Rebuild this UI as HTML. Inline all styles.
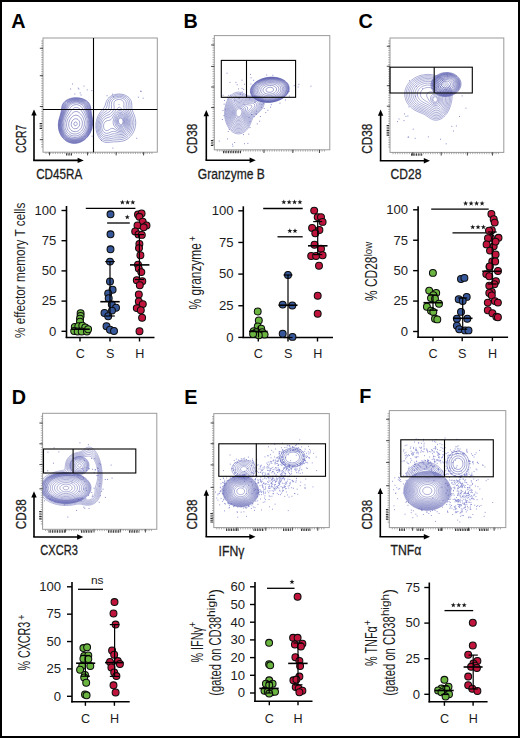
<!DOCTYPE html>
<html><head><meta charset="utf-8"><style>
html,body{margin:0;padding:0;background:#fff;}
body{width:520px;height:738px;overflow:hidden;}
svg{display:block;font-family:"Liberation Sans", sans-serif;}
</style></head><body>
<svg width="520" height="738" viewBox="0 0 520 738">
<rect x="0" y="0" width="520" height="738" fill="#fff"/>
<text x="11.3" y="28" font-size="19.8" font-weight="bold" text-anchor="start" fill="#000">A</text>
<text x="183.6" y="27.6" font-size="19.8" font-weight="bold" text-anchor="start" fill="#000">B</text>
<text x="358.4" y="28" font-size="19.8" font-weight="bold" text-anchor="start" fill="#000">C</text>
<text x="11.8" y="403.8" font-size="19.8" font-weight="bold" text-anchor="start" fill="#000">D</text>
<text x="184.2" y="403.8" font-size="19.8" font-weight="bold" text-anchor="start" fill="#000">E</text>
<text x="359.2" y="403.4" font-size="19.8" font-weight="bold" text-anchor="start" fill="#000">F</text>
<rect x="43" y="38" width="114.3" height="114.2" stroke="#9a9a9a" stroke-width="1" fill="none"/>
<path d="M41.2,41h1.8M41.2,43.35h1.8M41.2,45.7h1.8M41.2,48.06h1.8M41.2,50.41h1.8M41.2,52.76h1.8M41.2,55.11h1.8M41.2,57.47h1.8M41.2,59.82h1.8M41.2,62.17h1.8M41.2,64.52h1.8M41.2,66.87h1.8M41.2,69.23h1.8M41.2,71.58h1.8M41.2,73.93h1.8M41.2,76.28h1.8M41.2,78.63h1.8M41.2,80.99h1.8M41.2,83.34h1.8M41.2,85.69h1.8M41.2,88.04h1.8M41.2,90.4h1.8M41.2,92.75h1.8M41.2,95.1h1.8M41.2,97.45h1.8M41.2,99.8h1.8M41.2,102.16h1.8M41.2,104.51h1.8M41.2,106.86h1.8M41.2,109.21h1.8M41.2,111.57h1.8M41.2,113.92h1.8M41.2,116.27h1.8M41.2,118.62h1.8M41.2,120.97h1.8M41.2,123.33h1.8M41.2,125.68h1.8M41.2,128.03h1.8M41.2,130.38h1.8M41.2,132.73h1.8M41.2,135.09h1.8M41.2,137.44h1.8M41.2,139.79h1.8M41.2,142.14h1.8M41.2,144.5h1.8M41.2,146.85h1.8M46,152.2v1.8M48.35,152.2v1.8M50.71,152.2v1.8M53.06,152.2v1.8M55.42,152.2v1.8M57.77,152.2v1.8M60.13,152.2v1.8M62.48,152.2v1.8M64.83,152.2v1.8M67.19,152.2v1.8M69.54,152.2v1.8M71.9,152.2v1.8M74.25,152.2v1.8M76.61,152.2v1.8M78.96,152.2v1.8M81.32,152.2v1.8M83.67,152.2v1.8M86.02,152.2v1.8M88.38,152.2v1.8M90.73,152.2v1.8M93.09,152.2v1.8M95.44,152.2v1.8M97.8,152.2v1.8M100.15,152.2v1.8M102.5,152.2v1.8M104.86,152.2v1.8M107.21,152.2v1.8M109.57,152.2v1.8M111.92,152.2v1.8M114.28,152.2v1.8M116.63,152.2v1.8M118.98,152.2v1.8M121.34,152.2v1.8M123.69,152.2v1.8M126.05,152.2v1.8M128.4,152.2v1.8M130.76,152.2v1.8M133.11,152.2v1.8M135.47,152.2v1.8M137.82,152.2v1.8M140.17,152.2v1.8M142.53,152.2v1.8M144.88,152.2v1.8M147.24,152.2v1.8M149.59,152.2v1.8M151.95,152.2v1.8" stroke="#8a8a8a" stroke-width="0.7"/>
<path d="M39.8,48.28h3.2M39.8,75.69h3.2M39.8,106.52h3.2M39.8,139.64h3.2M49.52,152.2v3.2M87.58,152.2v3.2M116.15,152.2v3.2M143.58,152.2v3.2" stroke="#333" stroke-width="0.9"/>
<line x1="66" y1="154.4" x2="72" y2="154.4" stroke="#2a2a2a" stroke-width="2.4" stroke-dasharray="0.9 0.8"/>
<line x1="40.8" y1="123" x2="40.8" y2="129" stroke="#2a2a2a" stroke-width="2.4" stroke-dasharray="0.9 0.8"/>
<line x1="34" y1="160.4" x2="34" y2="113.4" stroke="#000" stroke-width="1.6"/>
<line x1="33.2" y1="160.4" x2="79.8" y2="160.4" stroke="#000" stroke-width="1.6"/>
<path d="M34,109.4 L31.3,115.6 L36.7,115.6Z" fill="#000"/>
<path d="M83.8,160.4 L77.6,157.7 L77.6,163.1Z" fill="#000"/>
<path d="M80.6,95.0h0.9M74.4,94.0h0.9M78.4,89.0h0.9M91.4,90.6h0.9M79.7,92.9h0.9M86.8,89.9h0.9M83.5,86.1h0.9M77.8,88.2h0.9M72.0,84.0h0.9M70.2,89.0h0.9M113.2,96.8h0.9M112.0,94.2h0.9M101.0,140.4h0.9M91.6,136.2h0.9M95.6,109.7h0.9M106.6,95.7h0.9M140.8,91.3h0.9M137.9,97.2h0.9M140.1,91.3h0.9M136.3,138.3h0.9M112.4,148.1h0.9M142.7,98.2h0.9" stroke="#4f55b5" stroke-width="0.9" opacity="0.8"/>
<path d="M74.9,122l1.1,-0.1 0.8,0.6 0.4,1 -0.2,1.2 -0.7,0.8 -1.3,0.3 -0.9,-0.8 -0.3,-1 0.2,-1 0.9,-1 M74.4,119l1.1,-0.3 1.5,0.2 1,0.6 0.5,0.5 0.7,1 0.4,1 0.2,1.5 -0.2,1.5 -0.4,1 -0.6,1 -0.6,0.7 -1,0.7 -1,0.3 -1.5,0 -1,-0.3 -1,-0.8 -0.5,-0.6 -0.5,-1 -0.3,-1.5 0.2,-1.5 0.3,-1 0.5,-1 0.8,-1 0.5,-0.5 0.9,-0.5 M74.3,115.5l1.2,-0.3 1.5,0.1 1,0.3 1,0.7 0.8,0.7 0.7,0.8 0.5,0.7 0.5,1 0.5,1.3 0.3,1.2 0.1,1.5 -0.2,1.5 -0.2,1 -0.5,1.3 -0.5,0.9 -0.6,0.8 -0.9,1 -0.7,0.5 -0.8,0.5 -1.3,0.5 -1.2,0.2 -1.5,-0.1 -1,-0.2 -1,-0.5 -1,-0.8 -0.6,-0.6 -0.7,-1 -0.5,-1 -0.3,-1 -0.2,-1.5 0,-1.5 0.3,-1.5 0.3,-1 0.5,-1 0.5,-1 0.7,-0.9 0.5,-0.6 1,-0.9 0.8,-0.6 1,-0.5 M75.7,111.5l1,0 1.3,0.4 1,0.6 0.6,0.5 0.9,0.8 0.6,0.7 0.7,1 0.7,1 0.5,0.9 0.5,1.1 0.3,1 0.3,1 0.3,1.5 0,1.5 -0.1,1.5 -0.3,1.4 -0.4,1.1 -0.4,1 -0.6,1 -0.6,0.9 -0.5,0.6 -1,0.9 -0.8,0.6 -0.8,0.5 -1.1,0.5 -1.3,0.4 -1,0.1 -1.5,0 -1,-0.2 -1,-0.3 -1,-0.5 -1,-0.7 -0.9,-0.8 -0.6,-0.8 -0.5,-0.7 -0.5,-1 -0.5,-1.4 -0.3,-1.1 -0.1,-1.5 0,-1.5 0.3,-1.5 0.2,-1 0.4,-1 0.5,-1.2 0.5,-0.9 0.6,-0.9 0.7,-1 0.7,-0.9 0.5,-0.6 1,-1 0.6,-0.5 0.9,-0.7 1,-0.5 1.2,-0.3 M75.4,107.5l1.1,-0.1 1,0.2 1,0.4 1,0.7 0.9,0.8 0.6,0.7 0.5,0.8 0.7,1 0.6,1 0.6,1 0.5,1 0.5,1 0.5,1 0.3,1 0.4,1 0.3,1.5 0.2,1 0,1.5 0,1.5 -0.2,1 -0.3,1.5 -0.3,1 -0.4,1 -0.6,1 -0.6,1 -0.7,0.9 -0.5,0.6 -1,0.9 -0.7,0.6 -0.8,0.5 -1,0.5 -1.2,0.5 -1.3,0.3 -1.5,0.2 -1.5,-0.1 -1.5,-0.3 -1,-0.4 -1,-0.6 -0.9,-0.6 -0.6,-0.5 -1,-1 -0.5,-0.7 -0.5,-0.8 -0.5,-1 -0.5,-1.2 -0.4,-1.3 -0.1,-1 -0.1,-1.5 0,-1.5 0.1,-1 0.4,-1.5 0.3,-1 0.3,-1 0.5,-1.1 0.5,-1 0.5,-0.9 0.6,-1 0.7,-1 0.6,-1 0.6,-0.9 0.5,-0.7 0.7,-0.9 0.8,-0.9 0.6,-0.6 0.9,-0.7 1,-0.6 0.9,-0.2 M73.9,105l1.1,-0.3 1.5,-0.1 1.5,0.2 1,0.4 1,0.5 1,0.7 0.6,0.6 0.7,1 0.6,1 0.6,1 0.4,1 0.5,1 0.4,1 0.5,1 0.4,1 0.4,1 0.4,1.2 0.4,1.3 0.2,1 0.3,1.5 0.1,1.3 0,1.2 -0.1,1 -0.2,1.5 -0.2,1 -0.5,1.5 -0.4,1 -0.5,1 -0.6,1 -0.5,0.8 -0.6,0.7 -0.9,1 -0.5,0.5 -1,0.8 -1,0.6 -1,0.5 -1,0.5 -1,0.3 -1.5,0.3 -1,0 -1.2,0 -1.3,-0.2 -1.1,-0.3 -1.2,-0.5 -0.9,-0.5 -0.8,-0.5 -1,-0.8 -0.7,-0.7 -0.8,-1 -0.5,-0.8 -0.5,-0.9 -0.5,-1.1 -0.4,-1.2 -0.3,-1 -0.2,-1.5 -0.1,-1.1 0,-1.1 0.1,-1.3 0.2,-1.5 0.3,-1 0.4,-1.3 0.4,-1.2 0.5,-1 0.4,-1 0.6,-1 0.5,-1 0.5,-1 0.5,-1 0.5,-1 0.6,-1 0.5,-1 0.5,-0.8 0.5,-0.7 0.9,-1 0.6,-0.5 1,-0.6 0.9,-0.4 M75.2,103l1.3,0 1,0 1.5,0.4 1,0.3 1,0.5 1,0.7 0.6,0.6 0.8,1 0.6,0.9 0.5,1 0.4,1.1 0.4,1 0.4,1 0.3,1 0.5,1.3 0.4,1.2 0.4,1 0.3,1 0.4,1.5 0.2,1 0.2,1.5 0.1,1 0,1.5 0,1 -0.2,1.5 -0.3,1.2 -0.4,1.3 -0.4,1 -0.4,1 -0.5,1 -0.7,1 -0.6,0.8 -0.5,0.7 -1,1 -0.6,0.5 -0.9,0.7 -1,0.7 -1,0.5 -1,0.5 -1,0.3 -1.2,0.3 -1.3,0.2 -1.5,0 -1.5,-0.2 -1,-0.2 -1,-0.4 -1,-0.4 -1,-0.6 -1,-0.7 -0.8,-0.7 -0.7,-0.7 -0.6,-0.8 -0.7,-1 -0.6,-1 -0.5,-1 -0.3,-1 -0.3,-1 -0.3,-1.5 -0.2,-1.4 0,-1.1 0,-1.2 0.1,-1.3 0.3,-1.5 0.3,-1 0.3,-1.1 0.5,-1.4 0.4,-1 0.5,-1 0.4,-1 0.5,-1 0.4,-1 0.5,-1 0.4,-1 0.4,-1 0.5,-1.2 0.5,-1 0.5,-0.8 0.8,-1 0.7,-0.7 1,-0.6 1,-0.5 1,-0.4 1.5,-0.3 0.2,0 M75.3,102l1.2,0 1,0 1.5,0.3 1,0.3 1,0.4 1,0.6 1,0.7 0.7,0.7 0.8,1 0.5,0.9 0.5,1.1 0.3,1 0.4,1 0.3,1.1 0.4,1.4 0.4,1 0.3,1 0.4,1.2 0.4,1.3 0.2,1 0.3,1.5 0.2,1 0.1,1.5 0,1.5 -0.1,1.5 -0.1,1 -0.4,1.5 -0.3,1 -0.3,1 -0.5,1.1 -0.5,1 -0.5,0.9 -0.7,1 -0.8,0.9 -0.5,0.6 -1,1 -0.7,0.5 -0.8,0.6 -1,0.6 -1,0.6 -1,0.4 -1,0.3 -1.5,0.3 -1.5,0.2 -1.5,-0.1 -1.5,-0.2 -1,-0.3 -1.1,-0.4 -1.1,-0.5 -0.8,-0.5 -1,-0.7 -0.9,-0.8 -0.6,-0.7 -0.7,-0.8 -0.7,-1 -0.5,-1 -0.5,-1 -0.4,-1 -0.3,-1 -0.4,-1.5 -0.1,-1 -0.1,-1.5 0,-1.5 0.1,-1.5 0.2,-1 0.4,-1.5 0.2,-1 0.4,-1 0.4,-1.1 0.5,-1.2 0.5,-1.2 0.4,-1 0.4,-1 0.4,-1 0.4,-1 0.4,-1.2 0.5,-1.3 0.4,-1 0.6,-1 0.5,-0.8 0.7,-0.7 0.8,-0.7 1,-0.6 1,-0.5 1,-0.3 1.5,-0.3 0.8,-0.1 M73.7,101.5l1.3,-0.2 1.5,0 1.5,0.1 1,0.2 1.5,0.4 1,0.4 1,0.6 0.8,0.5 0.7,0.6 0.8,0.9 0.6,1 0.5,1 0.4,1 0.3,1 0.4,1.3 0.3,1.2 0.3,1 0.4,1.3 0.4,1.2 0.3,1 0.3,1.3 0.3,1.2 0.2,1.2 0.2,1.3 0.1,1.5 -0.1,1.5 -0.1,1.5 -0.2,1 -0.4,1.5 -0.3,1 -0.4,1 -0.4,1 -0.5,1 -0.7,1 -0.7,1 -0.5,0.7 -0.8,0.8 -0.7,0.7 -0.9,0.8 -0.7,0.5 -0.9,0.6 -1,0.5 -1,0.5 -1.2,0.4 -1.3,0.3 -1.2,0.2 -1.3,0.1 -1.1,-0.1 -1.4,-0.2 -1.1,-0.3 -1.4,-0.5 -1,-0.5 -0.8,-0.5 -0.7,-0.5 -1,-0.9 -0.6,-0.6 -0.9,-1 -0.5,-0.7 -0.5,-0.8 -0.6,-1 -0.4,-1 -0.5,-1.4 -0.3,-1.1 -0.2,-1 -0.2,-1.5 0,-1.5 0,-1.5 0.2,-1.5 0.2,-1 0.3,-1.3 0.4,-1.2 0.3,-1 0.4,-1 0.4,-1.1 0.5,-1.2 0.5,-1.2 0.3,-1 0.4,-1 0.3,-1 0.5,-1.5 0.3,-1 0.4,-1 0.6,-1 0.7,-1 0.5,-0.5 1,-0.8 1,-0.6 1,-0.5 1,-0.3 1.2,-0.3 M72.7,101l1.3,-0.2 1.5,-0.2 1.5,0 1.5,0.2 1.1,0.2 1.4,0.4 1,0.4 1,0.6 0.9,0.6 0.6,0.5 0.9,1 0.6,0.9 0.5,0.9 0.5,1.2 0.3,1 0.2,1 0.4,1.5 0.2,1 0.4,1.3 0.3,1.2 0.3,1 0.4,1.5 0.2,1 0.3,1.5 0.1,1 0.2,1.5 0,1.5 -0.2,1.5 -0.1,1 -0.3,1.5 -0.3,1 -0.4,1.2 -0.5,1.2 -0.5,1 -0.5,0.9 -0.5,0.8 -0.7,0.9 -0.8,1 -0.5,0.5 -1,0.9 -0.7,0.6 -0.8,0.6 -1,0.6 -1,0.6 -1,0.4 -1,0.3 -1.5,0.4 -1,0.2 -1.5,0 -1.5,0 -1,-0.2 -1.5,-0.4 -1,-0.4 -1,-0.5 -1,-0.6 -0.8,-0.5 -0.7,-0.6 -0.9,-0.9 -0.6,-0.6 -0.7,-0.9 -0.7,-1 -0.5,-1 -0.5,-1 -0.4,-1 -0.3,-1 -0.3,-1.5 -0.2,-1 -0.1,-1.5 -0.1,-1.5 0.1,-1.5 0.2,-1.1 0.3,-1.4 0.2,-1 0.5,-1.5 0.3,-1 0.4,-1 0.4,-1 0.4,-1.1 0.5,-1.4 0.3,-1 0.3,-1 0.4,-1.4 0.3,-1.1 0.3,-1 0.4,-1 0.6,-1 0.8,-1 0.6,-0.6 1,-0.8 1,-0.6 1,-0.4 1,-0.4 0.7,-0.2 M72.4,100.5l1.1,-0.2 1.5,-0.2 1.5,0 1.5,0.1 1.5,0.2 1,0.3 1,0.3 1.1,0.5 0.9,0.5 1,0.7 0.9,0.8 0.6,0.7 0.6,0.8 0.5,1 0.4,1.1 0.4,1.4 0.2,1 0.4,1.5 0.2,1 0.3,1.2 0.3,1.3 0.3,1 0.4,1.5 0.2,1 0.3,1.5 0.1,1 0.1,1.5 0,1.5 -0.1,1.5 -0.2,1 -0.3,1.5 -0.2,1 -0.4,1.1 -0.5,1.2 -0.5,1.1 -0.5,0.9 -0.5,0.8 -0.6,0.9 -0.8,1 -0.6,0.6 -0.9,0.9 -0.6,0.5 -1,0.8 -1,0.7 -1,0.5 -1,0.5 -1,0.4 -1,0.3 -1.5,0.3 -1,0.1 -1.5,0 -1.3,-0.1 -1.2,-0.2 -1,-0.3 -1.3,-0.5 -1,-0.5 -0.9,-0.5 -0.8,-0.6 -1,-0.8 -0.6,-0.6 -0.9,-1 -0.5,-0.6 -0.6,-0.9 -0.6,-1 -0.5,-1 -0.4,-1 -0.4,-1.4 -0.3,-1.1 -0.2,-1.2 -0.1,-1.3 -0.1,-1.5 0.1,-1.5 0.1,-1.1 0.2,-1.4 0.3,-1.2 0.4,-1.3 0.3,-1 0.3,-1 0.5,-1.3 0.4,-1.2 0.4,-1 0.3,-1 0.4,-1.4 0.3,-1.1 0.2,-1 0.4,-1.5 0.4,-1 0.5,-1 0.7,-1 0.5,-0.6 1,-0.9 0.8,-0.5 0.9,-0.5 1.1,-0.5 1.2,-0.4 0.4,-0.1 M72.2,100l1.3,-0.3 1.5,-0.1 1.5,-0.1 1.5,0.1 1.5,0.3 1,0.2 1.2,0.4 1.2,0.5 1,0.5 0.7,0.5 0.9,0.7 0.8,0.8 0.7,0.9 0.5,0.9 0.5,1.2 0.3,1 0.2,1 0.3,1.5 0.2,1 0.4,1.5 0.2,1 0.4,1.5 0.2,1 0.3,1.3 0.2,1.2 0.3,1.5 0.1,1 0,1.5 0,1.5 -0.1,1 -0.2,1.5 -0.3,1.3 -0.3,1.2 -0.4,1 -0.4,1 -0.5,1 -0.5,1 -0.7,1 -0.7,1 -0.5,0.7 -0.8,0.8 -0.7,0.7 -0.9,0.8 -0.6,0.5 -1,0.7 -1,0.6 -1,0.5 -1,0.4 -1,0.3 -1.5,0.4 -1,0.1 -1.5,0.1 -1.5,-0.1 -1,-0.1 -1.5,-0.4 -1,-0.3 -1,-0.5 -1,-0.5 -1,-0.7 -0.7,-0.5 -0.8,-0.7 -0.8,-0.8 -0.7,-0.9 -0.5,-0.6 -0.6,-1 -0.6,-1 -0.4,-1 -0.4,-1 -0.5,-1.5 -0.2,-1 -0.3,-1.5 -0.1,-1 0,-1.5 0,-1.5 0.2,-1 0.2,-1.5 0.2,-1 0.4,-1.5 0.3,-1 0.4,-1 0.4,-1.2 0.4,-1.3 0.4,-1 0.3,-1 0.3,-1.5 0.2,-1 0.4,-1.5 0.2,-1 0.4,-1 0.4,-1 0.6,-1 0.9,-1 0.5,-0.5 1,-0.7 1,-0.6 1,-0.5 1,-0.4 1.2,-0.3 M72,99.5l1.5,-0.3 1.5,-0.1 1.5,-0.1 1.5,0.1 1.5,0.2 1,0.3 1.5,0.4 1,0.4 1,0.5 1,0.6 0.6,0.5 0.9,0.8 0.6,0.7 0.7,1 0.5,1 0.4,1 0.3,1.1 0.3,1.4 0.2,1.4 0.2,1.1 0.3,1.5 0.2,1 0.3,1.2 0.3,1.3 0.2,1 0.3,1.5 0.2,1.5 0,1 0.1,1.5 -0.1,1.2 -0.1,1.3 -0.3,1.5 -0.2,1 -0.4,1.3 -0.4,1.2 -0.5,1 -0.5,1 -0.5,1 -0.6,0.9 -0.5,0.7 -0.7,0.9 -0.8,0.9 -0.6,0.6 -0.9,0.8 -0.9,0.7 -0.7,0.5 -0.9,0.5 -1,0.6 -1,0.4 -1.5,0.5 -1,0.3 -1.4,0.2 -1.1,0.1 -1.5,0 -1,-0.1 -1.5,-0.3 -1,-0.3 -1,-0.4 -1,-0.5 -1,-0.6 -1,-0.6 -0.9,-0.8 -0.6,-0.5 -0.9,-1 -0.6,-0.8 -0.5,-0.7 -0.7,-1 -0.5,-1 -0.4,-1 -0.4,-1 -0.5,-1.5 -0.2,-1 -0.2,-1.5 -0.1,-1 0,-1.5 0,-1.2 0.1,-1.3 0.3,-1.5 0.2,-1 0.4,-1.5 0.3,-1 0.3,-1 0.4,-1.2 0.4,-1.3 0.3,-1 0.3,-1 0.3,-1.5 0.2,-1 0.3,-1.5 0.2,-1 0.5,-1.5 0.5,-1 0.5,-0.8 0.6,-0.7 0.9,-0.9 0.8,-0.6 0.8,-0.5 1,-0.5 1.2,-0.5 1.2,-0.4 0.5,-0.1 M71.9,99l1.1,-0.2 1.5,-0.2 1.5,-0.1 1.5,0.1 1.5,0.1 1.4,0.3 1.1,0.3 1,0.3 1,0.4 1,0.5 1,0.7 1,0.7 0.6,0.6 0.8,1 0.6,0.9 0.5,1 0.4,1.1 0.2,1 0.3,1.5 0.1,1 0.3,1.5 0.2,1.4 0.2,1.1 0.3,1.3 0.3,1.2 0.2,1.2 0.2,1.3 0.2,1.5 0.1,1.5 0,1.5 -0.1,1.5 -0.3,1.5 -0.2,1 -0.4,1.5 -0.3,1 -0.4,1 -0.4,1 -0.5,1 -0.6,1 -0.7,1 -0.6,0.8 -0.6,0.7 -0.9,1 -0.5,0.5 -1,0.9 -0.8,0.6 -0.8,0.5 -0.9,0.6 -1,0.5 -1,0.4 -1.5,0.5 -1,0.3 -1.5,0.2 -1,0.1 -1.5,0 -1,-0.1 -1.5,-0.3 -1,-0.3 -1,-0.4 -1.1,-0.5 -0.9,-0.5 -1,-0.6 -1,-0.8 -0.6,-0.6 -0.9,-0.9 -0.5,-0.6 -0.8,-1 -0.6,-1 -0.5,-1 -0.5,-1 -0.4,-1 -0.3,-1 -0.4,-1.4 -0.2,-1.1 -0.2,-1.5 -0.1,-1.5 0.1,-1.5 0.1,-1.5 0.2,-1.5 0.2,-1 0.4,-1.4 0.3,-1.1 0.3,-1 0.4,-1.2 0.4,-1.3 0.3,-1 0.3,-1.2 0.3,-1.3 0.2,-1.5 0.1,-1 0.4,-1.5 0.3,-1 0.4,-1 0.6,-1 0.7,-0.8 0.7,-0.7 0.8,-0.7 1,-0.6 1,-0.5 1,-0.5 1,-0.3 1.4,-0.4 M71.8,98.5l1.2,-0.2 1.5,-0.2 1.5,-0.1 1.5,0.1 1.5,0.1 1.5,0.3 1,0.2 1,0.4 1.1,0.4 1.1,0.5 0.8,0.5 1,0.7 1,0.8 0.5,0.6 0.7,0.9 0.6,1 0.4,1 0.4,1 0.3,1.5 0.1,1 0.2,1.5 0.2,1.5 0.1,1 0.3,1.5 0.2,1 0.3,1.5 0.2,1 0.2,1.5 0.2,1.5 0,1.5 0,1.5 -0.2,1.5 -0.2,1.4 -0.2,1.1 -0.3,1 -0.5,1.4 -0.4,1.1 -0.5,1 -0.5,1 -0.6,0.9 -0.5,0.8 -0.6,0.8 -0.8,1 -0.6,0.6 -0.9,0.9 -0.6,0.5 -1,0.8 -1,0.7 -0.9,0.5 -0.9,0.5 -1.2,0.5 -1,0.4 -1,0.2 -1.5,0.3 -1,0.1 -1.5,0.1 -1,-0.1 -1.5,-0.2 -1.1,-0.3 -1.4,-0.5 -1,-0.4 -1,-0.5 -0.9,-0.6 -0.7,-0.5 -0.9,-0.7 -0.8,-0.8 -0.7,-0.8 -0.6,-0.7 -0.7,-1 -0.6,-1 -0.5,-1 -0.5,-1 -0.4,-1 -0.3,-1 -0.4,-1.5 -0.2,-1 -0.1,-1.5 -0.1,-1.5 0,-1.5 0.2,-1.5 0.2,-1.5 0.2,-1 0.3,-1.2 0.3,-1.3 0.4,-1 0.3,-1.1 0.4,-1.4 0.3,-1 0.3,-1.4 0.2,-1.1 0.2,-1.5 0.1,-1 0.3,-1.5 0.3,-1 0.4,-1.1 0.5,-0.9 0.8,-1 0.7,-0.7 0.9,-0.8 0.8,-0.5 0.9,-0.5 1,-0.5 1.3,-0.5 1.1,-0.3 0.8,-0.2 M72.8,98l1.2,-0.2 1.5,-0.1 1.5,0.1 1.5,0.1 1,0.1 1.5,0.3 1,0.3 1.2,0.4 1.2,0.5 1,0.5 0.8,0.5 0.8,0.6 1,0.9 0.5,0.6 0.7,0.9 0.6,1 0.4,1 0.3,1.2 0.2,1.3 0.2,1.5 0.1,1 0.2,1.5 0.2,1.5 0.2,1 0.3,1.5 0.2,1 0.3,1.5 0.1,1.1 0.1,1.4 0.1,1.5 -0.1,1.5 -0.1,1.4 -0.2,1.1 -0.3,1.5 -0.2,1 -0.4,1 -0.4,1.1 -0.5,1.2 -0.5,1 -0.5,0.8 -0.6,0.9 -0.7,1 -0.7,0.9 -0.5,0.6 -1,1 -0.6,0.5 -0.9,0.8 -1,0.7 -0.8,0.5 -0.9,0.5 -1.1,0.5 -1.2,0.5 -1,0.3 -1,0.2 -1.5,0.3 -1.5,0.1 -1.5,-0.1 -1.5,-0.2 -1,-0.3 -1.1,-0.3 -1.2,-0.5 -1,-0.5 -0.9,-0.5 -0.8,-0.6 -1,-0.8 -0.7,-0.6 -0.8,-0.8 -0.6,-0.7 -0.7,-1 -0.6,-1 -0.6,-1 -0.5,-1 -0.4,-1 -0.3,-1 -0.3,-1 -0.3,-1.5 -0.2,-1.1 -0.1,-1.4 -0.1,-1.5 0.1,-1.5 0.1,-1 0.2,-1.5 0.3,-1.3 0.3,-1.2 0.3,-1 0.4,-1.4 0.3,-1.1 0.3,-1 0.4,-1.5 0.2,-1 0.2,-1.5 0.1,-1 0.2,-1.5 0.3,-1.5 0.3,-1 0.5,-1 0.6,-1 0.6,-0.7 0.7,-0.8 0.8,-0.6 1,-0.7 1,-0.5 1,-0.5 1,-0.4 1,-0.3 1.5,-0.4 0.8,-0.1" fill="none" stroke="#5054aa" stroke-width="0.6" opacity="0.9" stroke-linejoin="round"/>
<path d="M120.4,118l0.6,0.1 1,0.7 0.5,0.7 0.5,1.5 0,0.9 -0.2,1.1 -0.6,1 -0.7,0.5 -1.1,0 -0.9,-0.6 -0.6,-0.9 -0.4,-1.1 -0.1,-1.4 0.3,-1 0.6,-1 1.1,-0.5 M119.9,117l1.1,0 0.9,0.5 0.6,0.6 0.6,0.9 0.4,1.1 0.2,1.4 -0.1,1.5 -0.3,1 -0.7,1 -0.7,0.5 -1.4,0.1 -1,-0.4 -0.7,-0.7 -0.6,-1 -0.4,-1 -0.2,-1.5 0.2,-1.5 0.4,-1 0.7,-1 1,-0.5 M119.4,116l1.1,-0.2 1,0.3 1,0.7 0.6,0.7 0.6,1 0.4,1 0.3,1.5 0.1,1.5 -0.3,1.5 -0.4,1 -0.8,1 -0.7,0.5 -1.3,0.3 -1.2,-0.3 -0.9,-0.5 -0.9,-1 -0.5,-0.8 -0.5,-1.2 -0.2,-1 0,-1.5 0.2,-1.4 0.4,-1.1 0.6,-1 0.5,-0.5 0.9,-0.5 M118.9,115l1.1,-0.3 1.5,0.3 0.9,0.5 0.6,0.6 0.8,0.9 0.5,1 0.4,1 0.3,1 0.2,1.5 0,1.5 -0.2,1.1 -0.5,1.4 -0.5,0.9 -0.6,0.6 -0.9,0.6 -1.5,0.4 -1.5,-0.4 -1,-0.6 -0.5,-0.5 -0.9,-1 -0.5,-1 -0.4,-1 -0.3,-1 -0.1,-1.5 0.1,-1.5 0.3,-1 0.4,-1 0.6,-1 0.8,-0.9 0.9,-0.6 M118.3,114l1.2,-0.5 1.5,0.1 1,0.5 1,0.7 0.7,0.7 0.7,1 0.6,1 0.4,1 0.3,1 0.3,1.5 0,1 0,1.1 -0.2,1.4 -0.3,1 -0.5,1.1 -0.6,0.9 -0.9,0.8 -1,0.6 -1,0.2 -1.5,-0.1 -1,-0.4 -1,-0.6 -0.6,-0.5 -0.9,-0.9 -0.5,-0.7 -0.5,-0.9 -0.5,-1.4 -0.2,-1.1 -0.1,-1.5 0.2,-1.5 0.2,-1 0.4,-1.1 0.5,-1 0.6,-0.9 0.9,-1 0.8,-0.5 M118.4,112.5l1.1,-0.3 1.5,0.1 1,0.5 1,0.7 0.6,0.5 0.9,1 0.5,0.8 0.5,0.9 0.5,1.1 0.4,1.2 0.2,1 0.2,1.5 0,1.5 -0.1,1.5 -0.3,1 -0.4,1.2 -0.5,0.9 -0.6,0.9 -0.9,0.9 -1,0.6 -1,0.3 -1.5,0.1 -1.4,-0.4 -1.1,-0.5 -0.8,-0.5 -0.7,-0.5 -1,-1 -0.5,-0.6 -0.7,-0.9 -0.6,-1 -0.4,-1 -0.2,-1.5 0.1,-1.5 0.3,-1.5 0.3,-1 0.4,-1 0.5,-1 0.5,-1 0.7,-1 0.6,-0.6 1,-0.9 0.9,-0.5 M118,111l1,-0.4 1.5,0.1 1,0.3 1,0.6 1,0.8 0.6,0.6 0.8,1 0.6,0.9 0.5,0.8 0.5,1 0.5,1.3 0.3,1 0.2,1 0.2,1.5 0,1.5 -0.1,1.5 -0.2,1 -0.4,1.3 -0.5,1.1 -0.5,0.9 -0.5,0.7 -1,0.9 -0.9,0.6 -1.1,0.5 -1,0.2 -1.5,-0.1 -1,-0.2 -1.1,-0.4 -1,-0.5 -0.9,-0.5 -1,-0.6 -1,-0.6 -1,-0.4 -1.5,0 -1,0.5 -0.9,0.6 -0.9,0.5 -1.2,0.5 -1,0.1 -1,-0.3 -1,-0.8 -0.5,-0.9 -0.3,-1.1 -0.2,-1.5 0.2,-1.5 0.3,-1 0.6,-1 0.9,-1 0.9,-0.5 1.1,-0.4 1,-0.1 1.5,-0.4 1,-0.6 0.5,-0.5 0.7,-1 0.6,-1 0.6,-1 0.6,-0.9 0.5,-0.7 0.6,-0.9 0.9,-1 0.5,-0.5 1,-0.7 0.5,-0.3 M118.8,104l0.2,0.5 -0.2,-0.5 M118.5,107.5l1,-0.3 1,0.7 0.7,0.6 0.8,0.7 0.8,0.8 0.7,0.7 0.7,0.8 0.8,0.9 0.5,0.7 0.6,0.9 0.6,1 0.5,1 0.4,1 0.4,1.2 0.3,1.3 0.2,1 0.2,1.5 0,1.5 -0.2,1.5 -0.2,1 -0.3,1 -0.5,1.3 -0.5,1 -0.5,0.7 -0.9,1 -0.6,0.6 -1,0.6 -1,0.5 -1.4,0.3 -1.1,0.1 -1,-0.1 -1.5,-0.4 -1,-0.3 -1,-0.4 -1.5,-0.4 -1,-0.2 -1.3,0.2 -1.2,0.4 -1,0.5 -1,0.4 -1,0.4 -1.5,0.1 -1.4,-0.3 -0.9,-0.5 -0.7,-0.7 -0.6,-0.8 -0.5,-1 -0.4,-1.3 -0.2,-1.2 -0.1,-1.5 0.1,-1.5 0.2,-1 0.5,-1.4 0.5,-1 0.5,-0.7 0.7,-0.9 0.8,-0.6 1,-0.7 1,-0.4 1,-0.3 1.5,-0.5 0.9,-0.5 0.7,-0.5 0.9,-0.9 0.5,-0.6 0.8,-1 0.7,-0.9 0.5,-0.6 0.8,-1 0.7,-0.9 0.5,-0.6 0.9,-1 0.6,-0.6 0.5,-0.4 M118.1,99.5l1.4,0 1,0.1 1,0.4 1,0.6 0.8,0.9 0.5,1 0.2,1.5 0,0.5 -0.2,1.5 0.1,1.5 0.2,1 0.5,1 0.6,1 0.6,1 0.7,1 0.5,0.9 0.5,0.9 0.5,1 0.5,1.2 0.4,1 0.3,1 0.3,1.5 0.1,1 0.1,1.5 0,1.5 -0.2,1.5 -0.2,1 -0.3,1 -0.5,1.3 -0.5,1 -0.5,0.8 -0.6,0.9 -0.9,0.9 -0.7,0.6 -0.8,0.5 -1.1,0.5 -1.4,0.4 -1,0.1 -1.5,0 -1,-0.1 -1.5,-0.3 -1,-0.2 -1.5,-0.2 -1.5,0.1 -1,0.3 -1.3,0.4 -1.2,0.4 -1,0.3 -1.5,0.3 -1.5,-0.2 -1,-0.3 -1,-0.6 -0.9,-0.9 -0.6,-0.9 -0.5,-0.9 -0.5,-1.2 -0.3,-1 -0.2,-1 -0.2,-1.5 0,-1.5 0.2,-1.5 0.2,-1 0.3,-1.1 0.5,-1.3 0.5,-1 0.5,-0.8 0.7,-0.8 0.8,-0.8 0.9,-0.7 0.8,-0.5 1,-0.5 1.3,-0.5 1,-0.4 1,-0.6 0.7,-0.5 0.8,-0.7 0.7,-0.8 0.8,-1 0.5,-0.9 0.5,-1.1 0.2,-1 -0.1,-1.5 -0.1,-1 -0.2,-1.5 0.2,-1.4 0.5,-1.1 0.5,-0.6 1,-0.7 1,-0.5 1.1,-0.2 M116.6,98l1.4,-0.3 1.5,0 1.5,0.2 1,0.3 1,0.4 1,0.6 0.9,0.8 0.6,0.8 0.5,1 0.3,1.2 0,1.5 -0.2,1.5 0,1.5 0.2,1.5 0.4,1 0.4,1 0.5,1 0.6,1 0.5,1 0.4,1 0.5,1 0.4,1.2 0.4,1.3 0.2,1 0.2,1.5 0.1,1.5 0,1.5 -0.2,1.5 -0.2,1.2 -0.4,1.3 -0.3,1 -0.5,1 -0.5,1 -0.7,1 -0.6,0.8 -0.7,0.7 -0.8,0.7 -1,0.6 -1,0.5 -1,0.4 -1.2,0.3 -1.3,0.1 -1.5,0 -1.5,-0.1 -1,-0.1 -1.5,0 -1.5,0.1 -1,0.1 -1.4,0.4 -1.1,0.3 -1,0.3 -1.5,0.2 -1.5,0 -1.3,-0.3 -1.1,-0.5 -0.7,-0.5 -0.9,-0.9 -0.5,-0.6 -0.6,-1 -0.5,-1 -0.4,-1 -0.5,-1.5 -0.2,-1 -0.1,-1.5 -0.1,-1.5 0.1,-1.5 0.2,-1.5 0.2,-1 0.4,-1.3 0.5,-1.2 0.5,-1 0.5,-0.9 0.5,-0.7 0.8,-0.9 0.7,-0.7 1,-0.8 0.8,-0.5 0.9,-0.5 0.9,-0.5 0.9,-0.5 1,-0.6 1,-0.9 0.5,-0.5 0.6,-1 0.4,-1.5 0,-1 0,-1 -0.1,-1.5 0.1,-1.5 0.2,-1 0.5,-1 0.8,-1 0.5,-0.5 1,-0.7 1,-0.5 1.1,-0.3 M116.9,96.5l1.1,-0.1 1.5,-0.1 1.5,0.2 1,0.2 1,0.3 1.1,0.5 0.9,0.5 1,0.8 0.7,0.7 0.7,1 0.5,1 0.2,1 0.2,1.5 -0.1,1.5 -0.1,1.5 0,1.5 0.3,1.5 0.4,1 0.4,1 0.5,1 0.5,1 0.4,1 0.4,1 0.5,1.5 0.3,1 0.2,1 0.2,1.5 0.1,1.5 0,1.5 -0.1,1.5 -0.2,1 -0.4,1.5 -0.3,1 -0.4,1 -0.5,1 -0.6,1 -0.7,1 -0.6,0.8 -0.7,0.7 -0.8,0.8 -1,0.7 -0.9,0.5 -1,0.5 -1.1,0.4 -1,0.2 -1.5,0.3 -1.5,0 -1.5,0 -1.5,0 -1.5,0 -1,0.1 -1.5,0.3 -1,0.2 -1.5,0.3 -1,0.2 -1.5,0.1 -1.5,-0.1 -1,-0.3 -1,-0.4 -1,-0.7 -0.7,-0.6 -0.8,-0.9 -0.5,-0.7 -0.6,-0.9 -0.4,-1 -0.5,-1.2 -0.4,-1.3 -0.2,-1 -0.3,-1.5 -0.1,-1.5 0,-1 0,-1 0.2,-1.5 0.2,-1.5 0.3,-1 0.3,-1.1 0.5,-1.3 0.5,-1.1 0.5,-0.9 0.5,-0.7 0.7,-0.9 0.8,-0.9 0.6,-0.6 0.9,-0.7 1,-0.8 0.7,-0.5 0.8,-0.6 1,-0.9 0.5,-0.5 0.6,-1 0.4,-1.3 0.1,-1.2 0.1,-1.5 0.2,-1.5 0.3,-1 0.4,-1 0.6,-1 0.8,-0.9 0.7,-0.6 0.8,-0.6 1,-0.5 1,-0.4 1.5,-0.4 0.4,-0.1 M115.6,95.5l1.4,-0.3 1.5,-0.1 1.5,0 1.5,0.2 1,0.2 1.4,0.5 1.1,0.5 1,0.5 0.7,0.5 0.8,0.7 0.8,0.8 0.7,1 0.5,1 0.3,1 0.2,1.4 0,1.1 0,1.3 0,1.2 0,1.5 0.2,1 0.3,1.2 0.5,1.3 0.4,1 0.5,1 0.4,1 0.4,1 0.3,1 0.4,1.5 0.2,1 0.3,1.5 0,1.5 0,1.5 -0.1,1.5 -0.3,1.5 -0.2,1 -0.4,1 -0.4,1.1 -0.5,1.1 -0.5,1 -0.5,0.8 -0.7,1 -0.8,1 -0.5,0.5 -1,1 -0.7,0.5 -0.8,0.6 -1,0.5 -1,0.5 -1,0.4 -1.5,0.4 -1,0.2 -1.5,0.1 -1.5,0.1 -1.5,0 -1.5,0.1 -1.5,0.1 -1,0.1 -1.5,0.2 -1,0.2 -1.5,0.2 -1.5,0.1 -1.5,-0.1 -1,-0.3 -1,-0.4 -1,-0.6 -1,-0.7 -0.6,-0.7 -0.9,-1 -0.5,-0.8 -0.5,-0.9 -0.5,-1.1 -0.5,-1.2 -0.3,-1 -0.2,-1 -0.3,-1.5 -0.2,-1.5 -0.1,-1 0,-1.5 0.1,-1.3 0.1,-1.2 0.3,-1.5 0.2,-1 0.4,-1.3 0.4,-1.2 0.5,-1 0.5,-1 0.6,-1 0.5,-0.8 0.6,-0.7 0.8,-1 0.6,-0.6 0.9,-0.9 0.6,-0.5 1,-1 0.5,-0.5 0.7,-1 0.5,-1 0.3,-1.1 0.3,-1.4 0.2,-1.1 0.4,-1.4 0.4,-1 0.5,-1 0.7,-0.9 0.5,-0.6 1,-0.9 0.9,-0.6 0.9,-0.5 1.2,-0.5 1,-0.3 0.6,-0.2 M114.9,94.5l1.1,-0.2 1.5,-0.2 1.5,-0.1 1.5,0.1 1.5,0.2 1,0.2 1.5,0.4 1,0.5 1,0.5 1,0.6 0.7,0.5 0.8,0.7 0.7,0.8 0.7,1 0.5,1 0.4,1 0.2,1 0.2,1.5 0.1,1.5 0,1.5 0.1,1.5 0.2,1 0.4,1.4 0.4,1.1 0.4,1 0.5,1 0.4,1 0.3,1 0.5,1.5 0.2,1 0.3,1.5 0.1,1 0.1,1.5 0,1.5 -0.2,1.5 -0.1,1 -0.4,1.5 -0.3,1 -0.3,1 -0.4,1 -0.5,1 -0.5,1 -0.7,1 -0.7,1 -0.6,0.8 -0.7,0.7 -0.8,0.8 -0.8,0.7 -0.7,0.6 -1,0.6 -1,0.6 -1,0.5 -1,0.4 -1.1,0.3 -1.4,0.3 -1.1,0.2 -1.4,0.1 -1.5,0.1 -1.5,0.1 -1.5,0 -1.5,0.1 -1,0.1 -1.5,0.2 -1.5,0.2 -1.5,0.1 -1.5,-0.1 -1.5,-0.3 -1,-0.4 -1,-0.5 -0.9,-0.7 -0.6,-0.5 -1,-1 -0.5,-0.6 -0.6,-0.9 -0.6,-1 -0.5,-1 -0.4,-1 -0.4,-1.2 -0.4,-1.3 -0.2,-1 -0.3,-1.5 -0.1,-1.1 -0.1,-1.4 0,-1.5 0.1,-1.5 0,-1 0.3,-1.5 0.2,-1.1 0.4,-1.4 0.3,-1 0.3,-1 0.5,-1 0.5,-1 0.6,-1 0.6,-1 0.7,-1 0.6,-0.7 0.7,-0.8 0.8,-0.9 0.5,-0.6 0.8,-1 0.6,-1 0.5,-1 0.4,-1 0.2,-1 0.5,-1.5 0.3,-1 0.5,-1 0.6,-1 0.6,-0.9 0.6,-0.6 0.9,-0.9 0.8,-0.6 0.8,-0.5 1,-0.5 1.2,-0.5 1.2,-0.4 0.4,-0.1" fill="none" stroke="#5a5eb0" stroke-width="0.6" opacity="0.9" stroke-linejoin="round"/>
<line x1="93.5" y1="38" x2="93.5" y2="152.2" stroke="#000" stroke-width="1.1"/>
<line x1="43" y1="109.5" x2="157.3" y2="109.5" stroke="#000" stroke-width="1.1"/>
<text x="25.6" y="153" font-size="15.5" font-weight="normal" text-anchor="start" fill="#1c1c1c" textLength="28.2" lengthAdjust="spacingAndGlyphs" transform="rotate(-90 25.6 153)" stroke="#1c1c1c" stroke-width="0.3">CCR7</text>
<text x="36.2" y="179.2" font-size="15.5" font-weight="normal" text-anchor="start" fill="#1c1c1c" textLength="46" lengthAdjust="spacingAndGlyphs" stroke="#1c1c1c" stroke-width="0.3">CD45RA</text>
<rect x="214.3" y="35.6" width="115.5" height="114.2" stroke="#9a9a9a" stroke-width="1" fill="none"/>
<path d="M212.5,38.6h1.8M212.5,40.95h1.8M212.5,43.3h1.8M212.5,45.66h1.8M212.5,48.01h1.8M212.5,50.36h1.8M212.5,52.71h1.8M212.5,55.07h1.8M212.5,57.42h1.8M212.5,59.77h1.8M212.5,62.12h1.8M212.5,64.47h1.8M212.5,66.83h1.8M212.5,69.18h1.8M212.5,71.53h1.8M212.5,73.88h1.8M212.5,76.23h1.8M212.5,78.59h1.8M212.5,80.94h1.8M212.5,83.29h1.8M212.5,85.64h1.8M212.5,88h1.8M212.5,90.35h1.8M212.5,92.7h1.8M212.5,95.05h1.8M212.5,97.4h1.8M212.5,99.76h1.8M212.5,102.11h1.8M212.5,104.46h1.8M212.5,106.81h1.8M212.5,109.17h1.8M212.5,111.52h1.8M212.5,113.87h1.8M212.5,116.22h1.8M212.5,118.57h1.8M212.5,120.93h1.8M212.5,123.28h1.8M212.5,125.63h1.8M212.5,127.98h1.8M212.5,130.33h1.8M212.5,132.69h1.8M212.5,135.04h1.8M212.5,137.39h1.8M212.5,139.74h1.8M212.5,142.1h1.8M212.5,144.45h1.8M217.3,149.8v1.8M219.68,149.8v1.8M222.06,149.8v1.8M224.44,149.8v1.8M226.82,149.8v1.8M229.2,149.8v1.8M231.58,149.8v1.8M233.96,149.8v1.8M236.34,149.8v1.8M238.72,149.8v1.8M241.1,149.8v1.8M243.48,149.8v1.8M245.87,149.8v1.8M248.25,149.8v1.8M250.63,149.8v1.8M253.01,149.8v1.8M255.39,149.8v1.8M257.77,149.8v1.8M260.15,149.8v1.8M262.53,149.8v1.8M264.91,149.8v1.8M267.29,149.8v1.8M269.67,149.8v1.8M272.05,149.8v1.8M274.43,149.8v1.8M276.81,149.8v1.8M279.19,149.8v1.8M281.57,149.8v1.8M283.95,149.8v1.8M286.33,149.8v1.8M288.71,149.8v1.8M291.09,149.8v1.8M293.47,149.8v1.8M295.85,149.8v1.8M298.23,149.8v1.8M300.62,149.8v1.8M303,149.8v1.8M305.38,149.8v1.8M307.76,149.8v1.8M310.14,149.8v1.8M312.52,149.8v1.8M314.9,149.8v1.8M317.28,149.8v1.8M319.66,149.8v1.8M322.04,149.8v1.8M324.42,149.8v1.8" stroke="#8a8a8a" stroke-width="0.7"/>
<path d="M211.1,44.96h3.2M211.1,66.43h3.2M211.1,86.99h3.2M211.1,107.55h3.2M263.97,149.8v3.2M292.84,149.8v3.2M319.41,149.8v3.2" stroke="#333" stroke-width="0.9"/>
<line x1="223" y1="152" x2="241" y2="152" stroke="#2a2a2a" stroke-width="2.4" stroke-dasharray="0.9 0.8"/>
<line x1="212.1" y1="140" x2="212.1" y2="146" stroke="#2a2a2a" stroke-width="2.4" stroke-dasharray="0.9 0.8"/>
<line x1="206.3" y1="160.3" x2="206.3" y2="114" stroke="#000" stroke-width="1.6"/>
<line x1="205.5" y1="160.3" x2="251.8" y2="160.3" stroke="#000" stroke-width="1.6"/>
<path d="M206.3,110 L203.6,116.2 L209,116.2Z" fill="#000"/>
<path d="M255.8,160.3 L249.6,157.6 L249.6,163Z" fill="#000"/>
<path d="M227.4,99.1h0.9M244.0,84.2h0.9M236.7,84.7h0.9M234.3,142.5h0.9M256.2,114.3h0.9M256.2,111.1h0.9M232.4,146.2h0.9M224.9,109.2h0.9M244.0,143.7h0.9M229.5,82.4h0.9M251.5,114.4h0.9M238.0,88.9h0.9M253.7,116.6h0.9M247.4,143.4h0.9M243.0,134.6h0.9M257.4,100.7h0.9M222.6,110.5h0.9M249.6,127.6h0.9M243.2,89.4h0.9M259.2,121.2h0.9M222.6,95.3h0.9M227.1,138.9h0.9M226.6,73.2h0.9M224.0,100.5h0.9M256.8,123.9h0.9M235.5,82.4h0.9M227.2,97.3h0.9M248.3,134.2h0.9M255.6,113.9h0.9M223.5,115.6h0.9M218.8,141.1h0.9M241.6,88.4h0.9M227.8,131.5h0.9M240.2,94.2h0.9M230.2,95.2h0.9M228.8,129.4h0.9M239.7,94.2h0.9M232.1,144.2h0.9M221.9,119.5h0.9M228.3,95.4h0.9M266.3,75.0h0.9M254.4,102.4h0.9M297.7,87.0h0.9M279.5,103.2h0.9M253.2,80.3h0.9M270.0,107.2h0.9M285.0,100.0h0.9M241.6,80.2h0.9M298.4,84.4h0.9M250.6,77.8h0.9M293.8,85.7h0.9M272.4,75.3h0.9M263.8,108.5h0.9M242.3,94.9h0.9M288.7,91.3h0.9M241.7,92.0h0.9M261.5,104.4h0.9M288.9,96.1h0.9M263.3,103.6h0.9M270.8,104.7h0.9M287.0,92.0h0.9M310.5,86.2h0.9M250.0,74.4h0.9M260.9,107.3h0.9M250.4,84.0h0.9M254.7,101.3h0.9M240.5,108.6h0.9M238.8,98.2h0.9M260.8,101.4h0.9M267.4,110.3h0.9M259.9,116.5h0.9M223.7,104.2h0.9M234.3,100.3h0.9M248.7,117.6h0.9M249.5,121.7h0.9M243.6,104.4h0.9M251.1,114.6h0.9M249.4,98.7h0.9M246.0,90.8h0.9M265.3,112.6h0.9" stroke="#4f55b5" stroke-width="0.9" opacity="0.8"/>
<path d="M268.3,87.6l1,-0.2 1.5,-0.1 1.3,0.3 0.8,0.5 0.7,1 -0.3,1.5 -0.5,0.6 -1,0.6 -1,0.4 -1.5,0.1 -1.5,-0.2 -1,-0.5 -0.5,-0.5 -0.3,-1.5 0.6,-1 0.7,-0.5 1,-0.5 M268.4,85.6l1.4,-0.2 1.5,0 1.3,0.2 1.2,0.4 1,0.5 0.8,0.6 0.7,1 0.3,1 -0.3,1.5 -0.5,0.8 -0.6,0.7 -0.9,0.7 -1,0.5 -1,0.4 -1.5,0.4 -1,0.1 -1.5,0 -1,-0.1 -1.5,-0.5 -1,-0.5 -0.7,-0.5 -0.8,-1 -0.3,-1 0.2,-1.5 0.6,-0.9 0.5,-0.6 1,-0.8 1,-0.5 1,-0.4 1.1,-0.3 M268.2,84.1l1.1,-0.2 1.5,0 1.5,0.1 1,0.1 1.5,0.4 1,0.4 1,0.6 0.7,0.6 0.8,1 0.5,1 0.1,1 -0.1,1 -0.5,1.2 -0.5,0.8 -1,1 -0.7,0.5 -0.8,0.5 -1,0.5 -1.3,0.5 -1.2,0.3 -1,0.2 -1.5,0.1 -1.5,0 -1,-0.1 -1.5,-0.4 -1,-0.3 -1,-0.5 -1,-0.7 -0.6,-0.6 -0.6,-1 -0.4,-1 0.1,-1.5 0.3,-1 0.6,-1 0.6,-0.6 1,-0.9 0.8,-0.5 0.9,-0.5 1.3,-0.5 1,-0.3 0.9,-0.2 M266.9,83.1l1.4,-0.3 1.5,-0.2 1.5,0 1.5,0.1 1.5,0.2 1,0.3 1.1,0.4 1.1,0.5 0.8,0.5 1,0.9 0.6,0.6 0.6,1 0.3,1.2 0,1.3 -0.2,1 -0.4,1 -0.7,1 -0.7,0.7 -0.9,0.8 -0.7,0.5 -0.9,0.5 -1,0.5 -1.2,0.5 -1.3,0.4 -1,0.2 -1.5,0.2 -1.5,0.1 -1.5,-0.1 -1.5,-0.1 -1,-0.3 -1.4,-0.4 -1.1,-0.5 -0.8,-0.5 -0.7,-0.5 -1,-1 -0.5,-0.8 -0.5,-1.2 -0.1,-1 0.1,-1 0.5,-1.3 0.5,-0.9 0.7,-0.8 0.8,-0.8 1,-0.7 0.8,-0.5 0.9,-0.5 1.2,-0.5 1.1,-0.3 0.6,-0.2 M270.7,81.6l1,0 1.1,0.1 1.5,0.2 1.1,0.2 1.4,0.4 1,0.4 1,0.5 1,0.7 0.6,0.5 0.9,1 0.5,0.8 0.5,1.2 0.1,1 -0.1,1.4 -0.3,1.1 -0.5,1 -0.7,0.9 -0.5,0.6 -1,0.9 -0.8,0.6 -0.8,0.5 -0.9,0.5 -1.1,0.5 -1.4,0.5 -1,0.3 -1,0.2 -1.5,0.3 -1.5,0.1 -1.5,0 -1.5,-0.1 -1.5,-0.3 -1,-0.2 -1,-0.3 -1.2,-0.5 -0.9,-0.5 -0.9,-0.6 -1,-0.9 -0.5,-0.6 -0.5,-0.9 -0.5,-1.3 -0.1,-1.2 0.1,-1 0.5,-1.5 0.5,-0.8 0.5,-0.7 0.9,-1 0.6,-0.5 1,-0.7 1,-0.6 1,-0.5 1,-0.5 1,-0.3 1.4,-0.4 1.1,-0.2 1.5,-0.2 1.4,-0.1 M267.2,81.1l1.1,-0.2 1.5,-0.1 1.5,-0.1 1.5,0.1 1.5,0.1 1,0.2 1.5,0.4 1,0.3 1,0.4 1,0.6 1,0.6 0.8,0.7 0.7,0.8 0.5,0.7 0.5,1 0.4,1.5 0,1.5 -0.4,1.5 -0.4,1 -0.6,0.9 -0.5,0.6 -1,1 -0.6,0.5 -0.9,0.7 -1,0.6 -1,0.5 -1,0.4 -1,0.4 -1.2,0.4 -1.3,0.3 -1,0.2 -1.5,0.2 -1.5,0.1 -1.5,0 -1.5,-0.2 -1,-0.1 -1.5,-0.3 -1,-0.3 -1,-0.4 -1,-0.5 -1,-0.6 -1,-0.7 -0.7,-0.7 -0.8,-1 -0.5,-1 -0.3,-1 -0.2,-1.5 0.3,-1.5 0.3,-1 0.6,-1 0.7,-1 0.6,-0.6 1,-0.9 0.6,-0.5 0.9,-0.6 1,-0.6 1,-0.4 1,-0.4 1.4,-0.5 1.1,-0.3 0.9,-0.2 M268.8,80.1l1.5,-0.1 1.5,-0.1 1.5,0.1 1,0.1 1.5,0.3 1,0.2 1.5,0.5 1,0.4 1,0.5 1,0.6 0.7,0.5 0.8,0.8 0.7,0.7 0.6,1 0.5,1 0.2,1 0.1,1.5 -0.1,1 -0.5,1.5 -0.5,0.9 -0.5,0.8 -0.7,0.8 -0.8,0.8 -0.8,0.7 -0.7,0.5 -1,0.7 -1,0.5 -1,0.5 -1,0.4 -1.2,0.4 -1.3,0.4 -1,0.2 -1.5,0.2 -1.5,0.2 -1,0 -1.5,0 -1,0 -1.5,-0.2 -1.5,-0.3 -1,-0.3 -1,-0.3 -1,-0.4 -1,-0.5 -1,-0.6 -1,-0.8 -0.6,-0.6 -0.9,-1 -0.5,-0.9 -0.4,-1.1 -0.2,-1 0,-1.5 0.2,-1 0.4,-1.1 0.5,-0.9 0.7,-1 0.8,-0.9 0.6,-0.6 0.9,-0.8 1,-0.6 0.9,-0.6 1,-0.5 1.1,-0.5 1,-0.4 1,-0.3 1.2,-0.3 1.3,-0.3 1.5,-0.2 0,0 M267.8,79.6l1.5,-0.2 1.5,-0.1 1.5,0 1.5,0.1 1.4,0.2 1.1,0.2 1.2,0.3 1.3,0.4 1,0.4 1,0.5 1,0.6 0.8,0.6 0.7,0.6 0.9,0.9 0.6,0.8 0.5,1 0.4,1.2 0.2,1 0,1.5 -0.3,1 -0.3,1 -0.5,1 -0.7,1 -0.8,0.9 -0.6,0.6 -0.9,0.8 -0.9,0.7 -0.8,0.5 -0.9,0.5 -1,0.5 -1.2,0.5 -1.2,0.4 -1,0.4 -1,0.2 -1.5,0.3 -1.3,0.2 -1.2,0.1 -1.5,0.1 -1.5,0 -1.5,-0.2 -1,-0.1 -1.5,-0.3 -1,-0.3 -1,-0.3 -1.2,-0.5 -1,-0.5 -0.8,-0.5 -1,-0.7 -0.9,-0.8 -0.6,-0.7 -0.5,-0.8 -0.6,-1 -0.4,-1.4 -0.1,-1.1 0.1,-1.4 0.3,-1.1 0.4,-1 0.6,-1 0.7,-1 0.5,-0.5 1,-1 0.6,-0.5 0.9,-0.6 1,-0.7 1,-0.5 1,-0.5 1,-0.4 1,-0.3 1.5,-0.5 1,-0.2 1.5,-0.3 0,0 M267.8,79.1l1,-0.1 1.5,-0.2 1.5,0 1.5,0.1 1.5,0.1 1,0.2 1.5,0.3 1,0.3 1,0.3 1.2,0.5 1,0.5 0.8,0.5 1,0.7 0.9,0.8 0.6,0.6 0.7,0.9 0.5,1 0.4,1 0.3,1.5 -0.1,1.5 -0.3,1.4 -0.5,1.1 -0.5,0.9 -0.5,0.8 -0.7,0.8 -0.8,0.8 -0.8,0.7 -0.7,0.5 -1,0.7 -1,0.6 -1,0.5 -1,0.5 -1,0.4 -1,0.3 -1.5,0.4 -1,0.2 -1.5,0.3 -1,0.1 -1.5,0.2 -1.5,0 -1.5,-0.1 -1.4,-0.1 -1.1,-0.2 -1.5,-0.3 -1,-0.3 -1,-0.3 -1,-0.4 -1,-0.5 -1,-0.6 -1,-0.7 -0.8,-0.7 -0.7,-0.7 -0.6,-0.8 -0.6,-1 -0.4,-1 -0.3,-1.5 0.1,-1.5 0.3,-1.5 0.4,-1 0.6,-1 0.5,-0.8 0.6,-0.7 0.9,-0.9 0.7,-0.6 0.8,-0.6 1,-0.7 1,-0.6 1,-0.5 1,-0.5 1,-0.4 1,-0.3 1.5,-0.4 1,-0.2 1.5,-0.3 M268.7,78.6l1.1,-0.1 1.5,-0.1 1.5,0 1.5,0.2 1,0.1 1.5,0.2 1,0.3 1.4,0.4 1.1,0.4 1,0.5 1,0.5 0.9,0.6 0.7,0.5 0.9,0.8 0.6,0.7 0.7,1 0.5,1 0.4,1 0.3,1.5 -0.1,1.5 -0.4,1.5 -0.4,1 -0.5,1 -0.6,0.8 -0.6,0.7 -0.9,1 -0.6,0.5 -0.9,0.7 -1,0.7 -1,0.6 -1,0.5 -1,0.5 -1,0.4 -1,0.3 -1,0.3 -1.5,0.4 -1,0.2 -1.5,0.3 -1.5,0.1 -1,0.1 -1.5,0 -1.2,-0.1 -1.3,-0.1 -1.5,-0.2 -1,-0.3 -1.5,-0.4 -1,-0.3 -1,-0.4 -1,-0.5 -1,-0.6 -0.9,-0.7 -0.6,-0.5 -1,-1 -0.5,-0.6 -0.6,-0.9 -0.4,-1 -0.4,-1.5 -0.1,-1.5 0.3,-1.5 0.3,-1 0.5,-1 0.6,-1 0.8,-1 0.5,-0.6 1,-0.9 0.6,-0.5 0.9,-0.7 1,-0.6 1,-0.6 1,-0.5 1,-0.4 1,-0.4 1,-0.3 1.5,-0.4 1,-0.2 1.5,-0.3 0.9,-0.1 M270.2,78.1l1.1,0 1.5,0 1,0 1.5,0.2 1.5,0.2 1,0.3 1.2,0.3 1.3,0.5 1,0.4 1,0.5 1,0.6 0.7,0.5 0.8,0.6 0.9,0.9 0.6,0.8 0.5,0.8 0.5,1 0.4,1.4 0.1,1 0,1.3 -0.2,1.2 -0.4,1 -0.4,1 -0.6,1 -0.8,1 -0.6,0.6 -0.9,0.9 -0.6,0.5 -1,0.7 -1,0.7 -1,0.6 -1,0.5 -1,0.4 -1,0.4 -1,0.3 -1.3,0.4 -1.2,0.3 -1,0.2 -1.5,0.2 -1.5,0.2 -1.5,0 -1.5,0 -1.5,-0.1 -1.5,-0.2 -1,-0.1 -1.5,-0.4 -1,-0.3 -1,-0.4 -1,-0.4 -1,-0.5 -1,-0.6 -1,-0.7 -0.8,-0.7 -0.7,-0.8 -0.6,-0.7 -0.6,-1 -0.4,-1 -0.4,-1.5 -0.1,-1 0.1,-1 0.3,-1.5 0.4,-1 0.6,-1 0.6,-1 0.6,-0.7 0.7,-0.8 0.8,-0.7 1,-0.8 0.7,-0.5 0.8,-0.5 1,-0.6 1,-0.5 1,-0.4 1.3,-0.5 1.2,-0.4 1,-0.3 1.5,-0.3 1,-0.2 1.5,-0.2 1.4,-0.1 M266.9,78.1l1.4,-0.2 1.5,-0.2 1.5,0 1.5,0 1.5,0.1 1.5,0.2 1,0.1 1.5,0.4 1,0.3 1,0.3 1.2,0.5 1,0.5 0.9,0.5 0.9,0.6 1,0.8 0.6,0.6 0.9,1 0.5,0.8 0.5,1 0.4,1.2 0.2,1 0,1.5 -0.1,1 -0.5,1.5 -0.4,1 -0.6,0.9 -0.5,0.7 -0.7,0.9 -0.8,0.8 -0.8,0.7 -0.7,0.6 -1,0.7 -1,0.6 -1,0.5 -1,0.5 -1,0.4 -1,0.4 -1,0.3 -1.5,0.5 -1,0.2 -1.5,0.3 -1,0.1 -1.5,0.2 -1.5,0 -1.5,0 -1.5,-0.1 -1.5,-0.2 -1,-0.1 -1.5,-0.4 -1,-0.3 -1,-0.3 -1,-0.4 -1,-0.5 -1,-0.5 -1,-0.7 -1,-0.8 -0.5,-0.5 -0.9,-1 -0.6,-0.9 -0.5,-1 -0.4,-1.1 -0.2,-1 0,-1.5 0.1,-1 0.4,-1.5 0.5,-1 0.6,-1 0.5,-0.7 0.6,-0.8 0.9,-0.9 0.7,-0.6 0.8,-0.7 1,-0.7 1,-0.6 1,-0.5 1,-0.5 1,-0.4 1,-0.4 1,-0.3 1.3,-0.4 1.2,-0.3 1.1,-0.2 M268.7,77.6l1.1,-0.1 1.5,-0.1 1.5,0 1.5,0.1 1,0.1 1.5,0.3 1.1,0.2 1.4,0.4 1,0.3 1,0.4 1,0.4 1,0.6 1,0.6 1,0.8 0.6,0.5 0.9,1 0.5,0.6 0.5,0.9 0.5,1 0.4,1.5 0.1,1 0,1 -0.2,1.5 -0.4,1 -0.4,1 -0.6,1 -0.8,1 -0.6,0.7 -0.8,0.8 -0.7,0.6 -1,0.8 -0.8,0.6 -0.9,0.5 -0.9,0.5 -1,0.5 -1.1,0.5 -1.3,0.5 -1,0.3 -1,0.3 -1.5,0.3 -1,0.2 -1.5,0.3 -1.5,0.1 -1,0.1 -1.5,0 -1.5,-0.1 -1,-0.1 -1.5,-0.2 -1.2,-0.2 -1.3,-0.3 -1,-0.3 -1,-0.4 -1.2,-0.5 -1,-0.5 -0.8,-0.5 -1,-0.7 -1,-0.8 -0.5,-0.5 -0.8,-1 -0.7,-1 -0.5,-1 -0.3,-1 -0.2,-1.3 0,-1.2 0.1,-1 0.4,-1.4 0.5,-1.1 0.5,-0.9 0.5,-0.7 0.7,-0.9 0.8,-0.8 0.7,-0.7 0.8,-0.6 1,-0.8 1,-0.6 0.9,-0.5 1,-0.5 1.1,-0.5 1,-0.4 1,-0.4 1,-0.3 1.5,-0.3 1,-0.3 1.5,-0.2 0.9,-0.1 M266.9,77.6l1.4,-0.2 1.5,-0.2 1.5,0 1.5,0 1.5,0.1 1.5,0.1 1,0.2 1.5,0.3 1,0.3 1.3,0.4 1.2,0.5 1,0.5 1,0.5 0.8,0.5 0.7,0.5 1,0.9 0.6,0.6 0.8,1 0.6,1 0.4,1 0.3,1 0.2,1.5 -0.1,1.5 -0.3,1.4 -0.4,1.1 -0.5,1 -0.6,0.9 -0.5,0.7 -0.8,0.9 -0.7,0.7 -1,0.8 -0.6,0.5 -0.9,0.6 -1,0.6 -1,0.6 -1,0.5 -1,0.4 -1,0.4 -1.3,0.4 -1.2,0.4 -1,0.2 -1.5,0.3 -1,0.2 -1.5,0.1 -1.5,0.1 -1.5,0 -1.5,0 -1.5,-0.2 -1,-0.1 -1.5,-0.3 -1,-0.2 -1.5,-0.5 -1,-0.4 -1,-0.4 -1,-0.5 -1,-0.6 -0.8,-0.6 -0.7,-0.6 -1,-0.9 -0.5,-0.6 -0.6,-0.9 -0.6,-1 -0.3,-1 -0.4,-1.5 0,-1.5 0.2,-1.5 0.3,-1 0.5,-1 0.6,-1 0.7,-1 0.6,-0.8 0.7,-0.7 0.8,-0.7 1,-0.8 0.7,-0.5 0.8,-0.5 1,-0.6 1,-0.5 1,-0.5 1,-0.4 1.5,-0.5 1,-0.3 1,-0.3 1.5,-0.3 0.6,-0.1" fill="none" stroke="#4c50a8" stroke-width="0.6" opacity="0.9" stroke-linejoin="round"/>
<path d="M237.7,109.1l1.1,-0.4 1.5,0.2 0.9,0.7 0.5,1 0.2,1 -0.1,1.3 -0.4,1.2 -0.5,1 -0.6,0.8 -1,0.7 -1,0.1 -1,-0.5 -0.5,-0.6 -0.5,-1 -0.3,-1.5 0.2,-1.5 0.3,-1 0.7,-1 0.5,-0.5 M238.1,107.6l1.2,-0.2 1.1,0.2 1,0.5 0.9,0.9 0.5,1 0.2,1.1 -0.2,1.5 -0.2,1 -0.4,1 -0.4,1 -0.7,1 -0.8,0.8 -1,0.5 -1.5,0 -1,-0.6 -0.6,-0.7 -0.6,-1 -0.3,-1.1 -0.2,-1.4 0.1,-1.5 0.3,-1 0.4,-1 0.7,-1 0.7,-0.6 0.8,-0.4 M237.4,106.6l1.4,-0.4 1.5,0.1 1,0.3 1,0.6 1,0.9 0.5,0.7 0.3,1.3 0,1.5 -0.3,1.3 -0.4,1.2 -0.4,1 -0.4,1 -0.6,1 -0.7,0.9 -0.7,0.6 -0.8,0.5 -1.5,0.3 -1,-0.3 -1,-0.7 -0.7,-0.8 -0.6,-1 -0.4,-1 -0.3,-1.5 -0.1,-1 0.1,-1.2 0.2,-1.3 0.4,-1 0.5,-1 0.7,-1 0.7,-0.6 0.6,-0.4 M237.9,105.1l1.4,-0.2 1.3,0.2 1.2,0.4 1,0.5 1,0.6 0.6,0.5 0.9,1 0.3,1 -0.1,1.5 -0.3,1 -0.4,1.4 -0.4,1.1 -0.3,1 -0.5,1 -0.5,1 -0.6,1 -0.7,0.9 -0.6,0.6 -0.9,0.6 -1,0.4 -1.5,0 -1,-0.3 -0.9,-0.7 -0.6,-0.6 -0.6,-0.9 -0.5,-1 -0.4,-1 -0.3,-1.5 -0.1,-1.5 0,-1.5 0.3,-1.5 0.3,-1 0.5,-1 0.6,-1 0.7,-0.8 0.9,-0.7 1.1,-0.5 0.1,0 M237,104.1l1.3,-0.4 1.5,0 1.5,0.3 1,0.4 1,0.4 1,0.5 1,0.5 1,0.5 1,0.7 0.4,1.1 -0.3,1.5 -0.5,1 -0.4,1 -0.4,1 -0.4,1 -0.4,1 -0.5,1.1 -0.5,1.2 -0.5,1 -0.5,0.9 -0.6,0.8 -0.9,1 -0.6,0.5 -0.9,0.5 -1.5,0.4 -1.5,-0.2 -1,-0.4 -1,-0.8 -0.5,-0.5 -0.7,-1 -0.6,-1 -0.4,-1 -0.3,-1.2 -0.2,-1.3 -0.1,-1.5 0,-1.5 0.3,-1.5 0.2,-1 0.4,-1 0.5,-1 0.7,-1 0.7,-0.8 0.8,-0.7 0.9,-0.5 M237.6,102.6l1.2,-0.2 1.5,0.2 1,0.2 1,0.3 1.2,0.5 1.3,0.5 1,0.3 1,0.2 1.5,0.3 1.5,0.1 1,0.1 1,0.7 0,1 -0.5,0.9 -0.8,0.9 -0.7,0.7 -0.8,0.8 -0.7,0.9 -0.5,0.7 -0.5,0.9 -0.5,1 -0.5,1 -0.5,1.1 -0.5,1.2 -0.5,1.1 -0.5,1 -0.5,0.8 -0.5,0.8 -0.9,1 -0.6,0.5 -1,0.7 -1,0.4 -1.5,0.2 -1.3,-0.3 -1.1,-0.5 -0.7,-0.5 -0.9,-0.9 -0.5,-0.6 -0.6,-1 -0.5,-1 -0.4,-1 -0.4,-1.5 -0.2,-1 -0.1,-1.5 0,-1.5 0.2,-1.5 0.2,-1 0.3,-1.2 0.5,-1.3 0.5,-1 0.5,-0.7 0.6,-0.8 0.9,-0.8 1,-0.7 1,-0.4 0.3,-0.1 M236.6,101.6l1.2,-0.3 1.5,-0.1 1.5,0.2 1,0.3 1.1,0.4 1.4,0.5 1,0.3 1,0.2 1.5,0.2 1.5,0 1.5,-0.1 1.5,0 1.3,0.4 0.7,0.5 0.5,1 -0.1,1 -0.5,1 -0.8,1 -0.6,0.6 -1,0.8 -0.7,0.6 -0.8,0.6 -0.9,0.9 -0.6,0.7 -0.6,0.8 -0.6,1 -0.5,1 -0.4,1 -0.5,1 -0.4,1 -0.5,1 -0.5,1 -0.6,1 -0.8,1 -0.6,0.7 -1,0.8 -0.9,0.5 -1.1,0.4 -1,0.2 -1.2,-0.1 -1.3,-0.4 -1,-0.6 -0.7,-0.5 -0.8,-0.8 -0.6,-0.7 -0.6,-1 -0.5,-1 -0.4,-1 -0.4,-1.1 -0.3,-1.4 -0.2,-1.3 -0.1,-1.2 0,-1.5 0.1,-1 0.2,-1.5 0.3,-1.1 0.5,-1.4 0.4,-1 0.5,-1 0.6,-0.8 0.5,-0.7 1,-0.9 0.8,-0.6 1,-0.5 M237.2,100.1l1.1,-0.2 1.5,0.1 1,0.2 1.4,0.4 1.1,0.4 1,0.4 1,0.3 1.5,0.3 1.5,0.1 1.5,-0.1 1.5,-0.1 1.5,-0.1 1.5,0.3 1,0.4 0.7,0.6 0.6,1 0,1.5 -0.4,1 -0.6,1 -0.8,1 -0.6,0.5 -0.9,0.8 -1,0.7 -0.6,0.5 -0.9,0.7 -0.8,0.8 -0.7,0.8 -0.5,0.7 -0.6,1 -0.5,1 -0.5,1 -0.4,1 -0.5,1.1 -0.5,1.1 -0.5,0.9 -0.6,0.9 -0.7,1 -0.7,0.7 -0.9,0.8 -0.7,0.5 -1.1,0.5 -1.3,0.3 -1.5,0.1 -1.4,-0.4 -1.1,-0.5 -0.7,-0.5 -0.8,-0.7 -0.8,-0.8 -0.7,-1 -0.5,-0.8 -0.5,-1.1 -0.5,-1.1 -0.3,-1 -0.2,-1 -0.3,-1.5 -0.1,-1.5 -0.1,-1.5 0.1,-1.5 0.2,-1.5 0.2,-1 0.5,-1.5 0.3,-1 0.5,-1 0.6,-1 0.6,-0.9 0.5,-0.6 1,-1 0.7,-0.5 0.8,-0.5 1.4,-0.5 M236.2,99.1l1.1,-0.3 1.5,-0.2 1.5,0.2 1.2,0.3 1.3,0.5 1,0.4 1,0.3 1,0.3 1.5,0.3 1.5,0 1.5,-0.1 1.5,-0.1 1.5,0 1.5,0.1 1,0.3 1,0.6 0.8,0.9 0.5,1 0,1.5 -0.3,1.2 -0.5,1 -0.6,0.8 -0.9,1 -0.5,0.5 -1,0.8 -0.9,0.7 -0.7,0.5 -0.9,0.7 -0.9,0.8 -0.6,0.6 -0.7,0.9 -0.6,1 -0.5,1 -0.5,1 -0.4,1 -0.5,1 -0.4,1 -0.5,1 -0.6,1 -0.7,1 -0.6,0.8 -0.7,0.7 -0.8,0.7 -1,0.6 -1,0.5 -1,0.3 -1.5,0.1 -1.5,-0.2 -1,-0.4 -1,-0.5 -0.8,-0.6 -0.7,-0.6 -0.8,-0.9 -0.7,-0.9 -0.5,-0.8 -0.5,-0.9 -0.5,-1.2 -0.4,-1.2 -0.3,-1 -0.3,-1.3 -0.2,-1.2 -0.1,-1.5 -0.1,-1.5 0.1,-1.5 0.2,-1.5 0.2,-1 0.4,-1.5 0.3,-1 0.4,-1 0.5,-1 0.6,-1 0.7,-1 0.5,-0.6 0.9,-0.9 0.6,-0.5 1,-0.6 0.9,-0.4 M236.6,97.6l1.2,-0.2 1.5,-0.1 1.4,0.3 1.1,0.3 1,0.4 1,0.4 1,0.5 1.4,0.4 1.1,0.2 1.5,0.1 1.5,-0.1 1.5,-0.1 1.5,-0.1 1.5,0.1 1.5,0.3 1,0.5 0.9,0.6 0.6,0.7 0.5,1 0.2,1.3 -0.2,1.5 -0.4,1 -0.5,1 -0.6,0.8 -0.6,0.7 -0.9,0.9 -0.7,0.6 -0.8,0.6 -1,0.8 -0.9,0.6 -0.6,0.5 -1,0.9 -0.5,0.6 -0.7,1 -0.6,1 -0.5,1 -0.4,1 -0.4,1 -0.5,1 -0.4,1 -0.5,1 -0.6,1 -0.7,1 -0.7,0.9 -0.6,0.6 -0.9,0.8 -1,0.7 -1,0.5 -1,0.3 -1.1,0.2 -1.4,0 -1,-0.2 -1,-0.3 -1,-0.5 -1,-0.6 -1,-0.9 -0.5,-0.5 -0.8,-1 -0.7,-1 -0.5,-0.9 -0.5,-1.1 -0.4,-1 -0.4,-1 -0.2,-1 -0.4,-1.5 -0.1,-1 -0.2,-1.5 0,-1.5 0,-1.5 0.2,-1.5 0.1,-1 0.3,-1.5 0.3,-1 0.3,-1 0.5,-1.2 0.5,-1.1 0.5,-0.8 0.6,-0.9 0.7,-1 0.7,-0.7 0.9,-0.8 0.7,-0.5 0.9,-0.5 1.3,-0.5 M237.5,96.1l1.3,-0.1 1,0.1 1.5,0.4 1,0.3 1,0.5 1,0.4 1,0.5 1.4,0.4 1.1,0.2 1.5,0.1 1.5,-0.1 1.5,-0.1 1.5,-0.1 1.5,0.1 1.5,0.3 1,0.4 1,0.6 0.7,0.6 0.7,1 0.4,1 0.1,1.5 -0.2,1.5 -0.4,1 -0.5,1 -0.7,1 -0.6,0.7 -0.8,0.8 -0.7,0.7 -1,0.8 -0.7,0.5 -0.8,0.6 -1,0.8 -0.7,0.6 -0.8,0.8 -0.6,0.7 -0.7,1 -0.5,1 -0.4,1 -0.5,1 -0.4,1 -0.4,1 -0.5,1.1 -0.5,1 -0.5,0.9 -0.7,1 -0.8,0.9 -0.5,0.6 -1,0.9 -0.9,0.6 -0.9,0.5 -1.2,0.5 -1,0.2 -1.5,0.2 -1.5,-0.2 -1,-0.3 -1,-0.5 -1,-0.6 -1,-0.8 -0.6,-0.5 -0.9,-1 -0.5,-0.7 -0.5,-0.8 -0.6,-1 -0.5,-1 -0.4,-1 -0.5,-1.3 -0.4,-1.2 -0.2,-1 -0.3,-1.5 -0.1,-1.3 -0.1,-1.2 0,-1.5 0.1,-1.5 0.1,-1 0.2,-1.5 0.2,-1.1 0.4,-1.4 0.3,-1 0.4,-1 0.4,-1 0.5,-1 0.6,-1 0.8,-1 0.6,-0.8 0.7,-0.7 0.8,-0.7 1,-0.6 1,-0.6 1,-0.3 1.2,-0.3 M236.1,95.1l1.2,-0.3 1.5,-0.1 1.5,0.2 1,0.3 1.2,0.4 1.1,0.5 1,0.5 1.1,0.5 1.1,0.4 1,0.2 1.5,0.2 1.5,-0.1 1.5,0 1.5,-0.1 1.5,0 1.5,0.2 1,0.3 1,0.4 1,0.6 0.9,0.9 0.6,0.9 0.4,1.1 0.2,1 -0.1,1.5 -0.2,1 -0.4,1 -0.5,1 -0.7,1 -0.7,0.9 -0.5,0.6 -1,0.9 -0.7,0.6 -0.8,0.6 -1,0.8 -0.8,0.6 -0.7,0.6 -1,0.9 -0.5,0.5 -0.7,1 -0.6,1 -0.5,1 -0.4,1 -0.4,1 -0.4,1.1 -0.5,1.1 -0.5,1.1 -0.5,0.9 -0.5,0.8 -0.7,1 -0.8,1 -0.5,0.6 -1,0.9 -0.7,0.5 -0.8,0.5 -1.1,0.5 -1.4,0.5 -1,0.1 -1.5,0 -1,-0.1 -1.5,-0.5 -1,-0.5 -0.9,-0.5 -0.6,-0.5 -1,-0.8 -0.6,-0.7 -0.8,-1 -0.6,-0.8 -0.5,-0.8 -0.5,-1 -0.5,-1 -0.5,-1.3 -0.4,-1.1 -0.3,-1 -0.3,-1.5 -0.2,-1 -0.2,-1.5 -0.1,-1.5 0,-1.5 0.1,-1.5 0.1,-1.5 0.3,-1.5 0.2,-1 0.3,-1.3 0.4,-1.2 0.4,-1 0.4,-1 0.5,-1 0.6,-1 0.6,-1 0.6,-0.8 0.7,-0.7 0.8,-0.8 0.8,-0.7 0.8,-0.5 0.9,-0.5 1.3,-0.5 M236.8,93.6l1,-0.2 1.5,0 1,0.2 1.5,0.4 1,0.4 1,0.5 1,0.5 1,0.5 1,0.5 1,0.3 1.5,0.2 1.5,0 1.5,0 1.5,-0.1 1.5,0 1.5,0.1 1,0.2 1.3,0.5 1,0.5 0.7,0.5 1,1 0.5,0.7 0.5,1.3 0.2,1 0,1.5 -0.2,1 -0.5,1.4 -0.5,1.1 -0.5,0.8 -0.5,0.7 -0.9,1 -0.6,0.7 -0.9,0.8 -0.6,0.5 -1,0.8 -0.9,0.7 -0.7,0.5 -0.9,0.8 -0.8,0.7 -0.7,0.8 -0.5,0.7 -0.5,1 -0.5,1 -0.5,1.2 -0.5,1.3 -0.4,1 -0.4,1 -0.5,1 -0.5,1 -0.6,1 -0.6,0.9 -0.5,0.6 -0.9,1 -0.6,0.6 -1,0.8 -0.8,0.6 -0.9,0.5 -1.2,0.5 -1.1,0.3 -1.5,0.2 -1.5,-0.1 -1.5,-0.3 -1,-0.4 -1,-0.5 -1,-0.7 -0.7,-0.5 -0.8,-0.8 -0.7,-0.7 -0.8,-1 -0.5,-0.7 -0.5,-0.8 -0.6,-1 -0.5,-1 -0.4,-1.1 -0.5,-1.3 -0.3,-1.1 -0.3,-1 -0.3,-1.5 -0.2,-1 -0.1,-1.5 -0.1,-1.5 -0.1,-1.5 0.1,-1.5 0.1,-1.5 0.2,-1.1 0.2,-1.4 0.3,-1.1 0.4,-1.4 0.3,-1 0.4,-1 0.5,-1 0.5,-1 0.6,-1 0.7,-1 0.6,-0.8 0.6,-0.7 0.9,-0.9 0.7,-0.6 0.8,-0.6 1,-0.5 1,-0.5 1.5,-0.4 M235.5,92.6l1.3,-0.3 1.5,-0.2 1.5,0.1 1.5,0.3 1,0.4 1,0.4 1,0.5 1,0.6 1,0.5 1,0.5 1,0.3 1.5,0.3 1.5,0 1.5,0 1.5,-0.1 1.5,0 1.5,0.2 1,0.2 1.1,0.3 1.1,0.5 0.8,0.5 1,0.8 0.6,0.7 0.6,1 0.4,1 0.2,1.5 -0.1,1.5 -0.2,1.1 -0.5,1.4 -0.5,1 -0.5,0.9 -0.5,0.7 -0.7,0.9 -0.8,0.8 -0.7,0.7 -0.8,0.7 -1,0.8 -0.6,0.5 -0.9,0.7 -1,0.8 -0.6,0.5 -0.9,1 -0.5,0.7 -0.5,0.8 -0.5,1 -0.5,1.2 -0.5,1.3 -0.4,1 -0.4,1 -0.4,1 -0.5,1 -0.5,1 -0.6,1 -0.7,0.9 -0.5,0.7 -0.8,0.9 -0.7,0.7 -1,0.8 -0.7,0.5 -0.8,0.5 -1,0.5 -1.5,0.5 -1,0.2 -1.5,0.1 -1.5,-0.2 -1,-0.2 -1.1,-0.4 -1,-0.5 -0.9,-0.5 -1,-0.8 -0.8,-0.7 -0.7,-0.7 -0.7,-0.8 -0.7,-1 -0.6,-0.9 -0.5,-0.8 -0.5,-1 -0.5,-1.1 -0.5,-1.2 -0.3,-1 -0.3,-1 -0.4,-1.5 -0.2,-1 -0.3,-1.5 -0.1,-1 -0.1,-1.5 0,-1.5 0,-1.5 0.1,-1.5 0.1,-1 0.2,-1.5 0.3,-1.2 0.3,-1.3 0.3,-1 0.4,-1.2 0.5,-1.2 0.5,-1.1 0.5,-1 0.5,-0.8 0.5,-0.8 0.7,-0.9 0.8,-1 0.5,-0.5 1,-0.9 0.8,-0.6 0.7,-0.5 1,-0.5 1.2,-0.5" fill="none" stroke="#5a5eb0" stroke-width="0.55" opacity="0.9" stroke-linejoin="round"/>
<rect x="221.3" y="60.4" width="74.3" height="36.9" stroke="#000" stroke-width="1.1" fill="none"/>
<line x1="246.5" y1="60.4" x2="246.5" y2="97.3" stroke="#000" stroke-width="1.1"/>
<text x="196.8" y="153.8" font-size="15.5" font-weight="normal" text-anchor="start" fill="#1c1c1c" textLength="30.2" lengthAdjust="spacingAndGlyphs" transform="rotate(-90 196.8 153.8)" stroke="#1c1c1c" stroke-width="0.3">CD38</text>
<text x="197.8" y="178.6" font-size="15.5" font-weight="normal" text-anchor="start" fill="#1c1c1c" textLength="67" lengthAdjust="spacingAndGlyphs" stroke="#1c1c1c" stroke-width="0.3">Granzyme B</text>
<rect x="390" y="38" width="113.8" height="114.4" stroke="#9a9a9a" stroke-width="1" fill="none"/>
<path d="M388.2,41h1.8M388.2,43.36h1.8M388.2,45.71h1.8M388.2,48.07h1.8M388.2,50.43h1.8M388.2,52.78h1.8M388.2,55.14h1.8M388.2,57.5h1.8M388.2,59.85h1.8M388.2,62.21h1.8M388.2,64.57h1.8M388.2,66.92h1.8M388.2,69.28h1.8M388.2,71.63h1.8M388.2,73.99h1.8M388.2,76.35h1.8M388.2,78.7h1.8M388.2,81.06h1.8M388.2,83.42h1.8M388.2,85.77h1.8M388.2,88.13h1.8M388.2,90.49h1.8M388.2,92.84h1.8M388.2,95.2h1.8M388.2,97.56h1.8M388.2,99.91h1.8M388.2,102.27h1.8M388.2,104.63h1.8M388.2,106.98h1.8M388.2,109.34h1.8M388.2,111.7h1.8M388.2,114.05h1.8M388.2,116.41h1.8M388.2,118.77h1.8M388.2,121.12h1.8M388.2,123.48h1.8M388.2,125.83h1.8M388.2,128.19h1.8M388.2,130.55h1.8M388.2,132.9h1.8M388.2,135.26h1.8M388.2,137.62h1.8M388.2,139.97h1.8M388.2,142.33h1.8M388.2,144.69h1.8M388.2,147.04h1.8M393,152.4v1.8M395.34,152.4v1.8M397.69,152.4v1.8M400.03,152.4v1.8M402.37,152.4v1.8M404.72,152.4v1.8M407.06,152.4v1.8M409.4,152.4v1.8M411.75,152.4v1.8M414.09,152.4v1.8M416.43,152.4v1.8M418.78,152.4v1.8M421.12,152.4v1.8M423.47,152.4v1.8M425.81,152.4v1.8M428.15,152.4v1.8M430.5,152.4v1.8M432.84,152.4v1.8M435.18,152.4v1.8M437.53,152.4v1.8M439.87,152.4v1.8M442.21,152.4v1.8M444.56,152.4v1.8M446.9,152.4v1.8M449.24,152.4v1.8M451.59,152.4v1.8M453.93,152.4v1.8M456.27,152.4v1.8M458.62,152.4v1.8M460.96,152.4v1.8M463.3,152.4v1.8M465.65,152.4v1.8M467.99,152.4v1.8M470.33,152.4v1.8M472.68,152.4v1.8M475.02,152.4v1.8M477.37,152.4v1.8M479.71,152.4v1.8M482.05,152.4v1.8M484.4,152.4v1.8M486.74,152.4v1.8M489.08,152.4v1.8M491.43,152.4v1.8M493.77,152.4v1.8M496.11,152.4v1.8M498.46,152.4v1.8" stroke="#8a8a8a" stroke-width="0.7"/>
<path d="M386.8,46.24h3.2M386.8,66.26h3.2M386.8,85.7h3.2M386.8,106.18h3.2M412.76,152.4v3.2M441.21,152.4v3.2M467.38,152.4v3.2M492.42,152.4v3.2" stroke="#333" stroke-width="0.9"/>
<line x1="411" y1="154.6" x2="423" y2="154.6" stroke="#2a2a2a" stroke-width="2.4" stroke-dasharray="0.9 0.8"/>
<line x1="387.8" y1="125" x2="387.8" y2="136" stroke="#2a2a2a" stroke-width="2.4" stroke-dasharray="0.9 0.8"/>
<line x1="380.6" y1="160.7" x2="380.6" y2="113.5" stroke="#000" stroke-width="1.6"/>
<line x1="379.8" y1="160.7" x2="426" y2="160.7" stroke="#000" stroke-width="1.6"/>
<path d="M380.6,109.5 L377.9,115.7 L383.3,115.7Z" fill="#000"/>
<path d="M430,160.7 L423.8,158 L423.8,163.4Z" fill="#000"/>
<path d="M440.0,86.9h0.9M405.5,116.4h0.9M412.8,129.2h0.9M427.9,136.9h0.9M408.5,106.9h0.9M440.0,91.9h0.9M455.9,125.9h0.9M408.2,137.0h0.9M416.8,94.9h0.9M447.0,76.0h0.9M440.0,139.2h0.9M414.7,138.3h0.9M465.5,108.2h0.9M415.9,86.2h0.9M403.5,120.6h0.9M407.4,116.0h0.9M404.1,113.9h0.9M397.0,121.6h0.9M409.0,80.7h0.9M442.1,80.3h0.9M459.1,116.5h0.9M451.4,126.4h0.9M407.6,137.2h0.9M445.7,143.8h0.9M437.9,86.9h0.9M398.6,119.0h0.9M414.9,96.2h0.9M453.1,131.0h0.9M461.7,95.9h0.9M422.2,88.7h0.9" stroke="#4f55b5" stroke-width="0.9" opacity="0.8"/>
<path d="M434,97l1.5,-0.2 1,0.6 0.5,0.6 0.4,1.5 -0.3,1.5 -0.6,0.7 -1,0.4 -1,-0.2 -1,-0.8 -0.5,-1 -0.1,-1.1 0.2,-1 0.9,-1 0,0 M433.4,96l1.1,-0.3 1.5,0.2 0.9,0.6 0.6,0.7 0.5,1 0.3,1.3 -0.2,1.5 -0.5,1 -0.6,0.6 -1,0.5 -1.3,-0.1 -1.1,-0.5 -0.6,-0.6 -0.6,-0.9 -0.4,-1 -0.1,-1.5 0.2,-1 0.7,-1 0.6,-0.5 M433,94.5l1,-0.2 1.5,0.1 1,0.4 0.9,0.7 0.6,0.7 0.5,0.8 0.5,1.3 0.2,1.2 -0.2,1.5 -0.3,1 -0.6,1 -0.6,0.6 -1,0.5 -1.5,0.1 -1,-0.3 -1,-0.6 -0.8,-0.8 -0.7,-0.9 -0.5,-0.9 -0.4,-1.2 -0.1,-1 0.1,-1 0.4,-1.2 0.5,-0.8 1,-0.8 0.5,-0.2 M429.6,92l1.4,-0.2 1.5,0.1 1,0.1 1.5,0.5 1,0.4 1,0.6 0.6,0.5 0.9,1 0.5,0.7 0.5,0.9 0.5,1.4 0.2,1 0,1.5 -0.2,1.1 -0.5,1.4 -0.5,0.9 -0.6,0.6 -0.9,0.7 -1,0.3 -1.5,0 -1,-0.3 -1,-0.5 -1,-0.7 -0.5,-0.5 -0.9,-1 -0.6,-0.7 -0.6,-0.8 -0.6,-1 -0.6,-1 -0.6,-1 -0.5,-1 -0.4,-1 0,-1.5 0.4,-1 0.9,-0.8 1,-0.5 0.6,-0.2 M427.6,87.5l1.1,0 1.3,0.1 1.4,0.4 1.1,0.4 1,0.5 1,0.5 0.9,0.6 0.7,0.5 0.9,0.7 0.9,0.8 0.6,0.7 0.7,0.8 0.7,1 0.5,1 0.4,1 0.3,1 0.2,1.5 0.1,1.5 -0.2,1.5 -0.3,1 -0.4,1 -0.6,1 -0.8,1 -0.7,0.5 -1,0.5 -1.4,0.2 -1.3,-0.2 -1.2,-0.5 -0.9,-0.5 -0.8,-0.5 -0.8,-0.6 -1,-0.8 -0.7,-0.6 -0.8,-0.7 -1,-0.7 -0.9,-0.6 -0.8,-0.5 -0.8,-0.5 -1,-0.6 -1,-0.8 -0.7,-0.6 -0.8,-0.9 -0.5,-0.8 -0.5,-1.3 -0.2,-1 0.1,-1.5 0.3,-1 0.5,-1 0.7,-1 0.6,-0.5 1,-0.8 1,-0.5 1,-0.3 1.5,-0.3 0.6,-0.1 M424.6,85.5l1.4,-0.3 1.5,-0.2 1.5,0.1 1.5,0.1 1.1,0.3 1.4,0.5 1,0.4 1,0.6 0.8,0.5 0.7,0.5 1,0.8 0.7,0.7 0.8,0.9 0.5,0.6 0.7,1 0.6,1 0.6,1 0.4,1 0.3,1 0.4,1.5 0.1,1 0.1,1.5 -0.1,1.5 -0.2,1 -0.4,1.5 -0.4,1 -0.5,1 -0.6,0.8 -0.6,0.7 -0.9,0.7 -1,0.5 -1.3,0.3 -0.7,0 -1.5,-0.3 -1,-0.4 -1,-0.6 -1,-0.6 -0.9,-0.6 -0.7,-0.5 -0.9,-0.6 -1,-0.7 -1,-0.5 -1,-0.5 -1,-0.5 -1,-0.5 -1,-0.5 -1,-0.6 -0.8,-0.6 -0.7,-0.6 -1,-0.9 -0.5,-0.7 -0.6,-0.8 -0.5,-1 -0.4,-1.4 -0.2,-1.1 0.1,-1.5 0.2,-1 0.4,-1.1 0.5,-1 0.6,-0.9 0.9,-0.9 0.6,-0.6 0.9,-0.6 1,-0.6 1,-0.4 1.1,-0.4 M424.4,83.5l1.1,-0.2 1.5,-0.2 1.5,0 1.5,0.1 1.5,0.3 1,0.2 1,0.4 1.1,0.4 1,0.5 0.9,0.6 1,0.7 0.9,0.7 0.6,0.6 0.9,0.9 0.6,0.7 0.6,0.8 0.6,1 0.6,1 0.4,1 0.4,1 0.4,1.2 0.3,1.3 0.2,1.4 0.1,1.1 0,1.5 -0.1,1 -0.3,1.5 -0.2,1 -0.5,1.4 -0.5,1.1 -0.5,0.8 -0.5,0.7 -0.9,1 -0.6,0.6 -1,0.6 -1,0.4 -1.5,0.3 -1.5,-0.2 -1,-0.4 -1,-0.4 -1,-0.6 -1,-0.7 -1,-0.6 -0.7,-0.5 -0.8,-0.5 -1,-0.6 -1,-0.5 -1,-0.4 -1,-0.5 -1.1,-0.5 -1.1,-0.5 -0.9,-0.5 -0.9,-0.5 -1,-0.7 -1,-0.8 -0.5,-0.5 -0.9,-1 -0.6,-0.9 -0.5,-0.9 -0.5,-1.2 -0.3,-1 -0.2,-1.5 0.1,-1.5 0.2,-1.5 0.4,-1 0.5,-1 0.6,-1 0.7,-0.9 0.5,-0.6 1,-0.9 0.8,-0.6 0.8,-0.5 1,-0.5 1.2,-0.5 1.2,-0.4 0.4,-0.1 M426,81.5l1,-0.1 1.5,0 1.5,0.1 1,0.1 1.5,0.4 1,0.2 1,0.4 1,0.4 1,0.5 1,0.6 1,0.7 0.9,0.7 0.6,0.6 0.9,0.9 0.6,0.7 0.6,0.8 0.7,1 0.6,1 0.5,1 0.4,1 0.3,1 0.4,1.4 0.2,1.1 0.2,1.5 0.1,1.5 -0.1,1.5 -0.1,1.5 -0.3,1.4 -0.3,1.1 -0.3,1 -0.4,1 -0.5,1 -0.6,1 -0.7,1 -0.7,0.7 -0.8,0.8 -0.7,0.5 -1,0.5 -1.5,0.5 -1,0.1 -1.1,-0.1 -1.4,-0.4 -1,-0.4 -1,-0.6 -1,-0.6 -0.7,-0.5 -0.8,-0.5 -1,-0.6 -1,-0.6 -1,-0.6 -1,-0.4 -1,-0.5 -1,-0.4 -1,-0.4 -1,-0.5 -1,-0.5 -1,-0.5 -1,-0.7 -1,-0.8 -0.6,-0.5 -0.9,-0.9 -0.5,-0.6 -0.7,-1 -0.6,-1 -0.4,-1 -0.4,-1 -0.3,-1.5 -0.1,-1 0,-1.1 0.2,-1.4 0.3,-1.3 0.5,-1.2 0.5,-1 0.5,-0.8 0.5,-0.7 0.9,-1 0.6,-0.6 1,-0.8 0.8,-0.6 0.9,-0.5 1,-0.5 1.1,-0.5 1.2,-0.4 1,-0.3 1.5,-0.2 0.5,-0.1 M425.5,80l1,-0.1 1.5,-0.1 1.5,0.1 1.1,0.1 1.4,0.2 1.1,0.3 1.4,0.4 1,0.4 1,0.4 1,0.5 1,0.6 1,0.7 0.6,0.5 0.9,0.8 0.8,0.7 0.7,0.8 0.6,0.7 0.7,1 0.6,1 0.5,1 0.5,1 0.4,1 0.3,1 0.3,1.5 0.2,1 0.2,1.5 0,1.5 0,1.5 -0.2,1.5 -0.1,1 -0.3,1.5 -0.3,1 -0.4,1.1 -0.5,1.2 -0.5,1 -0.5,0.9 -0.5,0.8 -0.8,1 -0.7,0.7 -0.9,0.8 -0.7,0.5 -0.9,0.5 -1.4,0.5 -1.1,0.2 -1.5,0 -1,-0.2 -1.3,-0.5 -1,-0.5 -0.8,-0.5 -0.9,-0.6 -1,-0.6 -1,-0.7 -1,-0.6 -0.9,-0.5 -1,-0.5 -1.1,-0.5 -1,-0.4 -1,-0.4 -1,-0.5 -1,-0.4 -1,-0.5 -1,-0.6 -1,-0.6 -0.8,-0.6 -0.7,-0.5 -1,-1 -0.5,-0.5 -0.8,-1 -0.7,-1 -0.5,-0.9 -0.5,-1.1 -0.3,-1 -0.3,-1 -0.2,-1.5 0,-1.5 0.1,-1.5 0.2,-1 0.5,-1.5 0.5,-1 0.5,-1 0.5,-0.7 0.6,-0.8 0.9,-1 0.5,-0.5 1,-0.9 0.9,-0.6 0.8,-0.5 0.9,-0.5 1,-0.5 1.2,-0.5 1.2,-0.4 1,-0.2 1.5,-0.3 0.5,-0.1 M425.8,78.5l1.2,-0.1 1.5,0 1.5,0.1 1,0.1 1.5,0.3 1,0.2 1.4,0.4 1.1,0.4 1,0.4 1,0.5 1,0.6 1,0.6 0.7,0.5 0.8,0.6 1,0.9 0.5,0.5 0.9,1 0.6,0.8 0.5,0.7 0.6,1 0.6,1 0.4,1 0.4,1 0.5,1.5 0.2,1 0.3,1.5 0.1,1 0.1,1.5 -0.1,1.5 -0.1,1.5 -0.1,1 -0.3,1.5 -0.2,1 -0.4,1.4 -0.4,1.1 -0.4,1 -0.4,1 -0.6,1 -0.6,1 -0.6,0.9 -0.5,0.6 -0.9,1 -0.6,0.5 -1,0.8 -1,0.6 -1,0.4 -1,0.3 -1.5,0.2 -1.5,-0.1 -1,-0.3 -1.2,-0.4 -0.9,-0.5 -0.9,-0.5 -1,-0.7 -1,-0.7 -1,-0.6 -0.7,-0.5 -0.9,-0.5 -1,-0.5 -1.1,-0.5 -1.1,-0.5 -1.2,-0.5 -1,-0.4 -1,-0.4 -1,-0.5 -1,-0.5 -1,-0.6 -0.9,-0.6 -0.7,-0.5 -0.9,-0.8 -0.8,-0.7 -0.7,-0.8 -0.6,-0.7 -0.7,-1 -0.6,-1 -0.5,-1 -0.4,-1 -0.3,-1 -0.3,-1.5 -0.1,-1 -0.1,-1.5 0.1,-1 0.3,-1.5 0.2,-1 0.5,-1.2 0.5,-1.1 0.5,-0.9 0.5,-0.8 0.8,-1 0.7,-0.8 0.8,-0.7 0.7,-0.7 1,-0.7 0.9,-0.6 0.8,-0.5 1,-0.5 1.1,-0.5 1.2,-0.5 1,-0.3 1,-0.2 1.5,-0.3 1.3,-0.2 M423.2,77.5l1.3,-0.2 1.5,-0.2 1.5,-0.1 1.5,0 1.5,0.1 1.5,0.2 1,0.2 1.5,0.4 1,0.3 1,0.4 1,0.4 1.1,0.5 0.9,0.5 1,0.6 1,0.7 0.9,0.7 0.6,0.5 1,0.9 0.5,0.6 0.9,1 0.6,0.8 0.5,0.8 0.5,0.9 0.6,1 0.4,1 0.5,1.3 0.3,1.2 0.3,1 0.2,1.5 0.1,1.5 0.1,1.5 -0.1,1.5 -0.1,1.5 -0.2,1.5 -0.2,1 -0.4,1.4 -0.3,1.1 -0.3,1 -0.4,1 -0.5,1.1 -0.5,1 -0.5,0.9 -0.6,1 -0.7,1 -0.7,0.8 -0.7,0.7 -0.8,0.8 -0.9,0.7 -0.8,0.5 -1,0.5 -1.3,0.5 -1,0.2 -1.5,0.1 -1.5,-0.2 -1,-0.2 -1,-0.4 -1,-0.6 -1,-0.6 -1,-0.6 -0.9,-0.7 -0.8,-0.5 -0.8,-0.5 -1,-0.6 -1,-0.6 -1,-0.4 -1,-0.5 -1.1,-0.4 -1.2,-0.5 -1.2,-0.5 -1,-0.5 -1,-0.5 -1,-0.5 -0.8,-0.5 -0.7,-0.5 -1,-0.7 -0.9,-0.8 -0.6,-0.6 -0.8,-0.9 -0.7,-0.8 -0.5,-0.7 -0.6,-1 -0.6,-1 -0.4,-1 -0.4,-1 -0.4,-1.5 -0.2,-1 -0.1,-1.5 0,-1.5 0.2,-1.5 0.2,-1 0.3,-1 0.5,-1.3 0.5,-1 0.5,-0.9 0.5,-0.8 0.7,-1 0.8,-0.9 0.6,-0.6 0.9,-0.8 0.8,-0.7 0.7,-0.5 1,-0.7 1,-0.6 1,-0.5 1,-0.4 1,-0.4 1.2,-0.4 1.3,-0.3 0.7,-0.2 M424.1,76l1.4,-0.2 1.5,-0.1 1.5,0 1.5,0.1 1.5,0.1 1,0.2 1.5,0.3 1,0.3 1.1,0.3 1.3,0.5 1.1,0.5 1,0.4 1,0.6 0.8,0.5 0.8,0.5 0.9,0.7 1,0.8 0.6,0.5 0.9,0.9 0.5,0.6 0.8,1 0.7,1 0.5,0.8 0.5,0.8 0.5,1.1 0.5,1.2 0.4,1.1 0.3,1 0.3,1.5 0.1,1 0.2,1.5 0,1.5 -0.1,1.5 -0.1,1.5 -0.2,1 -0.2,1.5 -0.3,1 -0.4,1.5 -0.3,1 -0.3,1 -0.4,1 -0.5,1.1 -0.5,1 -0.5,0.9 -0.6,1 -0.7,1 -0.7,0.9 -0.5,0.6 -1,1 -0.5,0.5 -1,0.8 -1,0.6 -1,0.5 -1,0.4 -1,0.3 -1.5,0.2 -1.5,-0.1 -1.1,-0.2 -1.4,-0.5 -1,-0.5 -1,-0.5 -0.7,-0.5 -0.8,-0.5 -1,-0.8 -1,-0.7 -0.8,-0.5 -0.9,-0.5 -1,-0.5 -1,-0.5 -1.2,-0.5 -1.1,-0.4 -1,-0.4 -1,-0.4 -1,-0.5 -1,-0.5 -1,-0.5 -1,-0.6 -1,-0.7 -0.7,-0.5 -0.8,-0.6 -0.9,-0.9 -0.6,-0.6 -0.8,-0.9 -0.7,-0.8 -0.5,-0.7 -0.6,-1 -0.5,-1 -0.5,-1 -0.4,-1.1 -0.4,-1.4 -0.2,-1 -0.2,-1.5 0,-1.5 0.1,-1.5 0.2,-1 0.4,-1.5 0.3,-1 0.4,-1 0.5,-1 0.6,-1 0.7,-1 0.6,-0.8 0.6,-0.7 0.9,-1 0.6,-0.5 0.9,-0.8 1,-0.7 0.7,-0.5 0.8,-0.5 1,-0.5 1,-0.5 1.1,-0.5 1.3,-0.5 1.1,-0.3 1,-0.3 1.5,-0.3 0.6,-0.1 M426,74.5l1,-0.1 1.5,0 1.5,0.1 1,0.1 1.5,0.2 1.1,0.2 1.4,0.3 1,0.3 1.2,0.4 1.3,0.5 1,0.5 1,0.5 1,0.5 0.8,0.5 0.7,0.5 1,0.7 0.9,0.8 0.6,0.5 1,1 0.5,0.5 0.8,1 0.7,0.9 0.5,0.8 0.5,0.8 0.5,1 0.5,1.1 0.5,1.3 0.3,1.1 0.3,1 0.3,1.5 0.1,1.2 0.1,1.3 0,1.5 -0.1,1.3 -0.1,1.2 -0.2,1.5 -0.2,1 -0.4,1.5 -0.2,1 -0.4,1.2 -0.4,1.3 -0.4,1 -0.4,1 -0.5,1 -0.5,1 -0.6,1 -0.6,1 -0.6,0.9 -0.5,0.6 -0.8,1 -0.7,0.7 -0.8,0.8 -0.7,0.6 -1,0.7 -1,0.6 -1,0.5 -1,0.3 -1,0.3 -1.5,0.2 -1.5,0 -1,-0.2 -1.5,-0.4 -1,-0.5 -1,-0.5 -0.9,-0.6 -0.7,-0.5 -0.9,-0.6 -1,-0.8 -0.9,-0.6 -0.8,-0.5 -0.9,-0.5 -1,-0.5 -1.1,-0.5 -1.2,-0.5 -1.1,-0.4 -1,-0.4 -1,-0.4 -1,-0.5 -1,-0.5 -1,-0.5 -1,-0.6 -1,-0.7 -0.7,-0.5 -0.8,-0.7 -0.9,-0.8 -0.6,-0.6 -0.9,-0.9 -0.6,-0.8 -0.5,-0.7 -0.7,-1 -0.6,-1 -0.5,-1 -0.4,-1 -0.3,-1 -0.4,-1.5 -0.2,-1 -0.2,-1.5 0,-1.5 0.1,-1.5 0.2,-1.1 0.3,-1.4 0.3,-1 0.4,-1 0.5,-1 0.5,-1 0.6,-1 0.7,-1 0.7,-0.8 0.6,-0.7 0.9,-0.9 0.6,-0.6 0.9,-0.7 1,-0.8 0.8,-0.5 0.8,-0.5 0.9,-0.5 1,-0.5 1.1,-0.5 1.2,-0.5 1.2,-0.4 1,-0.3 1.4,-0.3 1.1,-0.2 1.5,-0.2 1,-0.1" fill="none" stroke="#5a5eb0" stroke-width="0.55" opacity="0.9" stroke-linejoin="round"/>
<path d="M445.1,81l1.4,-0.1 1,0.2 1.2,0.4 0.8,0.6 0.7,0.9 0.3,1.5 -0.5,1.5 -0.5,0.6 -1,0.8 -1,0.4 -1,0.3 -1.5,-0.1 -1,-0.2 -1,-0.5 -0.8,-0.8 -0.6,-1 0,-1.5 0.4,-1 0.9,-1 0.8,-0.5 1.3,-0.5 0.1,0 M445.4,79.5l1.1,0 1,0 1.5,0.5 1,0.5 0.7,0.5 0.8,0.9 0.5,0.9 0.3,1.2 -0.2,1.5 -0.4,1 -0.7,0.9 -0.7,0.6 -0.8,0.6 -1,0.4 -1.5,0.4 -1,0.1 -1.2,0 -1.3,-0.3 -1,-0.4 -1,-0.6 -0.7,-0.7 -0.7,-1 -0.3,-1 0,-1.5 0.3,-1 0.6,-1 0.8,-0.9 0.9,-0.6 1,-0.5 1.1,-0.3 0.9,-0.2 M444.1,78.5l1.4,-0.2 1.5,0 1.5,0.2 1,0.3 1,0.4 1,0.7 0.7,0.6 0.8,1 0.5,1 0.2,1 0,1.5 -0.2,1 -0.5,1 -0.7,1 -0.8,0.7 -1,0.7 -1,0.6 -1,0.3 -1,0.3 -1.5,0.1 -1.5,0 -1,-0.2 -1.5,-0.5 -1,-0.5 -0.7,-0.5 -0.8,-0.8 -0.5,-0.7 -0.5,-1.1 -0.3,-1.4 0.2,-1.5 0.3,-1 0.6,-1 0.7,-0.8 0.8,-0.7 0.8,-0.5 1,-0.5 1.4,-0.5 0.1,0 M444.2,77.5l1.3,-0.2 1.5,0 1.5,0.2 1,0.2 1,0.4 1,0.5 1,0.7 0.8,0.7 0.7,0.9 0.5,1 0.4,1.1 0.1,1.5 -0.3,1.5 -0.4,1 -0.6,1 -0.7,0.8 -0.8,0.7 -0.7,0.5 -1,0.6 -1,0.4 -1.5,0.5 -1,0.1 -1.5,0.1 -1.5,-0.1 -1,-0.2 -1.3,-0.4 -1,-0.5 -0.8,-0.5 -0.9,-0.7 -0.7,-0.8 -0.6,-1 -0.4,-1 -0.3,-1.5 0.2,-1.5 0.3,-1 0.5,-1 0.8,-1 0.7,-0.7 1,-0.8 0.8,-0.5 1.2,-0.5 1,-0.3 0.7,-0.2 M445.2,76.5l1.3,-0.1 1.2,0.1 1.3,0.2 1.1,0.3 1.3,0.5 0.9,0.5 0.7,0.5 1,0.9 0.6,0.6 0.6,1 0.5,1 0.3,1.5 0,1 -0.1,1 -0.4,1.2 -0.5,1 -0.5,0.8 -0.9,1 -0.6,0.5 -1,0.7 -1,0.6 -1,0.4 -1,0.4 -1.5,0.3 -1,0.1 -1.5,0.1 -1,-0.1 -1.5,-0.3 -1,-0.3 -1,-0.5 -1,-0.5 -1,-0.8 -0.6,-0.6 -0.8,-1 -0.6,-1 -0.3,-1 -0.2,-1 0,-1.2 0.2,-1.3 0.4,-1 0.6,-1 0.7,-1 0.6,-0.6 1,-0.8 0.9,-0.6 1,-0.5 1.1,-0.4 1,-0.3 1.5,-0.3 0.2,0 M443.7,76l1.3,-0.2 1.5,-0.1 1.5,0.1 1.2,0.2 1.3,0.3 1,0.4 1,0.5 1,0.6 0.8,0.7 0.7,0.7 0.6,0.8 0.6,1 0.4,1 0.3,1.5 0,1.5 -0.4,1.5 -0.4,1 -0.6,1 -0.5,0.7 -0.8,0.8 -0.7,0.6 -1,0.7 -1,0.6 -1,0.4 -1,0.4 -1.2,0.3 -1.3,0.2 -1.5,0.1 -1.5,-0.1 -1.2,-0.2 -1.3,-0.3 -1,-0.4 -1,-0.5 -1,-0.6 -0.8,-0.7 -0.7,-0.7 -0.6,-0.8 -0.6,-1 -0.4,-1 -0.3,-1.5 0,-1.5 0.4,-1.5 0.4,-1 0.6,-1 0.5,-0.7 0.8,-0.8 0.7,-0.6 1,-0.7 1,-0.6 1,-0.4 1,-0.4 1.2,-0.3 M443.2,75.5l1.3,-0.3 1.5,-0.1 1.5,0 1.5,0.2 1,0.2 1.4,0.5 1.1,0.5 0.9,0.5 0.8,0.5 0.8,0.7 0.8,0.8 0.7,1 0.5,1 0.4,1 0.2,1 0.1,1.5 -0.2,1.2 -0.4,1.3 -0.5,1 -0.6,1 -0.5,0.6 -0.9,0.9 -0.6,0.5 -1,0.8 -1,0.5 -1,0.5 -1,0.4 -1.2,0.3 -1.3,0.3 -1.5,0.1 -1.5,0 -1.5,-0.2 -1,-0.2 -1.4,-0.5 -1.1,-0.5 -0.9,-0.5 -0.8,-0.5 -0.8,-0.7 -0.8,-0.8 -0.7,-1 -0.5,-1 -0.4,-1 -0.2,-1 -0.1,-1.5 0.2,-1.2 0.4,-1.3 0.5,-1 0.6,-1 0.5,-0.6 0.9,-0.9 0.6,-0.5 1,-0.8 1,-0.5 1,-0.5 1,-0.4 1.2,-0.3 M442.7,75l1.3,-0.3 1.5,-0.2 1.5,0 1.5,0.1 1.5,0.3 1,0.3 1,0.3 1,0.5 1,0.6 1,0.7 0.8,0.7 0.7,0.8 0.5,0.7 0.6,1 0.4,1 0.4,1.5 0,1.5 -0.2,1.5 -0.3,1 -0.5,1 -0.6,1 -0.7,1 -0.6,0.6 -1,0.9 -0.7,0.5 -0.8,0.5 -1,0.5 -1.1,0.5 -1.4,0.5 -1,0.2 -1.5,0.2 -1.5,0.1 -1.5,-0.1 -1.5,-0.2 -1,-0.2 -1.4,-0.5 -1.1,-0.5 -0.9,-0.5 -0.7,-0.5 -0.9,-0.7 -0.8,-0.8 -0.7,-1 -0.5,-0.8 -0.5,-1.2 -0.3,-1 -0.1,-1.5 0.1,-1.5 0.3,-1.2 0.5,-1.2 0.5,-0.8 0.5,-0.8 0.9,-1 0.6,-0.6 1,-0.8 1,-0.6 1,-0.5 1,-0.5 1,-0.3 0.7,-0.2 M442.7,74.5l1.3,-0.3 1.5,-0.1 1.5,-0.1 1.5,0.1 1.5,0.3 1,0.3 1,0.3 1.1,0.5 1,0.5 0.9,0.6 1,0.8 0.6,0.6 0.8,1 0.6,1 0.5,1 0.3,1 0.2,1.4 0,1.1 -0.1,1 -0.4,1.5 -0.4,1 -0.6,1 -0.5,0.7 -0.7,0.8 -0.8,0.8 -0.8,0.7 -0.7,0.5 -1,0.6 -1,0.5 -1.1,0.4 -1.4,0.5 -1,0.2 -1.5,0.2 -1.5,0.1 -1.5,-0.1 -1.5,-0.2 -1,-0.2 -1.5,-0.5 -1,-0.4 -1,-0.6 -0.8,-0.5 -0.7,-0.5 -1,-0.9 -0.5,-0.6 -0.7,-1 -0.6,-1 -0.3,-1 -0.4,-1.5 0,-1 0,-1 0.3,-1.5 0.4,-1 0.5,-1 0.6,-1 0.7,-0.8 0.7,-0.7 0.8,-0.7 1,-0.8 0.9,-0.5 1,-0.5 1.1,-0.5 1,-0.3 0.7,-0.2 M442.7,74l1.3,-0.3 1.5,-0.1 1.5,0 1.5,0 1.5,0.3 1,0.2 1.1,0.4 1.2,0.5 1,0.5 0.8,0.5 0.9,0.7 0.9,0.8 0.6,0.7 0.6,0.8 0.6,1 0.4,1 0.4,1.5 0.1,1 0,1.5 -0.2,1 -0.4,1.3 -0.5,1.1 -0.5,0.9 -0.5,0.7 -0.9,1 -0.6,0.6 -1,0.8 -0.9,0.6 -0.8,0.5 -1.1,0.5 -1.2,0.5 -1,0.3 -1,0.3 -1.5,0.2 -1.5,0.1 -1.5,0 -1.5,-0.1 -1.4,-0.3 -1.1,-0.3 -1,-0.3 -1,-0.5 -1,-0.5 -1,-0.7 -0.8,-0.7 -0.7,-0.6 -0.7,-0.9 -0.7,-1 -0.5,-1 -0.4,-1 -0.2,-1 -0.1,-1.5 0.1,-1.5 0.2,-1 0.4,-1 0.4,-1 0.7,-1 0.7,-1 0.6,-0.6 1,-0.9 0.6,-0.5 0.9,-0.6 1,-0.5 1,-0.5 1,-0.4 1.5,-0.5 0.2,0 M442.7,73.5l1.3,-0.2 1.5,-0.2 1.5,0 1.5,0.1 1.5,0.2 1,0.2 1.2,0.4 1.2,0.5 1,0.5 0.9,0.5 0.7,0.5 1,0.9 0.6,0.6 0.8,1 0.6,0.9 0.5,1 0.4,1.1 0.2,1 0.1,1.5 -0.1,1.5 -0.2,1 -0.4,1.1 -0.5,1.1 -0.5,0.8 -0.7,1 -0.8,0.8 -0.7,0.7 -0.8,0.7 -1,0.7 -1,0.5 -1,0.5 -1,0.4 -1,0.4 -1.2,0.3 -1.3,0.2 -1.5,0.2 -1.5,0 -1.5,-0.1 -1.5,-0.2 -1,-0.2 -1.2,-0.4 -1.2,-0.5 -1,-0.5 -0.9,-0.5 -0.7,-0.5 -1,-0.9 -0.6,-0.6 -0.8,-1 -0.6,-0.9 -0.5,-1 -0.4,-1.1 -0.2,-1 -0.1,-1.5 0.1,-1.5 0.2,-1 0.4,-1.1 0.5,-1.1 0.5,-0.8 0.7,-1 0.8,-0.8 0.7,-0.7 0.8,-0.7 1,-0.7 1,-0.5 1,-0.5 1,-0.4 1,-0.4 1.2,-0.3 M445.6,72.5l1.4,0 1,0 1.5,0.2 1.5,0.3 1,0.3 1,0.3 1,0.4 1,0.6 1,0.6 1,0.7 0.6,0.6 0.9,0.9 0.5,0.7 0.6,0.9 0.5,1 0.4,1 0.4,1.5 0.1,1.5 -0.1,1.5 -0.4,1.5 -0.4,1 -0.5,1 -0.6,1 -0.5,0.7 -0.7,0.8 -0.8,0.8 -0.9,0.7 -0.7,0.5 -0.9,0.6 -1,0.5 -1,0.5 -1,0.4 -1.5,0.4 -1,0.3 -1.5,0.2 -1.1,0.1 -1.4,0 -1,0 -1.5,-0.2 -1.5,-0.3 -1,-0.3 -1,-0.3 -1,-0.4 -1,-0.6 -1,-0.6 -1,-0.7 -0.6,-0.6 -0.9,-0.9 -0.5,-0.7 -0.6,-0.9 -0.5,-1 -0.4,-1 -0.4,-1.5 -0.1,-1.5 0.1,-1.5 0.4,-1.5 0.4,-1 0.5,-1 0.6,-1 0.5,-0.7 0.7,-0.8 0.8,-0.8 0.9,-0.7 0.7,-0.5 0.9,-0.6 1,-0.5 1,-0.5 1,-0.4 1.5,-0.4 1,-0.3 1.5,-0.2 1.1,-0.1" fill="none" stroke="#4c50a8" stroke-width="0.6" opacity="0.9" stroke-linejoin="round"/>
<rect x="390" y="67.2" width="82.3" height="25.8" stroke="#000" stroke-width="1.1" fill="none"/>
<line x1="434.2" y1="67.2" x2="434.2" y2="93" stroke="#000" stroke-width="1.1"/>
<text x="372.1" y="153.8" font-size="15.5" font-weight="normal" text-anchor="start" fill="#1c1c1c" textLength="30.2" lengthAdjust="spacingAndGlyphs" transform="rotate(-90 372.1 153.8)" stroke="#1c1c1c" stroke-width="0.3">CD38</text>
<text x="390.6" y="179.3" font-size="15.5" font-weight="normal" text-anchor="start" fill="#1c1c1c" textLength="30.8" lengthAdjust="spacingAndGlyphs" stroke="#1c1c1c" stroke-width="0.3">CD28</text>
<rect x="42.6" y="413.3" width="114.2" height="116" stroke="#9a9a9a" stroke-width="1" fill="none"/>
<path d="M40.8,416.3h1.8M40.8,418.69h1.8M40.8,421.08h1.8M40.8,423.47h1.8M40.8,425.87h1.8M40.8,428.26h1.8M40.8,430.65h1.8M40.8,433.04h1.8M40.8,435.43h1.8M40.8,437.82h1.8M40.8,440.21h1.8M40.8,442.6h1.8M40.8,445h1.8M40.8,447.39h1.8M40.8,449.78h1.8M40.8,452.17h1.8M40.8,454.56h1.8M40.8,456.95h1.8M40.8,459.34h1.8M40.8,461.73h1.8M40.8,464.13h1.8M40.8,466.52h1.8M40.8,468.91h1.8M40.8,471.3h1.8M40.8,473.69h1.8M40.8,476.08h1.8M40.8,478.47h1.8M40.8,480.87h1.8M40.8,483.26h1.8M40.8,485.65h1.8M40.8,488.04h1.8M40.8,490.43h1.8M40.8,492.82h1.8M40.8,495.21h1.8M40.8,497.6h1.8M40.8,500h1.8M40.8,502.39h1.8M40.8,504.78h1.8M40.8,507.17h1.8M40.8,509.56h1.8M40.8,511.95h1.8M40.8,514.34h1.8M40.8,516.73h1.8M40.8,519.13h1.8M40.8,521.52h1.8M40.8,523.91h1.8M45.6,529.3v1.8M47.95,529.3v1.8M50.3,529.3v1.8M52.66,529.3v1.8M55.01,529.3v1.8M57.36,529.3v1.8M59.71,529.3v1.8M62.07,529.3v1.8M64.42,529.3v1.8M66.77,529.3v1.8M69.12,529.3v1.8M71.47,529.3v1.8M73.83,529.3v1.8M76.18,529.3v1.8M78.53,529.3v1.8M80.88,529.3v1.8M83.23,529.3v1.8M85.59,529.3v1.8M87.94,529.3v1.8M90.29,529.3v1.8M92.64,529.3v1.8M95,529.3v1.8M97.35,529.3v1.8M99.7,529.3v1.8M102.05,529.3v1.8M104.4,529.3v1.8M106.76,529.3v1.8M109.11,529.3v1.8M111.46,529.3v1.8M113.81,529.3v1.8M116.17,529.3v1.8M118.52,529.3v1.8M120.87,529.3v1.8M123.22,529.3v1.8M125.57,529.3v1.8M127.93,529.3v1.8M130.28,529.3v1.8M132.63,529.3v1.8M134.98,529.3v1.8M137.33,529.3v1.8M139.69,529.3v1.8M142.04,529.3v1.8M144.39,529.3v1.8M146.74,529.3v1.8M149.1,529.3v1.8M151.45,529.3v1.8" stroke="#8a8a8a" stroke-width="0.7"/>
<path d="M39.4,423.04h3.2M39.4,443.81h3.2M39.4,464.57h3.2M39.4,488.82h3.2M65.44,529.3v3.2M93.99,529.3v3.2M120.26,529.3v3.2M145.38,529.3v3.2" stroke="#333" stroke-width="0.9"/>
<line x1="48.6" y1="531.5" x2="65.5" y2="531.5" stroke="#2a2a2a" stroke-width="2.4" stroke-dasharray="0.9 0.8"/>
<line x1="81" y1="531.5" x2="93" y2="531.5" stroke="#2a2a2a" stroke-width="2.4" stroke-dasharray="0.9 0.8"/>
<line x1="108" y1="531.5" x2="119.5" y2="531.5" stroke="#2a2a2a" stroke-width="2.4" stroke-dasharray="0.9 0.8"/>
<line x1="129" y1="531.5" x2="139.5" y2="531.5" stroke="#2a2a2a" stroke-width="2.4" stroke-dasharray="0.9 0.8"/>
<line x1="40.4" y1="511" x2="40.4" y2="520" stroke="#2a2a2a" stroke-width="2.4" stroke-dasharray="0.9 0.8"/>
<line x1="34" y1="537" x2="34" y2="495.3" stroke="#000" stroke-width="1.6"/>
<line x1="33.2" y1="537" x2="79.3" y2="537" stroke="#000" stroke-width="1.6"/>
<path d="M34,491.3 L31.3,497.5 L36.7,497.5Z" fill="#000"/>
<path d="M83.3,537 L77.1,534.3 L77.1,539.7Z" fill="#000"/>
<path d="M76.0,510.4h0.9M80.7,501.1h0.9M67.4,517.1h0.9M83.4,507.2h0.9M47.3,470.8h0.9M49.6,499.3h0.9M88.0,495.3h0.9M58.4,451.9h0.9M101.2,491.3h0.9M48.3,495.9h0.9M47.5,452.2h0.9M78.1,499.5h0.9M51.5,496.8h0.9M96.4,475.6h0.9M88.6,508.5h0.9M46.1,487.2h0.9M104.9,497.4h0.9M92.2,469.3h0.9M110.7,465.1h0.9M44.0,500.9h0.9M93.8,472.4h0.9M93.6,488.2h0.9M92.3,495.1h0.9M64.3,504.8h0.9M97.6,475.4h0.9M75.5,459.1h0.9M79.5,442.8h0.9M94.7,469.9h0.9M100.2,464.7h0.9M97.7,468.5h0.9M83.9,460.6h0.9M81.8,497.9h0.9M45.5,473.3h0.9M54.7,502.0h0.9M107.0,479.5h0.9M98.8,463.6h0.9M53.7,447.9h0.9M73.1,457.7h0.9M98.8,502.3h0.9M53.1,463.2h0.9M94.4,458.7h0.9M95.1,469.7h0.9M96.9,467.9h0.9M86.3,467.8h0.9M88.4,469.0h0.9M81.9,468.7h0.9M85.9,490.4h0.9M84.4,481.7h0.9M85.4,488.1h0.9M99.9,495.7h0.9M102.6,489.2h0.9M84.4,508.3h0.9M91.0,458.4h0.9M83.1,470.1h0.9M104.8,479.5h0.9M85.4,498.7h0.9M78.8,491.5h0.9M111.6,478.1h0.9M98.9,486.1h0.9M71.6,482.1h0.9M87.9,444.7h0.9M98.1,471.0h0.9M87.7,449.5h0.9M88.7,468.5h0.9M83.6,467.9h0.9M91.8,496.5h0.9M99.5,483.5h0.9M83.4,489.1h0.9M91.3,492.5h0.9M86.3,470.6h0.9" stroke="#4f55b5" stroke-width="0.9" opacity="0.8"/>
<path d="M64.8,486.3l1.3,-0.1 1.1,0.1 1.1,0.5 0.7,1 -0.4,1.1 -1,0.7 -1,0.2 -1.3,0 -1.2,-0.4 -0.8,-0.6 -0.3,-1 0.6,-0.9 1,-0.5 0.2,-0.1 M64.1,484.3l1.5,-0.2 1.5,0.1 1,0.2 1.4,0.4 1,0.5 0.6,0.5 0.8,1 0.3,1 -0.1,1 -0.6,1 -0.9,0.8 -1,0.6 -1,0.3 -1.4,0.3 -1.1,0.1 -1.3,-0.1 -1.2,-0.2 -1,-0.4 -1,-0.5 -1,-0.8 -0.5,-0.6 -0.3,-1.5 0.3,-1.1 0.8,-0.9 0.7,-0.5 1,-0.5 1.5,-0.5 0,0 M62.7,482.8l1.4,-0.2 1.5,-0.2 1.5,0.1 1.5,0.2 1,0.2 1.2,0.4 1.1,0.5 0.8,0.5 0.9,0.7 0.7,0.8 0.5,1 0.2,1.5 -0.4,1.3 -0.5,0.8 -0.8,0.9 -0.7,0.5 -1,0.6 -1,0.4 -1.5,0.4 -1,0.2 -1.5,0.2 -1.5,-0.1 -1.5,-0.1 -1,-0.2 -1.2,-0.4 -1.1,-0.5 -0.9,-0.5 -0.8,-0.6 -0.8,-0.9 -0.6,-1 -0.2,-1 0.1,-1.1 0.5,-1.2 0.5,-0.7 1,-0.9 1,-0.6 1,-0.5 1,-0.3 0.6,-0.2 M62.1,481.3l1,-0.2 1.5,-0.2 1.5,0 1.5,0 1.5,0.2 1,0.2 1.5,0.5 1,0.4 1,0.5 1,0.6 0.7,0.5 0.8,0.8 0.5,0.7 0.6,1 0.3,1.5 -0.2,1.5 -0.4,1 -0.7,1 -0.6,0.6 -1,0.8 -0.9,0.6 -1,0.5 -1.1,0.4 -1,0.3 -1.1,0.3 -1.4,0.2 -1.5,0.1 -1.5,0 -1.5,-0.1 -1.1,-0.2 -1.4,-0.4 -1,-0.3 -1,-0.4 -1,-0.5 -1,-0.7 -0.8,-0.7 -0.7,-0.8 -0.5,-0.7 -0.5,-1.4 -0.1,-1.1 0.2,-1 0.4,-1.1 0.6,-0.9 0.9,-0.9 0.8,-0.6 0.7,-0.5 1,-0.5 1.2,-0.5 1.3,-0.4 0.5,-0.1 M62.2,479.8l1.4,-0.2 1.5,-0.1 1.5,0 1.5,0.1 1.5,0.2 1,0.2 1.3,0.3 1.2,0.4 1,0.4 1,0.5 1,0.6 0.8,0.6 0.7,0.6 0.8,0.9 0.6,1 0.5,1 0.2,1 0,1.5 -0.3,1 -0.4,1 -0.7,1 -0.7,0.8 -0.8,0.7 -0.7,0.5 -1,0.6 -1,0.5 -1,0.4 -1.5,0.5 -1,0.2 -1.5,0.3 -1,0.1 -1.5,0.1 -1.5,0 -1.5,-0.1 -1,-0.1 -1.5,-0.3 -1,-0.3 -1.2,-0.4 -1.2,-0.5 -1,-0.5 -0.8,-0.5 -0.8,-0.6 -1,-0.9 -0.5,-0.6 -0.6,-0.9 -0.4,-1 -0.3,-1.5 0.1,-1.5 0.3,-1 0.6,-1 0.7,-1 0.6,-0.6 1,-0.8 1,-0.6 0.9,-0.5 1.1,-0.5 1,-0.3 1,-0.3 1.5,-0.4 0.1,0 M64.2,478.3l1.4,-0.1 1.5,0.1 1,0 1.5,0.2 1.5,0.3 1,0.2 1.1,0.3 1.4,0.5 1,0.5 1,0.5 0.9,0.5 0.7,0.5 0.9,0.8 0.7,0.7 0.8,1 0.5,0.9 0.4,1.1 0.2,1 0,1.5 -0.2,1 -0.4,1 -0.6,1 -0.8,1 -0.6,0.6 -1,0.9 -0.8,0.5 -0.8,0.5 -1,0.5 -1.2,0.5 -1.2,0.4 -1,0.3 -1.3,0.3 -1.2,0.2 -1.5,0.2 -1.5,0.1 -1.5,0 -1.5,-0.1 -1.5,-0.2 -1,-0.2 -1.5,-0.4 -1,-0.3 -1,-0.3 -1.1,-0.5 -1,-0.5 -0.9,-0.6 -1,-0.7 -0.8,-0.7 -0.7,-0.7 -0.6,-0.8 -0.6,-1 -0.4,-1 -0.2,-1.5 0.1,-1.5 0.3,-1 0.4,-1 0.7,-1 0.8,-0.9 0.6,-0.6 0.9,-0.7 1,-0.6 1,-0.6 1,-0.5 1,-0.3 1,-0.4 1.5,-0.4 1,-0.2 1.5,-0.2 1.1,-0.1 M63.1,477.3l1,-0.1 1.5,-0.1 1.5,0.1 1.5,0.1 1,0.1 1.5,0.2 1,0.2 1.5,0.4 1,0.3 1,0.4 1,0.5 1,0.5 1,0.6 1,0.7 0.8,0.6 0.7,0.7 0.7,0.8 0.7,1 0.5,1 0.3,1 0.2,1.5 -0.1,1.5 -0.3,1 -0.5,1.1 -0.5,0.9 -0.8,1 -0.7,0.7 -1,0.8 -0.7,0.5 -0.8,0.5 -1,0.6 -1,0.5 -1.1,0.4 -1.4,0.5 -1,0.3 -1.1,0.2 -1.4,0.3 -1.5,0.1 -1,0.1 -1.5,0.1 -1.5,-0.1 -1,-0.1 -1.5,-0.1 -1.5,-0.3 -1,-0.2 -1.1,-0.3 -1.4,-0.5 -1,-0.4 -1,-0.4 -1,-0.5 -1,-0.7 -0.7,-0.5 -0.8,-0.6 -0.9,-0.9 -0.6,-0.8 -0.5,-0.7 -0.5,-1 -0.5,-1.5 -0.1,-1 0.1,-1.5 0.3,-1 0.4,-1 0.6,-1 0.7,-1 0.5,-0.5 1,-0.9 0.8,-0.6 0.8,-0.5 0.9,-0.5 1,-0.5 1.1,-0.5 1.4,-0.5 1,-0.3 1,-0.2 1.5,-0.3 1.5,-0.2 M63.8,476.3l1.3,-0.1 1.5,0 1.5,0.1 1,0.1 1.5,0.2 1.3,0.2 1.2,0.3 1,0.2 1.4,0.5 1.1,0.4 1,0.5 1,0.5 1,0.6 0.8,0.5 0.7,0.5 1,0.9 0.5,0.6 0.8,1 0.6,1 0.5,1 0.3,1 0.2,1.5 -0.1,1.5 -0.3,1.1 -0.5,1.2 -0.5,0.8 -0.6,0.9 -0.9,1 -0.6,0.5 -0.9,0.7 -1,0.7 -1,0.6 -0.9,0.5 -1.1,0.5 -1,0.4 -1,0.3 -1,0.3 -1.5,0.4 -1,0.1 -1.5,0.3 -1.5,0.1 -1.5,0.1 -1.5,0 -1.5,-0.1 -1.5,-0.2 -1.5,-0.2 -1,-0.2 -1.2,-0.3 -1.3,-0.4 -1,-0.3 -1,-0.4 -1,-0.5 -1,-0.5 -1,-0.7 -1,-0.7 -0.6,-0.5 -0.9,-0.9 -0.6,-0.6 -0.7,-1 -0.5,-1 -0.4,-1 -0.3,-1.1 -0.1,-1.4 0.1,-1 0.4,-1.5 0.5,-1 0.6,-1 0.5,-0.7 0.7,-0.8 0.8,-0.7 1,-0.8 0.8,-0.5 0.8,-0.5 0.9,-0.5 1.1,-0.5 1.3,-0.5 1.1,-0.4 1,-0.3 1.5,-0.3 1,-0.2 1.5,-0.2 1.2,-0.1 M61.2,475.8l1.4,-0.2 1.5,-0.1 1.5,-0.1 1.5,0.1 1.5,0 1.5,0.2 1,0.1 1.5,0.3 1,0.3 1.5,0.4 1,0.3 1,0.4 1,0.4 1,0.5 1,0.6 1,0.6 0.9,0.7 0.6,0.5 1,1 0.5,0.6 0.7,0.9 0.6,1 0.4,1 0.3,1.2 0.2,1.3 -0.2,1.5 -0.2,1 -0.4,1 -0.5,1 -0.6,1 -0.8,0.9 -0.6,0.6 -0.9,0.8 -0.9,0.7 -0.8,0.5 -0.8,0.5 -1,0.5 -1,0.5 -1.3,0.5 -1.2,0.4 -1,0.3 -1.2,0.3 -1.3,0.3 -1.5,0.2 -1,0.1 -1.5,0.1 -1.5,0.1 -1.5,-0.1 -1.5,-0.1 -1.2,-0.1 -1.3,-0.2 -1.5,-0.3 -1,-0.2 -1,-0.3 -1.4,-0.5 -1.1,-0.4 -1,-0.5 -1,-0.5 -1,-0.6 -0.8,-0.5 -0.7,-0.5 -1,-0.9 -0.6,-0.6 -0.9,-1 -0.5,-0.8 -0.5,-0.9 -0.5,-1.3 -0.2,-1 -0.2,-1.5 0.2,-1.5 0.3,-1 0.4,-1 0.6,-1 0.8,-1 0.6,-0.7 0.8,-0.8 0.7,-0.6 1,-0.7 1,-0.6 1,-0.6 1,-0.5 1,-0.4 1,-0.4 1,-0.3 1.5,-0.4 1,-0.2 1.5,-0.3 0.1,0 M60.3,475.3l1.3,-0.2 1.5,-0.2 1.5,0 1.5,-0.1 1.5,0.1 1.5,0.1 1.5,0.1 1.1,0.2 1.4,0.3 1,0.2 1.5,0.4 1,0.4 1,0.4 1,0.4 1,0.5 1,0.5 1,0.7 1,0.7 0.6,0.5 0.9,0.8 0.7,0.7 0.7,1 0.6,0.9 0.5,1.1 0.4,1 0.2,1 0,1.5 -0.1,1.2 -0.3,1.3 -0.4,1 -0.6,1 -0.7,1 -0.5,0.6 -0.9,0.9 -0.6,0.5 -1,0.8 -1,0.7 -0.9,0.5 -0.9,0.5 -1.1,0.5 -1.1,0.4 -1,0.4 -1,0.3 -1.5,0.4 -1,0.2 -1.5,0.3 -1,0.1 -1.5,0.2 -1.5,0.1 -1.5,0 -1.5,-0.1 -1.5,-0.1 -1.5,-0.2 -1,-0.1 -1.5,-0.3 -1,-0.3 -1.1,-0.3 -1.4,-0.5 -1,-0.4 -1,-0.4 -1,-0.5 -1,-0.6 -0.9,-0.6 -0.7,-0.5 -0.9,-0.7 -0.8,-0.8 -0.7,-0.8 -0.6,-0.7 -0.6,-1 -0.5,-1 -0.3,-1 -0.3,-1.5 0,-1.5 0.2,-1.5 0.4,-1 0.5,-1 0.6,-1 0.6,-0.8 0.6,-0.7 0.9,-0.9 0.8,-0.6 0.7,-0.5 1,-0.7 1,-0.6 1,-0.5 1,-0.4 1,-0.4 1.1,-0.4 1.4,-0.4 1,-0.3 1.5,-0.3 0.2,0 M63.4,474.3l1.2,-0.1 1.5,0 1.5,0 1,0.1 1.5,0.1 1.5,0.2 1,0.2 1.5,0.3 1,0.3 1.3,0.4 1.2,0.4 1,0.4 1,0.5 1,0.5 1,0.6 1,0.6 0.7,0.5 0.8,0.7 0.9,0.8 0.6,0.7 0.7,0.8 0.6,1 0.5,1 0.4,1 0.3,1.1 0.2,1.4 -0.1,1.5 -0.3,1 -0.3,1 -0.5,1.1 -0.6,0.9 -0.7,1 -0.7,0.8 -0.7,0.7 -0.8,0.6 -1,0.8 -0.9,0.6 -0.9,0.5 -1,0.5 -1,0.5 -1.2,0.5 -1,0.3 -1,0.4 -1.3,0.3 -1.2,0.3 -1.2,0.2 -1.3,0.2 -1.5,0.2 -1.5,0.1 -1.5,0 -1.5,0 -1.5,-0.1 -1.5,-0.2 -1.5,-0.2 -1,-0.2 -1.4,-0.3 -1.1,-0.3 -1,-0.3 -1.1,-0.4 -1.3,-0.5 -1,-0.5 -1,-0.5 -0.9,-0.5 -0.7,-0.5 -1,-0.7 -1,-0.8 -0.5,-0.5 -0.9,-1 -0.6,-0.8 -0.5,-0.8 -0.5,-0.9 -0.5,-1.4 -0.3,-1.1 -0.1,-1.5 0.2,-1.5 0.3,-1 0.4,-1.1 0.5,-0.9 0.6,-1 0.8,-1 0.6,-0.6 1,-0.9 0.6,-0.5 0.9,-0.6 1,-0.7 1,-0.5 1,-0.5 1,-0.5 1,-0.4 1,-0.3 1.5,-0.4 1,-0.3 1.4,-0.3 1.1,-0.2 1.5,-0.2 1.3,-0.1 M63.9,473.8l1.2,-0.1 1.5,0 1.5,0.1 1,0.1 1.5,0.1 1.5,0.2 1,0.2 1.5,0.4 1,0.2 1,0.3 1.3,0.5 1.2,0.5 1,0.4 1,0.5 1,0.6 0.8,0.5 0.7,0.5 1,0.8 0.8,0.7 0.7,0.8 0.6,0.7 0.7,1 0.6,1 0.4,1 0.3,1 0.3,1.5 0,1.5 -0.3,1.5 -0.3,1 -0.5,1 -0.5,1 -0.8,1 -0.5,0.6 -0.8,0.9 -0.7,0.6 -1,0.8 -0.9,0.6 -0.8,0.5 -0.9,0.5 -1,0.5 -1.1,0.5 -1.3,0.5 -1,0.4 -1,0.3 -1.3,0.3 -1.2,0.3 -1.3,0.2 -1.2,0.2 -1.5,0.1 -1.5,0.1 -1.5,0.1 -1.5,-0.1 -1.5,0 -1.5,-0.2 -1.4,-0.2 -1.1,-0.2 -1.4,-0.3 -1.1,-0.3 -1,-0.3 -1.2,-0.4 -1.3,-0.5 -1,-0.4 -1,-0.5 -1,-0.6 -0.8,-0.5 -0.7,-0.5 -1,-0.7 -0.9,-0.8 -0.6,-0.6 -0.7,-0.9 -0.8,-1 -0.5,-0.9 -0.5,-1.1 -0.3,-1 -0.2,-1 -0.1,-1.5 0.1,-1.1 0.3,-1.4 0.4,-1 0.5,-1 0.6,-1 0.7,-0.9 0.5,-0.6 1,-0.9 0.7,-0.6 0.8,-0.6 1,-0.7 1,-0.6 1,-0.5 1,-0.5 1,-0.4 1,-0.4 1,-0.3 1.5,-0.5 1,-0.2 1.5,-0.3 1,-0.2 1.5,-0.2 1.5,-0.1 0.3,0 M42.6,485.5l0.4,-1.2 0.5,-1 0.6,-1 0.5,-0.7 0.7,-0.8 0.8,-0.8 0.7,-0.7 0.8,-0.6 1,-0.7 1,-0.7 1,-0.5 1,-0.5 1,-0.5 1,-0.4 1,-0.3 1,-0.3 1.5,-0.5 1,-0.2 1.5,-0.3 1,-0.1 1.5,-0.2 1.5,-0.2 1,0 1.5,0 1.3,0 1.2,0.1 1.5,0.1 1.5,0.2 1,0.2 1.5,0.3 1,0.2 1.4,0.4 1.1,0.3 1,0.4 1,0.4 1,0.5 1,0.5 1,0.6 1,0.6 0.9,0.7 0.7,0.5 0.9,0.9 0.6,0.6 0.8,1 0.6,0.8 0.5,0.9 0.5,1.1 0.4,1.2 0.2,1 0.1,1.5 -0.2,1.3 -0.3,1.2 -0.3,1 -0.5,1 -0.7,1 -0.7,1 -0.5,0.5 -1,1 -0.6,0.5 -0.9,0.7 -1,0.7 -1,0.6 -0.9,0.5 -1,0.5 -1.1,0.5 -1,0.4 -1,0.3 -1,0.3 -1.5,0.4 -1,0.3 -1.5,0.2 -1,0.2 -1.5,0.2 -1.5,0.1 -1.5,0 -1.5,0 -1.5,0 -1.5,-0.2 -1.5,-0.2 -1,-0.1 -1.5,-0.3 -1,-0.2 -1.3,-0.4 -1.2,-0.4 -1,-0.3 -1,-0.4 -1,-0.5 -1,-0.5 -1,-0.5 -1,-0.7 -1,-0.7 -0.6,-0.5 -0.9,-0.8 -0.7,-0.7 -0.8,-0.9 -0.5,-0.7 -0.6,-0.9 -0.4,-1 -0.5,-1.3 M42.6,483.8l0.5,-1 0.7,-1 0.8,-1 0.5,-0.6 1,-0.9 0.6,-0.5 0.9,-0.7 1,-0.7 1,-0.6 1,-0.5 1,-0.5 1,-0.4 1,-0.4 1,-0.4 1.1,-0.3 1.4,-0.4 1,-0.2 1.5,-0.3 1,-0.1 1.5,-0.2 1.5,-0.1 1.5,-0.1 1.5,0 1.5,0 1.5,0.1 1.5,0.2 1,0.2 1.5,0.2 1,0.3 1.5,0.3 1,0.3 1,0.4 1.1,0.4 1.2,0.5 1,0.5 1,0.5 0.8,0.5 0.9,0.6 1,0.7 0.8,0.7 0.7,0.6 0.8,0.9 0.7,0.8 0.5,0.7 0.6,1 0.4,1 0.5,1.4 0.2,1.1 0.1,1.5 -0.2,1.5 -0.2,1 -0.4,1 -0.5,1 -0.6,1 -0.7,1 -0.7,0.8 -0.7,0.7 -0.8,0.7 -1,0.8 -0.8,0.5 -0.7,0.5 -1,0.5 -1,0.6 -1,0.4 -1.1,0.5 -1.4,0.5 -1,0.3 -1,0.3 -1.5,0.4 -1,0.2 -1.5,0.2 -1,0.1 -1.5,0.2 -1.5,0.1 -1.5,0 -1.5,0 -1.5,-0.1 -1.5,-0.1 -1,-0.2 -1.5,-0.2 -1,-0.2 -1.5,-0.3 -1,-0.3 -1.2,-0.4 -1.3,-0.5 -1,-0.4 -1,-0.4 -1,-0.5 -1,-0.6 -0.9,-0.6 -0.8,-0.5 -0.8,-0.6 -1,-0.9 -0.5,-0.5 -0.9,-1 -0.6,-0.8 -0.5,-0.8 -0.5,-1 M42.6,482.5l0.5,-0.7 0.8,-1 0.7,-0.8 0.7,-0.7 0.8,-0.7 1,-0.7 0.8,-0.6 0.8,-0.5 0.9,-0.5 1,-0.5 1.1,-0.5 1.2,-0.5 1.2,-0.4 1,-0.4 1,-0.2 1.5,-0.4 1,-0.2 1.5,-0.3 1,-0.1 1.5,-0.2 1.5,-0.1 1.5,0 1.5,0 1.5,0.1 1.5,0.1 1,0.1 1.5,0.2 1.3,0.3 1.2,0.3 1,0.2 1.5,0.5 1,0.3 1,0.4 1,0.4 1,0.5 1,0.5 1,0.6 1,0.6 0.9,0.7 0.6,0.5 1,0.9 0.6,0.6 0.8,1 0.6,0.8 0.5,0.8 0.5,1 0.5,1.3 0.3,1.1 0.1,1.5 -0.1,1.5 -0.3,1.5 -0.4,1 -0.4,1 -0.6,1 -0.6,0.8 -0.5,0.7 -1,1 -0.5,0.5 -1,0.8 -0.9,0.7 -0.8,0.5 -0.8,0.5 -1,0.6 -1,0.5 -1,0.4 -1.3,0.5 -1.2,0.4 -1,0.3 -1,0.3 -1.5,0.4 -1,0.2 -1.5,0.2 -1.5,0.2 -1,0.1 -1.5,0.1 -1.5,0 -1.5,0 -1.5,-0.1 -1.1,-0.1 -1.4,-0.2 -1.5,-0.2 -1,-0.2 -1.5,-0.3 -1,-0.3 -1,-0.3 -1.4,-0.5 -1.1,-0.4 -1,-0.4 -1,-0.5 -1,-0.6 -1,-0.6 -0.8,-0.5 -0.7,-0.5 -1,-0.8 -0.7,-0.7 -0.8,-0.8 -0.6,-0.7 -0.7,-1 -0.2,-0.3" fill="none" stroke="#5a5eb0" stroke-width="0.55" opacity="0.9" stroke-linejoin="round"/>
<path d="M78.9,463.8l1.2,0 0.8,0.5 0.5,1 -0.3,1.2 -1,0.7 -0.6,0.1 -1.3,-0.5 -0.6,-1 0.5,-1.5 0.8,-0.5 M77.8,462.3l1.3,-0.4 1.5,0.2 1,0.4 0.9,0.8 0.6,1 0.2,1 -0.2,1.3 -0.5,1 -0.7,0.7 -0.9,0.5 -1.4,0.3 -1.5,-0.3 -1,-0.5 -0.5,-0.5 -0.6,-1 -0.3,-1.5 0.4,-1.4 0.5,-0.7 1,-0.8 0.2,-0.1 M77.9,460.8l1.2,-0.2 1.5,0.1 1,0.3 1,0.5 0.9,0.8 0.6,0.9 0.5,1.1 0.1,1 -0.1,1.3 -0.5,1.2 -0.5,0.8 -0.8,0.7 -0.7,0.5 -1.3,0.5 -1.2,0.2 -1.4,-0.2 -1.1,-0.4 -1,-0.6 -0.5,-0.5 -0.7,-1 -0.4,-1 -0.2,-1.5 0.3,-1.5 0.5,-1 0.5,-0.6 1,-0.8 1,-0.5 0.3,-0.1 M77.1,459.8l1.5,-0.4 1.5,0 1.5,0.3 1,0.4 1,0.7 0.6,0.5 0.8,1 0.5,1 0.3,1 0.2,1.5 -0.3,1.5 -0.5,1 -0.6,1 -0.5,0.5 -1,0.8 -1,0.5 -1,0.3 -1.5,0.2 -1.5,-0.1 -1,-0.3 -1,-0.5 -1,-0.7 -0.7,-0.7 -0.6,-1 -0.5,-1 -0.2,-1 0,-1.5 0.2,-1 0.4,-1 0.6,-1 0.8,-0.8 1,-0.7 1,-0.5 0,0 M77.3,458.8l1.3,-0.3 1.5,0 1.5,0.3 1,0.3 1,0.5 0.9,0.7 0.6,0.6 0.7,0.9 0.5,1 0.4,1 0.2,1.5 -0.1,1.5 -0.3,1 -0.5,1 -0.6,1 -0.8,0.8 -0.9,0.7 -0.9,0.5 -1.2,0.4 -1,0.3 -1.5,0 -1.4,-0.2 -1.1,-0.3 -1,-0.5 -1,-0.7 -0.5,-0.5 -0.8,-1 -0.6,-1 -0.4,-1 -0.2,-1.4 0,-0.7 0.2,-1.4 0.4,-1 0.5,-1 0.8,-1 0.6,-0.6 1,-0.7 1,-0.5 0.7,-0.2 M78.7,457.8l1.4,0 1,0.1 1.4,0.4 1.1,0.5 0.8,0.5 0.7,0.6 0.9,0.9 0.6,0.9 0.5,1 0.4,1.1 0.1,1 0,1.5 -0.1,1 -0.4,1 -0.5,1 -0.7,1 -0.8,0.8 -0.8,0.7 -0.9,0.5 -1.2,0.5 -1.1,0.3 -1.5,0.1 -1.5,-0.1 -1.3,-0.3 -1.2,-0.5 -0.9,-0.5 -0.6,-0.5 -1,-1 -0.5,-0.7 -0.5,-0.8 -0.5,-1.3 -0.2,-1.2 0,-1.5 0.2,-1.3 0.5,-1.2 0.5,-0.9 0.5,-0.7 0.9,-0.9 0.6,-0.5 1,-0.6 1,-0.4 1.5,-0.4 0.6,-0.1 M77.7,457.3l1.4,-0.2 1.5,0.1 1,0.2 1.4,0.4 1,0.5 0.8,0.5 0.8,0.6 0.8,0.9 0.7,0.9 0.5,1 0.4,1.1 0.3,1 0,1.5 -0.2,1.5 -0.3,1 -0.4,1 -0.7,1 -0.6,0.8 -0.8,0.7 -0.7,0.5 -1,0.6 -1,0.4 -1.5,0.4 -1,0.2 -1.5,-0.1 -1,-0.1 -1.3,-0.4 -1.1,-0.5 -0.9,-0.5 -0.7,-0.6 -0.9,-0.9 -0.6,-0.7 -0.5,-0.9 -0.5,-1.1 -0.3,-1.3 -0.1,-1.5 0.1,-1.5 0.3,-1 0.5,-1.1 0.6,-0.9 0.8,-1 0.6,-0.5 1,-0.8 1,-0.5 1,-0.4 1.1,-0.3 M77.1,456.8l1,-0.2 1.5,-0.1 1.5,0.1 1,0.2 1.3,0.5 1,0.5 0.8,0.5 0.9,0.7 0.8,0.8 0.7,1 0.5,0.9 0.5,1.1 0.2,1 0.2,1.5 -0.1,1.5 -0.3,1.3 -0.5,1.2 -0.5,0.9 -0.5,0.7 -0.8,0.9 -0.7,0.6 -1,0.7 -1,0.5 -1,0.4 -1.1,0.3 -1.4,0.2 -1.5,0 -1.1,-0.2 -1.4,-0.4 -1,-0.4 -1,-0.6 -0.8,-0.6 -0.7,-0.6 -0.8,-0.9 -0.7,-1 -0.4,-1 -0.4,-1 -0.2,-1 -0.1,-1.5 0.1,-1.1 0.3,-1.4 0.4,-1 0.6,-1 0.7,-0.9 0.5,-0.6 1,-0.9 1,-0.6 1,-0.5 1,-0.4 0.5,-0.1" fill="none" stroke="#5a5eb0" stroke-width="0.55" opacity="0.9" stroke-linejoin="round"/>
<path d="M86.6,456.3l1.5,-0.2 1.5,0.1 1,0.3 1,0.5 0.9,0.8 0.6,0.6 0.7,0.9 0.7,1 0.5,1 0.5,1 0.4,1 0.3,1 0.4,1.3 0.3,1.2 0.2,1 0.3,1.5 0.2,1.5 0.1,1 0.1,1.5 0,1.5 0,1.5 -0.1,1.5 -0.1,1 -0.3,1.5 -0.2,1 -0.4,1.5 -0.3,1 -0.3,1 -0.5,1.5 -0.2,1 -0.2,1.5 -0.1,1.4 0,1.1 -0.2,1.5 -0.2,1.5 -0.3,1 -0.5,1 -0.6,1 -0.7,0.7 -0.9,0.8 -0.9,0.5 -1.2,0.5 -1,0.2 -1.5,0 -1.2,-0.2 -1.3,-0.4 -1,-0.3 -1,-0.4 -1.1,-0.4 -1.4,-0.3 -1.5,0.1 -1,0.2 -1.5,0.4 -1,0.3 -1,0.3 -1.5,0.4 -1,0.2 -1.5,0.3 -1.3,0.1 -1.2,0.1 -1.5,0 -1.5,0 -1.4,-0.1 -1.1,-0.1 -1.5,-0.3 -1,-0.2 -1.5,-0.4 -1,-0.3 -1,-0.3 -1,-0.5 -1,-0.4 -1,-0.6 -1,-0.6 -1,-0.8 -0.6,-0.5 -0.9,-0.8 -0.6,-0.7 -0.7,-1 -0.6,-1 -0.4,-1 -0.3,-1 -0.2,-1.5 0.1,-1.5 0.2,-1 0.5,-1.3 0.5,-1 0.5,-0.7 0.8,-1 0.7,-0.8 0.8,-0.7 0.7,-0.5 1,-0.7 1,-0.6 1,-0.5 1,-0.5 1,-0.3 1.1,-0.4 1.4,-0.4 1,-0.2 1.5,-0.3 1,-0.1 1.5,-0.2 1.5,-0.1 1.5,0 1.5,0 1.5,0 1.5,0 1.5,0 1.5,0 0.5,-0.4 -0.6,-0.8 -0.9,-1 -0.5,-0.6 -0.7,-0.9 -0.6,-1 -0.6,-1 -0.4,-1 -0.3,-1 -0.2,-1.5 0,-1.5 0.3,-1.5 0.3,-1 0.5,-1 0.7,-1 0.5,-0.5 1,-0.9 0.8,-0.6 1,-0.5 1.2,-0.5 1,-0.3 1.5,-0.2 1,-0.1 1.5,0 1.5,-0.1 1.5,0 1.5,-0.2 0.5,-0.1 M76.6,475.7l0.3,0.6 0.7,0.6 1,0.7 0.9,0.7 0.8,0.5 0.9,0.5 1.4,0.4 1,-0.8 0,-1.1 -0.4,-1 -0.6,-0.7 -1,-0.5 -1.5,-0.2 -1.5,0 -1.5,0.2 -0.5,0.1 M86.5,454.8l1.1,-0.3 1.5,-0.1 1.5,0.3 1,0.4 0.9,0.7 0.6,0.6 0.8,0.9 0.7,1 0.5,0.8 0.5,0.9 0.5,1.1 0.5,1.2 0.3,1 0.4,1 0.3,1.3 0.3,1.2 0.2,1.1 0.2,1.4 0.2,1.5 0.1,1 0.1,1.5 0.1,1.5 -0.1,1.5 0,1.5 -0.1,1 -0.2,1.5 -0.3,1.5 -0.2,1 -0.3,1.4 -0.3,1.1 -0.2,1 -0.3,1.5 -0.2,1 -0.2,1.5 -0.1,1.5 -0.2,1.5 -0.2,1 -0.3,1.1 -0.5,1.2 -0.5,0.8 -0.6,0.9 -0.9,0.9 -0.8,0.6 -0.9,0.5 -1.2,0.5 -1.1,0.3 -1.5,0.1 -1.5,-0.2 -1,-0.2 -1.5,-0.5 -1,-0.3 -1,-0.3 -1.5,-0.3 -1.5,0 -1.5,0.3 -1,0.2 -1.5,0.4 -1,0.2 -1.2,0.3 -1.3,0.2 -1.5,0.2 -1,0.1 -1.5,0.1 -1.5,0.1 -1.5,-0.1 -1.2,-0.1 -1.3,-0.1 -1.5,-0.3 -1,-0.2 -1.5,-0.4 -1,-0.3 -1,-0.4 -1,-0.4 -1,-0.4 -1,-0.5 -1,-0.6 -1,-0.7 -0.9,-0.7 -0.6,-0.5 -1,-1 -0.5,-0.6 -0.7,-0.9 -0.6,-1 -0.4,-1 -0.3,-1 -0.3,-1.5 0,-1.5 0.2,-1.5 0.3,-1 0.5,-1 0.6,-1 0.7,-1 0.5,-0.6 0.9,-0.9 0.6,-0.5 1,-0.8 1,-0.7 0.9,-0.5 0.9,-0.5 1.1,-0.5 1.1,-0.4 1,-0.4 1,-0.3 1.5,-0.4 1,-0.2 1.5,-0.3 1,-0.1 1.5,-0.1 1.5,-0.1 1.5,-0.1 1,-0.1 1.5,-0.3 1,-0.4 0.3,-1.3 -0.3,-1 -0.5,-1.3 -0.4,-1.2 -0.2,-1 -0.2,-1.5 0,-1.5 0.2,-1.5 0.4,-1 0.4,-1 0.6,-1 0.7,-0.8 0.6,-0.7 0.9,-0.7 1,-0.7 1,-0.5 1,-0.4 1,-0.3 1.5,-0.3 1.1,-0.1 1.4,-0.1 1.5,-0.1 1.5,-0.2 1,-0.2 1.4,-0.4 M87.6,452.8l1,-0.2 1.5,0.1 1,0.3 1,0.6 0.9,0.7 0.6,0.6 0.7,0.9 0.8,1 0.5,0.9 0.5,0.9 0.5,1.1 0.5,1.1 0.3,1 0.4,1 0.3,1.1 0.4,1.4 0.2,1 0.3,1.5 0.2,1 0.2,1.5 0.1,1.5 0.1,1.4 0.1,1.1 0,1.5 -0.1,1.5 0,1 -0.1,1.5 -0.2,1.5 -0.2,1 -0.3,1.5 -0.2,1.1 -0.3,1.4 -0.2,1 -0.3,1.5 -0.1,1.5 -0.2,1 -0.1,1.5 -0.3,1.3 -0.3,1.2 -0.4,1 -0.4,1 -0.6,1 -0.8,1 -0.5,0.5 -1,0.8 -1,0.6 -1,0.4 -1,0.4 -1.5,0.2 -1.5,0 -1.5,-0.2 -1,-0.2 -1.5,-0.4 -1,-0.3 -1,-0.3 -1.5,-0.2 -1.5,0.1 -1,0.1 -1.5,0.4 -1,0.2 -1.5,0.3 -1,0.2 -1.5,0.3 -1.3,0.1 -1.2,0.1 -1.5,0.1 -1.5,0 -1.5,-0.1 -1,-0.1 -1.5,-0.2 -1.5,-0.2 -1,-0.2 -1.4,-0.4 -1.1,-0.3 -1,-0.4 -1,-0.4 -1,-0.4 -1,-0.5 -1,-0.5 -1,-0.6 -1,-0.8 -0.8,-0.6 -0.7,-0.6 -0.9,-0.9 -0.6,-0.8 -0.5,-0.7 -0.7,-1 -0.4,-1 -0.4,-1 -0.3,-1.5 -0.1,-1.5 0.1,-1.5 0.3,-1.1 0.5,-1.3 0.5,-1 0.5,-0.8 0.6,-0.8 0.9,-1 0.5,-0.5 1,-0.9 0.8,-0.6 0.8,-0.5 0.9,-0.6 1,-0.5 1,-0.5 1,-0.4 1.2,-0.5 1.3,-0.4 1,-0.3 1.2,-0.3 1.3,-0.3 1.5,-0.2 1,-0.1 1.5,-0.2 1.5,-0.2 1,-0.1 1.4,-0.4 0.7,-0.5 0.3,-1.5 -0.3,-1.5 -0.2,-1 -0.2,-1.5 0,-1.5 0.1,-1.5 0.3,-1 0.4,-1.1 0.5,-1 0.5,-0.9 0.8,-1 0.7,-0.7 1,-0.8 0.8,-0.5 0.9,-0.5 1.1,-0.5 1.2,-0.4 1,-0.2 1.5,-0.3 1.2,-0.1 1.3,-0.2 1.5,-0.2 1,-0.3 1,-0.4 1.1,-0.4 1.4,-0.5 M42.6,484.9l0.4,-1.1 0.5,-1 0.6,-1 0.5,-0.7 0.7,-0.8 0.8,-0.9 0.7,-0.6 0.8,-0.7 1,-0.7 0.9,-0.6 0.9,-0.5 0.9,-0.5 1.1,-0.5 1.1,-0.5 1.1,-0.4 1,-0.3 1,-0.3 1.5,-0.4 1,-0.2 1.5,-0.3 1,-0.1 1.5,-0.3 1.5,-0.2 1,-0.2 1,-0.4 0.8,-0.9 0.1,-1.5 -0.1,-1.5 -0.1,-1.5 0,-1.5 0.3,-1.5 0.2,-1 0.4,-1 0.5,-1 0.7,-1 0.7,-0.9 0.5,-0.6 1,-0.9 0.9,-0.6 0.8,-0.5 1,-0.5 1.3,-0.5 1,-0.3 1,-0.2 1.5,-0.3 1.4,-0.2 1.1,-0.2 1.1,-0.3 1.3,-0.5 0.9,-0.5 0.9,-0.5 1,-0.5 1.3,-0.4 1,-0.2 1,0.2 1.3,0.4 0.8,0.5 0.9,0.7 0.8,0.8 0.7,0.8 0.5,0.7 0.7,1 0.5,1 0.6,1 0.4,1 0.4,1 0.4,1 0.5,1.5 0.3,1 0.2,1 0.4,1.5 0.2,1 0.3,1.5 0.1,1.1 0.2,1.4 0.1,1.5 0.1,1.5 0,1.5 0,1.5 0,1.5 -0.1,1.5 -0.2,1.5 -0.1,1 -0.2,1.5 -0.3,1.5 -0.2,1 -0.3,1.5 -0.1,1 -0.2,1.5 -0.2,1.4 -0.2,1.1 -0.2,1.5 -0.3,1 -0.3,1 -0.5,1.1 -0.5,0.9 -0.7,1 -0.8,1 -0.6,0.5 -0.9,0.7 -1,0.6 -1,0.5 -1,0.3 -1.5,0.3 -1.5,0.1 -1.5,-0.1 -1.5,-0.3 -1,-0.3 -1.2,-0.3 -1.3,-0.3 -1.1,-0.2 -1.4,0 -1,0.1 -1.5,0.3 -1,0.2 -1.5,0.3 -1,0.2 -1.5,0.2 -1.5,0.2 -1,0.1 -1.5,0.1 -1.5,0 -1.5,-0.1 -1.5,-0.1 -1,-0.1 -1.5,-0.2 -1.1,-0.2 -1.4,-0.3 -1,-0.3 -1.4,-0.4 -1.1,-0.4 -1,-0.4 -1,-0.4 -1,-0.5 -1,-0.5 -1,-0.7 -0.9,-0.6 -0.7,-0.5 -0.9,-0.8 -0.8,-0.7 -0.7,-0.8 -0.5,-0.7 -0.7,-1 -0.6,-1 -0.5,-1 -0.2,-0.7 M42.6,481.5l0.5,-0.7 0.8,-1 0.7,-0.7 0.8,-0.8 0.7,-0.6 1,-0.7 1,-0.7 0.8,-0.5 0.9,-0.5 1,-0.5 1,-0.5 1.3,-0.5 1,-0.4 1,-0.3 1,-0.3 1.5,-0.4 1,-0.2 1.5,-0.3 1,-0.1 1.5,-0.3 1.2,-0.2 1.3,-0.5 0.7,-0.5 0.4,-1 0.1,-1.5 0,-1.5 0.1,-1.5 0.2,-1.4 0.3,-1.1 0.3,-1 0.5,-1 0.5,-1 0.8,-1 0.6,-0.7 0.8,-0.8 0.7,-0.6 1,-0.7 1,-0.6 1,-0.5 1,-0.4 1,-0.3 1.5,-0.3 1,-0.2 1.5,-0.3 1,-0.3 1,-0.3 1,-0.5 1,-0.6 1,-0.7 1,-0.7 1,-0.5 1,-0.3 1.5,-0.1 1.4,0.4 1,0.5 0.7,0.5 0.9,0.8 0.7,0.7 0.8,1 0.5,0.7 0.5,0.8 0.6,1 0.5,1 0.5,1 0.4,1 0.5,1.2 0.5,1.3 0.3,1 0.3,1 0.3,1.5 0.3,1 0.3,1.5 0.1,1 0.3,1.5 0.1,1.4 0.1,1.1 0.1,1.5 0.1,1.5 0,1.5 0,1.5 -0.1,1.5 -0.1,1.5 -0.1,1 -0.2,1.5 -0.2,1.5 -0.2,1 -0.2,1.5 -0.2,1.2 -0.2,1.3 -0.2,1.5 -0.1,1 -0.3,1.5 -0.2,1 -0.5,1.5 -0.3,1 -0.5,1 -0.6,1 -0.6,0.8 -0.6,0.7 -0.9,0.8 -0.9,0.7 -0.8,0.5 -1,0.5 -1.3,0.5 -1,0.2 -1.5,0.2 -1.5,0 -1.5,-0.1 -1.5,-0.3 -1,-0.2 -1,-0.3 -1.5,-0.3 -1.5,-0.1 -1.5,0.1 -1.5,0.3 -1,0.2 -1.5,0.3 -1,0.1 -1.5,0.3 -1.3,0.1 -1.2,0.1 -1.5,0.1 -1.5,0 -1.5,0 -1.5,-0.2 -1,-0.1 -1.5,-0.1 -1.4,-0.3 -1.1,-0.2 -1.1,-0.3 -1.4,-0.4 -1,-0.3 -1,-0.4 -1,-0.4 -1.1,-0.5 -1,-0.5 -0.9,-0.5 -1,-0.6 -1,-0.7 -1,-0.7 -0.6,-0.5 -0.9,-0.9 -0.6,-0.6 -0.8,-1 -0.6,-0.8 M42.6,479.3l0.9,-1 0.6,-0.5 1,-0.9 0.8,-0.6 0.7,-0.5 1,-0.6 1,-0.6 1,-0.5 1,-0.5 1,-0.4 1,-0.4 1.5,-0.5 1,-0.3 1,-0.3 1.5,-0.3 1,-0.3 1.5,-0.2 1,-0.2 1.5,-0.3 1,-0.4 1,-0.7 0.5,-1 0.1,-1 0.1,-1.5 0.2,-1.5 0.2,-1 0.4,-1.5 0.3,-1 0.5,-1 0.6,-1 0.6,-0.9 0.5,-0.6 1,-1 0.6,-0.5 0.9,-0.7 1,-0.7 1,-0.5 1,-0.4 1,-0.4 1.1,-0.3 1.4,-0.3 1,-0.3 1.5,-0.3 1,-0.4 1,-0.5 1,-0.7 0.6,-0.5 0.9,-0.8 0.9,-0.7 0.8,-0.5 1.2,-0.5 1.1,-0.2 1.5,0.1 1,0.3 1,0.5 1,0.8 0.6,0.5 0.9,0.9 0.5,0.6 0.7,1 0.7,1 0.6,1 0.5,1 0.5,1 0.4,1 0.5,1 0.3,1 0.4,1 0.4,1.4 0.3,1.1 0.3,1 0.3,1.5 0.2,1 0.3,1.5 0.1,1 0.2,1.5 0.2,1.5 0.1,1.4 0.1,1.1 0,1.5 0,1.5 0,1.5 0,1.5 -0.1,1 -0.1,1.5 -0.2,1.5 -0.2,1.3 -0.2,1.2 -0.2,1.5 -0.1,1 -0.2,1.5 -0.2,1.5 -0.2,1 -0.3,1.5 -0.2,1 -0.4,1.3 -0.5,1.2 -0.5,1 -0.5,0.9 -0.5,0.7 -0.7,0.9 -0.8,0.8 -0.9,0.7 -0.7,0.5 -0.9,0.5 -1,0.5 -1.5,0.5 -1,0.2 -1.5,0.2 -1.5,0 -1.5,-0.1 -1.5,-0.3 -1,-0.2 -1.3,-0.3 -1.2,-0.2 -1.5,-0.1 -1.5,0.1 -1.2,0.2 -1.3,0.2 -1.4,0.3 -1.1,0.2 -1.5,0.2 -1,0.1 -1.5,0.1 -1.5,0.1 -1.5,0 -1.5,0 -1.5,-0.1 -1,-0.1 -1.5,-0.2 -1.5,-0.3 -1,-0.2 -1.4,-0.3 -1.1,-0.3 -1,-0.3 -1.2,-0.4 -1.3,-0.5 -1,-0.4 -1,-0.5 -1,-0.5 -1,-0.6 -0.8,-0.5 -0.7,-0.5 -1,-0.7 -0.9,-0.8 -0.6,-0.5 -0.9,-1 -0.1,-0.1" fill="none" stroke="#5a5eb0" stroke-width="0.5" opacity="0.9" stroke-linejoin="round"/>
<rect x="43.5" y="449" width="92.3" height="24" stroke="#000" stroke-width="1.1" fill="none"/>
<line x1="73.1" y1="449" x2="73.1" y2="473" stroke="#000" stroke-width="1.1"/>
<text x="25.6" y="529.3" font-size="15.5" font-weight="normal" text-anchor="start" fill="#1c1c1c" textLength="30" lengthAdjust="spacingAndGlyphs" transform="rotate(-90 25.6 529.3)" stroke="#1c1c1c" stroke-width="0.3">CD38</text>
<text x="40.3" y="555" font-size="15.5" font-weight="normal" text-anchor="start" fill="#1c1c1c" textLength="37.5" lengthAdjust="spacingAndGlyphs" stroke="#1c1c1c" stroke-width="0.3">CXCR3</text>
<rect x="213.8" y="413.6" width="115.5" height="114" stroke="#9a9a9a" stroke-width="1" fill="none"/>
<path d="M212,416.6h1.8M212,418.95h1.8M212,421.3h1.8M212,423.64h1.8M212,425.99h1.8M212,428.34h1.8M212,430.69h1.8M212,433.03h1.8M212,435.38h1.8M212,437.73h1.8M212,440.08h1.8M212,442.43h1.8M212,444.77h1.8M212,447.12h1.8M212,449.47h1.8M212,451.82h1.8M212,454.17h1.8M212,456.51h1.8M212,458.86h1.8M212,461.21h1.8M212,463.56h1.8M212,465.9h1.8M212,468.25h1.8M212,470.6h1.8M212,472.95h1.8M212,475.3h1.8M212,477.64h1.8M212,479.99h1.8M212,482.34h1.8M212,484.69h1.8M212,487.03h1.8M212,489.38h1.8M212,491.73h1.8M212,494.08h1.8M212,496.43h1.8M212,498.77h1.8M212,501.12h1.8M212,503.47h1.8M212,505.82h1.8M212,508.17h1.8M212,510.51h1.8M212,512.86h1.8M212,515.21h1.8M212,517.56h1.8M212,519.9h1.8M212,522.25h1.8M216.8,527.6v1.8M219.18,527.6v1.8M221.56,527.6v1.8M223.94,527.6v1.8M226.32,527.6v1.8M228.7,527.6v1.8M231.08,527.6v1.8M233.46,527.6v1.8M235.84,527.6v1.8M238.22,527.6v1.8M240.6,527.6v1.8M242.98,527.6v1.8M245.37,527.6v1.8M247.75,527.6v1.8M250.13,527.6v1.8M252.51,527.6v1.8M254.89,527.6v1.8M257.27,527.6v1.8M259.65,527.6v1.8M262.03,527.6v1.8M264.41,527.6v1.8M266.79,527.6v1.8M269.17,527.6v1.8M271.55,527.6v1.8M273.93,527.6v1.8M276.31,527.6v1.8M278.69,527.6v1.8M281.07,527.6v1.8M283.45,527.6v1.8M285.83,527.6v1.8M288.21,527.6v1.8M290.59,527.6v1.8M292.97,527.6v1.8M295.35,527.6v1.8M297.73,527.6v1.8M300.12,527.6v1.8M302.5,527.6v1.8M304.88,527.6v1.8M307.26,527.6v1.8M309.64,527.6v1.8M312.02,527.6v1.8M314.4,527.6v1.8M316.78,527.6v1.8M319.16,527.6v1.8M321.54,527.6v1.8M323.92,527.6v1.8" stroke="#8a8a8a" stroke-width="0.7"/>
<path d="M210.6,422.95h3.2M210.6,443.7h3.2M210.6,464.9h3.2M210.6,487.36h3.2M236.9,527.6v3.2M265.78,527.6v3.2M292.34,527.6v3.2M317.75,527.6v3.2" stroke="#333" stroke-width="0.9"/>
<line x1="226" y1="529.8" x2="238.5" y2="529.8" stroke="#2a2a2a" stroke-width="2.4" stroke-dasharray="0.9 0.8"/>
<line x1="253.5" y1="529.8" x2="264" y2="529.8" stroke="#2a2a2a" stroke-width="2.4" stroke-dasharray="0.9 0.8"/>
<line x1="283" y1="529.8" x2="291.5" y2="529.8" stroke="#2a2a2a" stroke-width="2.4" stroke-dasharray="0.9 0.8"/>
<line x1="301" y1="529.8" x2="310.5" y2="529.8" stroke="#2a2a2a" stroke-width="2.4" stroke-dasharray="0.9 0.8"/>
<line x1="211.6" y1="513" x2="211.6" y2="523" stroke="#2a2a2a" stroke-width="2.4" stroke-dasharray="0.9 0.8"/>
<line x1="206.3" y1="536.8" x2="206.3" y2="493.5" stroke="#000" stroke-width="1.6"/>
<line x1="205.5" y1="536.8" x2="251.5" y2="536.8" stroke="#000" stroke-width="1.6"/>
<path d="M206.3,489.5 L203.6,495.7 L209,495.7Z" fill="#000"/>
<path d="M255.5,536.8 L249.3,534.1 L249.3,539.5Z" fill="#000"/>
<path d="M252.3,503.6h0.9M220.3,490.6h0.9M246.6,507.2h0.9M223.9,483.2h0.9M220.4,491.7h0.9M223.1,478.6h0.9M237.3,517.1h0.9M234.6,472.4h0.9M230.4,504.4h0.9M219.2,504.8h0.9M243.5,511.8h0.9M264.0,498.1h0.9M250.9,508.4h0.9M222.8,477.9h0.9M219.1,493.5h0.9M219.8,487.1h0.9M268.7,495.8h0.9M227.8,503.1h0.9M263.0,492.4h0.9M219.9,479.5h0.9M263.5,483.0h0.9M220.7,498.5h0.9M240.6,506.9h0.9M257.7,480.6h0.9M255.1,478.7h0.9M230.9,503.8h0.9M242.1,474.8h0.9M222.9,494.3h0.9M260.9,492.5h0.9M253.9,467.9h0.9M222.0,486.7h0.9M259.8,466.9h0.9M260.9,481.1h0.9M220.2,487.7h0.9M257.3,496.8h0.9M225.5,483.8h0.9M245.7,473.8h0.9M248.1,505.4h0.9M234.1,505.8h0.9M257.8,493.2h0.9M235.2,472.8h0.9M223.3,490.5h0.9M221.7,489.7h0.9M264.5,495.9h0.9M255.4,501.3h0.9M224.0,503.6h0.9M263.0,488.0h0.9M237.1,512.2h0.9M248.0,506.5h0.9M259.0,492.0h0.9M254.0,510.4h0.9M222.3,493.7h0.9M260.0,480.3h0.9M257.4,479.7h0.9M227.9,503.7h0.9M244.5,475.3h0.9M252.9,475.5h0.9M217.5,500.1h0.9M245.5,507.9h0.9M233.9,473.8h0.9M222.2,501.4h0.9M260.0,499.0h0.9M228.8,503.7h0.9M228.6,507.9h0.9M260.9,482.3h0.9M257.9,490.5h0.9M222.2,482.4h0.9M224.3,481.5h0.9M258.2,492.5h0.9M237.3,507.0h0.9M239.5,474.8h0.9M219.5,491.9h0.9M256.3,477.2h0.9M272.1,509.2h0.9M263.1,493.9h0.9M244.7,507.5h0.9M244.0,471.3h0.9M254.5,507.6h0.9M217.4,494.8h0.9M264.9,492.1h0.9M235.4,475.7h0.9M259.0,494.7h0.9M251.9,472.7h0.9M255.5,483.5h0.9M264.4,501.8h0.9M257.2,500.8h0.9M227.4,502.9h0.9M224.0,510.9h0.9M258.3,482.3h0.9M224.6,497.2h0.9M233.6,476.5h0.9M216.3,498.0h0.9M226.7,480.4h0.9M226.1,478.0h0.9M223.0,499.9h0.9M227.7,480.7h0.9M254.3,479.8h0.9M248.3,477.4h0.9M235.5,475.5h0.9M248.3,475.3h0.9M263.6,489.6h0.9M223.5,499.2h0.9M251.4,505.1h0.9M221.9,493.2h0.9M269.0,506.8h0.9M261.7,481.3h0.9M225.0,504.0h0.9M237.0,473.6h0.9M224.3,485.3h0.9M248.2,477.3h0.9M252.9,507.0h0.9M246.0,516.4h0.9M229.0,507.4h0.9M252.4,479.2h0.9M237.2,474.9h0.9M224.0,483.2h0.9M220.5,491.0h0.9M221.6,488.8h0.9M236.5,511.9h0.9M244.4,475.0h0.9M229.8,477.2h0.9M220.5,483.7h0.9M249.2,506.2h0.9M234.2,505.7h0.9M245.7,508.1h0.9M242.9,508.1h0.9M234.7,469.8h0.9M229.0,505.3h0.9M223.0,470.6h0.9M215.1,492.1h0.9M233.0,506.6h0.9M223.3,482.8h0.9M252.2,503.8h0.9M223.7,485.4h0.9M224.3,480.2h0.9M236.2,475.9h0.9M217.7,493.8h0.9M257.3,483.0h0.9M257.5,504.4h0.9M240.7,512.2h0.9M258.0,472.6h0.9M246.0,459.5h0.9M244.1,481.4h0.9M234.4,463.0h0.9M256.3,459.6h0.9M238.1,460.0h0.9M237.1,462.5h0.9M233.8,460.5h0.9M244.3,460.1h0.9M239.5,461.4h0.9M243.9,479.0h0.9M259.9,472.5h0.9M249.7,460.4h0.9M249.9,477.2h0.9M253.0,473.4h0.9M232.2,468.4h0.9M252.3,463.0h0.9M256.6,465.4h0.9M241.4,460.1h0.9M260.3,466.9h0.9M229.8,464.2h0.9M243.2,477.2h0.9M244.2,458.1h0.9M253.0,463.0h0.9M249.5,476.4h0.9M239.5,476.6h0.9M256.8,471.3h0.9M255.2,475.4h0.9M253.3,462.3h0.9M243.3,477.3h0.9M247.9,460.8h0.9M251.9,460.5h0.9M241.3,477.1h0.9M247.9,457.1h0.9M240.8,458.7h0.9M233.3,465.3h0.9M231.2,468.8h0.9M237.6,476.8h0.9M232.4,477.1h0.9M251.8,476.9h0.9M229.6,455.0h0.9M232.9,470.5h0.9M252.1,460.8h0.9M233.9,477.2h0.9M232.7,477.5h0.9M235.9,459.1h0.9M254.2,464.1h0.9M234.2,479.8h0.9M235.7,462.9h0.9M242.8,458.6h0.9M293.5,466.1h0.9M296.7,466.6h0.9M307.2,462.8h0.9M275.0,449.0h0.9M278.7,454.1h0.9M315.7,457.0h0.9M282.4,456.3h0.9M294.8,449.4h0.9M284.8,470.9h0.9M282.1,443.2h0.9M306.8,468.5h0.9M289.8,465.2h0.9M295.2,445.5h0.9M301.0,452.5h0.9M288.3,465.0h0.9M299.2,469.0h0.9M290.9,471.2h0.9M296.6,451.4h0.9M303.2,459.6h0.9M283.0,471.4h0.9M281.2,457.0h0.9M294.8,448.9h0.9M282.5,454.8h0.9M278.9,451.6h0.9M284.5,467.4h0.9M278.4,456.7h0.9M280.7,462.5h0.9M282.2,449.6h0.9M288.4,465.0h0.9M296.6,464.6h0.9M280.5,451.7h0.9M292.5,447.5h0.9M302.4,452.0h0.9M308.4,457.5h0.9M286.6,451.7h0.9M302.6,461.8h0.9M296.4,448.2h0.9M276.8,461.0h0.9M307.1,456.4h0.9M289.3,467.6h0.9M300.5,463.5h0.9M313.2,453.3h0.9M286.9,465.8h0.9M286.6,467.9h0.9M282.7,464.7h0.9M309.1,458.1h0.9M286.9,445.3h0.9M296.7,469.0h0.9M311.8,462.9h0.9M285.3,463.5h0.9M302.7,459.4h0.9M309.7,452.7h0.9M308.0,446.4h0.9M282.6,462.8h0.9M283.5,452.9h0.9M292.3,446.6h0.9M277.8,461.0h0.9M299.4,463.6h0.9M292.1,450.5h0.9M302.0,463.9h0.9M267.3,455.7h0.9M284.4,464.5h0.9M297.1,464.8h0.9M283.2,464.4h0.9M293.4,450.8h0.9M280.4,464.6h0.9M308.4,453.9h0.9M294.7,451.0h0.9M298.9,465.5h0.9M281.0,452.8h0.9M294.6,469.3h0.9M281.3,461.1h0.9M298.3,451.0h0.9M284.7,451.9h0.9M290.0,448.4h0.9M289.2,445.7h0.9M293.0,449.5h0.9M303.8,458.6h0.9M289.0,466.9h0.9M272.5,460.9h0.9M291.2,468.9h0.9M301.6,462.0h0.9M286.9,450.1h0.9M277.5,465.5h0.9M301.9,464.0h0.9M299.3,451.5h0.9M289.4,446.7h0.9M292.6,450.1h0.9M289.9,450.5h0.9M304.5,460.0h0.9M282.2,450.1h0.9M290.1,450.7h0.9M302.3,455.1h0.9M296.5,448.3h0.9M281.4,465.6h0.9M299.6,467.9h0.9M303.2,454.7h0.9M295.4,468.0h0.9M292.5,466.8h0.9M288.7,470.2h0.9M286.0,468.5h0.9M291.7,466.8h0.9M284.8,464.6h0.9M288.3,466.6h0.9M297.9,447.6h0.9M302.6,461.3h0.9M300.0,449.8h0.9M278.3,464.4h0.9M283.5,467.8h0.9M283.0,453.1h0.9M279.1,458.2h0.9M297.1,464.9h0.9M301.2,446.9h0.9M300.8,464.8h0.9M285.4,467.0h0.9M282.7,450.8h0.9M303.1,455.0h0.9M279.1,453.3h0.9M292.0,446.9h0.9M299.3,439.9h0.9M303.0,462.0h0.9M299.6,449.4h0.9M304.6,460.7h0.9M305.8,456.0h0.9M297.0,449.6h0.9M282.0,459.9h0.9M289.2,465.1h0.9M293.6,447.1h0.9M304.8,462.1h0.9M280.9,447.8h0.9M281.2,462.8h0.9M273.2,460.0h0.9M278.6,452.1h0.9M278.1,460.1h0.9M296.1,444.7h0.9M277.7,458.6h0.9M297.7,451.2h0.9M303.3,456.5h0.9M304.9,460.5h0.9M309.2,449.5h0.9M290.9,469.0h0.9M303.4,456.3h0.9M300.0,464.6h0.9M278.9,453.6h0.9M295.7,470.1h0.9M306.1,453.3h0.9M304.0,460.2h0.9M308.6,457.8h0.9M286.1,469.8h0.9M303.4,460.1h0.9M306.0,457.5h0.9M296.6,450.2h0.9M287.6,471.0h0.9M299.7,464.0h0.9M299.0,452.3h0.9M310.0,451.0h0.9M279.7,459.0h0.9M292.6,466.5h0.9M282.6,452.3h0.9M285.4,466.6h0.9M304.7,449.1h0.9M280.1,461.0h0.9M294.4,469.1h0.9M286.5,447.2h0.9M288.7,445.5h0.9M288.9,464.9h0.9M279.3,457.8h0.9M284.4,447.5h0.9M290.7,468.8h0.9M275.0,460.0h0.9M277.4,457.7h0.9M300.3,465.8h0.9M289.2,466.4h0.9M270.0,454.7h0.9M282.2,463.2h0.9M282.1,457.4h0.9M302.8,459.2h0.9M288.6,449.6h0.9M298.3,465.9h0.9M304.3,451.3h0.9M298.1,443.6h0.9M283.6,468.2h0.9M301.1,452.0h0.9M279.2,455.8h0.9M306.2,467.9h0.9M294.7,449.9h0.9M286.0,452.1h0.9M294.7,465.3h0.9M307.8,451.9h0.9M291.9,466.2h0.9M287.8,470.1h0.9M276.4,463.5h0.9M298.8,470.5h0.9M303.9,463.6h0.9M281.2,453.6h0.9M275.4,461.2h0.9M300.5,462.9h0.9M281.3,457.0h0.9M282.5,451.7h0.9M298.4,449.9h0.9M294.4,493.6h0.9M275.3,481.6h0.9M264.7,493.3h0.9M294.2,493.5h0.9M261.6,485.1h0.9M262.9,483.3h0.9M264.6,473.0h0.9M274.4,486.8h0.9M276.6,486.5h0.9M277.7,467.8h0.9M282.6,459.5h0.9M245.8,493.7h0.9M282.3,487.7h0.9M271.9,479.9h0.9M312.5,486.9h0.9M261.0,510.0h0.9M268.1,446.8h0.9M262.4,486.0h0.9M284.3,478.4h0.9M284.8,486.8h0.9M283.5,472.8h0.9M259.5,489.5h0.9M262.6,472.4h0.9M265.0,486.9h0.9M279.1,483.1h0.9M272.0,471.5h0.9M304.6,488.5h0.9M288.9,485.6h0.9M274.3,473.8h0.9M295.4,470.8h0.9M268.8,464.6h0.9M272.5,477.7h0.9M257.6,464.7h0.9M266.4,463.2h0.9M263.7,476.1h0.9M271.6,486.3h0.9M276.7,461.3h0.9M288.2,472.3h0.9M287.7,486.1h0.9M275.8,474.9h0.9M284.8,486.5h0.9M280.1,494.7h0.9M289.5,465.7h0.9M252.7,461.4h0.9M292.9,488.3h0.9M285.2,473.4h0.9M274.3,488.9h0.9M270.8,461.9h0.9M269.7,478.2h0.9M293.2,481.4h0.9M272.7,469.5h0.9M286.1,467.2h0.9M266.4,467.8h0.9M255.0,479.5h0.9M271.5,496.2h0.9M265.0,474.1h0.9M279.6,470.9h0.9M275.9,470.6h0.9M259.5,485.6h0.9M284.0,462.4h0.9M284.0,465.3h0.9M277.8,485.5h0.9M281.6,475.7h0.9M273.3,460.7h0.9M288.6,465.8h0.9M280.8,476.4h0.9M299.7,473.4h0.9M267.8,474.1h0.9M272.5,476.0h0.9M291.6,480.3h0.9M269.4,490.8h0.9M296.0,478.3h0.9M295.9,478.7h0.9M267.7,470.5h0.9M289.2,476.1h0.9M289.1,473.6h0.9M284.1,486.8h0.9M281.5,473.6h0.9M276.3,481.2h0.9M253.6,488.7h0.9M259.8,479.6h0.9M283.7,487.5h0.9M295.8,455.3h0.9M274.7,462.5h0.9M264.4,478.2h0.9M279.0,477.4h0.9M267.1,476.5h0.9M267.8,482.5h0.9M281.5,463.7h0.9M283.0,476.0h0.9M285.1,457.6h0.9M262.8,476.2h0.9M270.6,457.8h0.9M264.4,484.1h0.9M269.1,486.6h0.9M267.1,470.3h0.9M266.9,476.7h0.9M285.3,488.8h0.9M272.3,467.4h0.9M274.7,463.1h0.9M279.9,461.0h0.9M263.1,491.1h0.9M296.1,472.7h0.9M281.0,473.3h0.9M262.2,486.2h0.9M267.7,473.8h0.9M271.3,482.5h0.9M275.3,487.9h0.9M283.3,461.5h0.9M250.7,481.6h0.9M274.6,464.0h0.9M292.6,481.8h0.9M278.3,469.2h0.9M270.6,486.9h0.9M262.1,474.2h0.9M274.3,444.4h0.9M270.2,470.4h0.9M277.1,472.5h0.9M278.1,465.4h0.9M279.6,478.4h0.9M279.6,479.1h0.9M278.4,477.1h0.9M304.5,484.9h0.9M295.3,482.2h0.9M271.2,450.3h0.9M260.9,494.6h0.9M252.0,484.9h0.9M295.8,480.8h0.9M284.6,468.0h0.9M280.4,477.2h0.9M260.4,477.4h0.9M274.4,479.2h0.9M284.5,450.7h0.9M269.5,481.2h0.9M257.8,482.3h0.9M278.5,471.9h0.9M276.2,478.7h0.9M273.1,491.2h0.9M271.6,479.6h0.9M251.0,465.5h0.9M282.4,463.6h0.9M285.3,482.3h0.9M277.3,476.4h0.9M268.6,499.5h0.9M260.5,469.2h0.9M274.5,469.1h0.9M286.3,483.2h0.9M279.0,470.2h0.9M299.8,485.6h0.9M288.8,476.0h0.9M256.5,493.4h0.9M278.7,471.1h0.9M301.3,469.8h0.9M267.8,455.9h0.9M251.7,493.7h0.9M272.9,478.7h0.9M274.6,504.2h0.9M270.5,477.0h0.9M286.1,482.3h0.9M267.3,481.5h0.9M279.2,490.3h0.9M277.4,487.7h0.9M272.2,484.2h0.9M262.6,469.3h0.9M264.6,489.4h0.9M266.7,466.5h0.9M270.6,483.2h0.9M278.2,470.1h0.9M253.8,490.5h0.9M269.1,485.0h0.9M262.3,487.4h0.9M279.3,484.4h0.9M276.8,463.6h0.9M258.6,468.9h0.9M280.8,480.7h0.9M277.1,487.4h0.9M278.7,481.2h0.9M276.5,486.3h0.9M261.9,473.3h0.9M278.1,483.3h0.9M247.1,468.5h0.9M276.8,470.4h0.9M283.9,485.7h0.9M267.1,464.7h0.9M316.2,470.6h0.9M275.2,489.9h0.9M255.2,489.6h0.9M274.3,480.4h0.9M283.1,469.4h0.9M269.0,488.5h0.9M276.6,469.9h0.9M282.3,478.7h0.9M281.1,479.8h0.9M262.1,470.3h0.9M282.5,487.2h0.9M265.2,488.2h0.9M284.3,496.4h0.9M270.9,480.1h0.9M270.9,468.3h0.9M287.3,467.1h0.9M271.1,483.7h0.9M290.4,474.6h0.9M267.8,477.0h0.9M280.3,481.6h0.9M269.7,470.3h0.9M280.6,486.6h0.9M264.3,477.9h0.9M268.4,467.4h0.9M287.5,479.2h0.9M281.7,474.8h0.9M268.1,488.2h0.9M262.1,485.0h0.9M282.2,491.3h0.9M244.3,474.5h0.9M281.1,475.4h0.9M275.4,481.2h0.9M260.4,490.8h0.9M289.6,484.1h0.9M242.8,487.2h0.9M287.9,454.7h0.9M269.9,461.4h0.9M283.6,483.6h0.9M267.5,468.1h0.9M248.3,485.3h0.9M271.1,485.8h0.9M284.9,473.5h0.9M287.6,476.8h0.9M274.1,457.0h0.9M282.8,462.5h0.9M273.0,493.6h0.9M300.4,462.9h0.9M288.3,488.1h0.9M260.0,481.6h0.9M255.1,479.2h0.9M268.4,477.7h0.9M279.3,480.8h0.9M270.9,483.4h0.9M261.0,470.4h0.9M267.4,491.0h0.9M262.9,483.3h0.9M269.5,468.8h0.9M292.1,480.8h0.9M285.1,484.2h0.9M272.7,452.1h0.9M245.7,479.7h0.9M282.3,488.2h0.9M279.6,491.1h0.9M276.1,477.0h0.9M268.3,465.9h0.9M272.5,471.4h0.9M276.0,468.0h0.9M254.8,471.3h0.9M251.0,478.1h0.9M270.7,461.7h0.9M259.9,465.9h0.9M289.5,479.5h0.9M267.3,474.2h0.9M271.7,490.7h0.9M273.9,488.5h0.9M260.9,465.2h0.9M285.9,491.9h0.9M279.3,479.8h0.9M296.7,489.2h0.9M278.4,482.1h0.9M268.5,473.1h0.9M289.8,482.4h0.9M285.8,469.4h0.9M287.1,468.6h0.9M287.1,494.9h0.9M269.6,496.6h0.9M267.7,462.1h0.9M280.1,474.3h0.9M268.3,492.7h0.9M272.7,471.8h0.9M276.8,493.3h0.9M275.0,476.0h0.9M278.4,485.6h0.9M261.5,491.5h0.9M269.6,488.2h0.9M271.0,479.2h0.9M289.2,469.9h0.9M257.8,483.2h0.9M279.6,482.5h0.9M264.5,456.9h0.9M304.6,487.5h0.9M302.0,472.9h0.9M280.5,460.2h0.9M292.3,480.9h0.9M282.9,477.8h0.9M264.1,475.4h0.9M263.8,466.4h0.9M281.2,493.1h0.9M281.9,483.2h0.9M275.9,457.9h0.9M268.0,486.8h0.9M271.4,463.4h0.9M276.9,457.3h0.9M284.0,479.8h0.9M281.7,462.1h0.9M256.8,489.5h0.9M272.0,478.7h0.9M283.0,490.4h0.9M284.9,466.0h0.9M276.8,479.3h0.9M294.3,466.0h0.9M273.9,484.9h0.9M284.3,475.6h0.9M283.3,464.2h0.9M284.3,473.1h0.9M259.8,491.3h0.9M265.1,499.6h0.9M282.9,477.6h0.9M286.6,476.3h0.9M251.2,482.9h0.9M272.5,493.7h0.9M305.3,479.0h0.9M294.0,476.6h0.9M272.1,478.0h0.9M265.6,475.1h0.9M264.2,468.0h0.9M278.2,494.5h0.9M288.6,497.1h0.9M283.8,479.1h0.9M282.0,478.4h0.9M271.5,486.7h0.9M281.9,470.5h0.9M272.2,481.6h0.9M259.9,479.2h0.9M284.8,474.9h0.9M262.7,467.8h0.9M268.5,474.6h0.9M270.2,468.9h0.9M271.4,472.8h0.9M290.9,473.3h0.9M273.4,480.7h0.9M276.4,480.0h0.9M265.8,483.7h0.9M272.8,487.7h0.9M282.6,478.1h0.9M291.2,487.7h0.9M283.6,468.6h0.9M300.3,482.1h0.9M278.9,483.6h0.9M303.1,463.3h0.9M267.6,484.5h0.9M274.2,484.9h0.9M286.9,481.1h0.9M305.8,462.4h0.9M273.7,488.6h0.9M282.2,490.2h0.9M278.5,488.1h0.9M275.0,467.6h0.9M288.8,467.1h0.9M291.5,496.3h0.9M260.5,471.9h0.9M265.1,484.1h0.9M279.0,469.5h0.9M268.2,478.0h0.9M282.1,472.3h0.9M290.2,460.7h0.9M297.3,494.3h0.9M262.7,502.3h0.9M269.5,463.1h0.9M275.1,484.5h0.9M262.0,476.2h0.9M243.3,474.6h0.9M291.7,466.7h0.9M268.8,476.2h0.9M278.8,469.9h0.9M262.5,479.1h0.9M290.6,468.5h0.9M281.4,471.1h0.9M252.1,459.0h0.9M278.8,484.3h0.9M251.1,472.7h0.9M285.5,484.1h0.9M289.5,483.4h0.9M280.5,475.1h0.9M271.3,483.8h0.9M297.7,472.8h0.9M287.8,510.6h0.9M273.9,473.1h0.9M268.4,480.1h0.9M277.5,478.5h0.9M256.2,476.2h0.9M280.0,481.2h0.9M285.7,488.5h0.9M284.5,475.6h0.9M280.6,478.3h0.9M288.1,469.2h0.9M277.3,461.4h0.9M273.8,490.0h0.9M269.1,471.0h0.9M274.9,482.5h0.9M265.9,478.8h0.9M254.8,481.1h0.9M289.0,473.5h0.9M298.2,471.1h0.9M267.6,477.1h0.9M276.2,488.4h0.9" stroke="#5a60c0" stroke-width="0.9" opacity="0.75"/>
<path d="M237.2,476.1l1.1,-0.2 1.5,-0.1 1.5,0 1.5,0.1 1.4,0.2 1.1,0.2 1.1,0.3 1.4,0.5 1,0.3 1,0.5 1,0.6 1,0.6 0.7,0.5 0.8,0.6 1,0.9 0.5,0.6 0.8,0.9 0.7,1 0.5,0.8 0.5,0.9 0.5,1.2 0.4,1.1 0.2,1 0.3,1.5 0,1.5 -0.1,1.5 -0.3,1.4 -0.3,1.1 -0.4,1 -0.4,1 -0.6,1 -0.7,1 -0.6,0.8 -0.6,0.7 -0.9,0.8 -0.8,0.7 -0.7,0.6 -1,0.6 -1,0.6 -1,0.5 -1,0.5 -1,0.3 -1.3,0.4 -1.2,0.3 -1.2,0.2 -1.3,0.1 -1.5,0.1 -1.5,0 -1.5,-0.2 -1,-0.2 -1.4,-0.3 -1.1,-0.3 -1,-0.4 -1,-0.4 -1,-0.5 -1,-0.5 -1,-0.7 -0.9,-0.7 -0.6,-0.5 -1,-0.9 -0.5,-0.6 -0.8,-1 -0.7,-1 -0.5,-0.9 -0.5,-1.1 -0.4,-1 -0.3,-1 -0.3,-1.5 -0.1,-1 0,-1.5 0.1,-1 0.3,-1.5 0.3,-1 0.4,-1.1 0.5,-1.1 0.5,-0.9 0.6,-0.9 0.8,-1 0.6,-0.7 0.9,-0.8 0.6,-0.5 1,-0.8 1,-0.7 1,-0.5 1,-0.5 1,-0.4 1,-0.4 1,-0.3 1.5,-0.3 0.4,-0.1 M237,476.6l1.3,-0.2 1.5,-0.1 1.5,0 1.5,0.1 1.5,0.2 1,0.2 1.2,0.3 1.3,0.5 1,0.4 1,0.5 1,0.5 0.9,0.6 0.7,0.5 0.9,0.8 0.8,0.7 0.7,0.8 0.5,0.7 0.7,1 0.6,1 0.5,1 0.4,1 0.3,1.1 0.3,1.4 0.1,1.5 -0.1,1.5 -0.2,1.5 -0.3,1 -0.3,1 -0.5,1 -0.5,1 -0.7,1 -0.7,1 -0.6,0.6 -0.9,0.9 -0.6,0.5 -1,0.8 -1,0.7 -0.9,0.5 -1,0.5 -1.1,0.4 -1,0.4 -1,0.3 -1.5,0.3 -1,0.2 -1.5,0.1 -1.5,0 -1.5,0 -1.2,-0.2 -1.3,-0.2 -1,-0.3 -1.5,-0.5 -1,-0.4 -1,-0.5 -1,-0.5 -0.9,-0.6 -0.7,-0.5 -0.9,-0.7 -0.9,-0.8 -0.6,-0.7 -0.7,-0.8 -0.7,-1 -0.6,-1 -0.4,-1 -0.4,-1 -0.3,-1 -0.3,-1.5 -0.1,-1 0,-1.5 0,-1 0.3,-1.5 0.3,-1 0.4,-1 0.5,-1 0.6,-1 0.7,-1 0.7,-0.9 0.6,-0.6 0.9,-0.9 0.7,-0.6 0.8,-0.6 1,-0.6 1,-0.5 1,-0.5 1,-0.4 1.1,-0.4 1.4,-0.4 0.7,-0.1 M237,477.1l1.3,-0.2 1.5,-0.1 1.5,-0.1 1.5,0.1 1.5,0.3 1,0.2 1.1,0.3 1.4,0.5 1,0.4 1,0.5 1,0.6 0.7,0.5 0.8,0.6 1,0.9 0.5,0.5 0.9,1 0.6,0.9 0.5,0.7 0.5,1 0.5,1.2 0.4,1.2 0.2,1 0.2,1.5 0,1.5 -0.2,1.5 -0.2,1 -0.4,1.1 -0.5,1.2 -0.5,1 -0.5,0.7 -0.7,1 -0.8,0.9 -0.6,0.6 -0.9,0.8 -0.9,0.7 -0.8,0.5 -0.9,0.5 -0.9,0.5 -1.2,0.5 -1.3,0.4 -1,0.3 -1.4,0.3 -1.1,0.2 -1.5,0.1 -1.5,-0.1 -1.5,-0.1 -1,-0.1 -1.5,-0.4 -1,-0.2 -1,-0.4 -1.2,-0.5 -1,-0.5 -0.8,-0.5 -1,-0.7 -1,-0.8 -0.6,-0.5 -0.9,-0.9 -0.5,-0.6 -0.7,-1 -0.6,-1 -0.6,-1 -0.4,-1 -0.3,-1 -0.3,-1.5 -0.1,-1.4 0,-0.8 0.1,-1.3 0.3,-1.5 0.3,-1 0.4,-1 0.5,-1 0.6,-1 0.7,-1 0.6,-0.7 0.8,-0.8 0.7,-0.6 1,-0.8 0.8,-0.6 0.9,-0.5 0.9,-0.5 1.2,-0.5 1.2,-0.4 1,-0.3 1.2,-0.3 M237,477.6l1.3,-0.2 1.5,-0.1 1.5,-0.1 1.5,0.1 1.5,0.3 1,0.2 1,0.3 1.4,0.5 1.1,0.5 1,0.5 0.8,0.5 0.7,0.5 1,0.8 0.8,0.7 0.7,0.8 0.6,0.7 0.7,1 0.5,1 0.5,1 0.4,1 0.3,1.4 0.2,1.1 0,1.5 -0.1,1.5 -0.2,1 -0.4,1.4 -0.5,1.1 -0.5,1 -0.5,0.8 -0.5,0.7 -0.9,1 -0.6,0.6 -1,0.9 -0.6,0.5 -0.9,0.6 -1,0.6 -1,0.5 -1,0.4 -1.3,0.4 -1.2,0.3 -1,0.2 -1.5,0.2 -1.5,0.1 -1.5,-0.1 -1.5,-0.2 -1,-0.1 -1.4,-0.4 -1.1,-0.4 -1,-0.4 -1,-0.4 -1,-0.6 -1,-0.7 -0.7,-0.5 -0.8,-0.7 -0.8,-0.8 -0.7,-0.8 -0.6,-0.7 -0.6,-1 -0.5,-1 -0.5,-1 -0.3,-1.1 -0.3,-1.4 -0.1,-1.5 0,-1.5 0.3,-1.5 0.2,-1 0.4,-1 0.5,-1.1 0.5,-0.9 0.7,-1 0.8,-0.9 0.5,-0.6 1,-0.9 0.8,-0.6 0.7,-0.5 1,-0.6 1,-0.5 1,-0.4 1.3,-0.5 1.2,-0.3 0.7,-0.2 M237.2,478.1l1.1,-0.2 1.5,-0.1 1.5,0 1.5,0.1 1.4,0.2 1.1,0.2 1,0.3 1.2,0.5 1.1,0.5 0.9,0.5 0.8,0.5 1,0.7 0.9,0.8 0.6,0.6 0.8,0.9 0.7,0.9 0.5,0.8 0.5,1 0.5,1.2 0.3,1.1 0.2,1 0.1,1.5 0,1.5 -0.2,1 -0.4,1.5 -0.4,1 -0.5,1 -0.6,1 -0.5,0.7 -0.7,0.8 -0.8,0.8 -0.7,0.7 -0.8,0.6 -1,0.6 -1,0.6 -1,0.5 -1,0.4 -1,0.3 -1.5,0.4 -1,0.2 -1.5,0.1 -1.5,0 -1.5,-0.1 -1,-0.1 -1.5,-0.3 -1,-0.3 -1.2,-0.4 -1.1,-0.5 -1,-0.5 -0.8,-0.5 -0.9,-0.6 -1,-0.9 -0.6,-0.5 -0.9,-1 -0.5,-0.7 -0.5,-0.8 -0.6,-1 -0.4,-1 -0.5,-1.5 -0.2,-1 -0.1,-1.5 0,-1.5 0.3,-1.5 0.3,-1 0.3,-1 0.5,-1 0.6,-1 0.8,-1 0.5,-0.6 0.9,-0.9 0.6,-0.6 1,-0.7 1,-0.7 1,-0.5 1,-0.5 1,-0.4 1,-0.3 1.4,-0.3 M237.5,478.6l1.3,-0.2 1.5,-0.1 1.5,0 1.5,0.2 1,0.2 1.5,0.4 1,0.3 1,0.4 1,0.5 1,0.6 0.9,0.7 0.7,0.5 0.9,0.9 0.6,0.6 0.7,1 0.7,1 0.5,1 0.4,1 0.3,1 0.2,1.5 0.1,1.5 -0.1,1.5 -0.4,1.5 -0.4,1 -0.4,1 -0.6,1 -0.6,0.9 -0.5,0.6 -1,1 -0.6,0.5 -0.9,0.7 -1,0.7 -1,0.5 -1,0.5 -1,0.4 -1,0.3 -1.5,0.3 -1,0.2 -1.5,0.1 -1.5,0 -1.5,-0.2 -1,-0.1 -1.5,-0.4 -1,-0.3 -1,-0.4 -1,-0.5 -1,-0.6 -1,-0.7 -0.6,-0.5 -0.9,-0.8 -0.7,-0.7 -0.8,-1 -0.5,-0.8 -0.5,-0.9 -0.5,-1.2 -0.3,-1.1 -0.2,-1 -0.2,-1.5 0.1,-1.5 0.1,-1 0.4,-1.5 0.4,-1 0.5,-1 0.7,-1 0.5,-0.7 0.7,-0.8 0.8,-0.8 0.9,-0.7 0.7,-0.5 0.9,-0.6 1,-0.5 1,-0.5 1.2,-0.4 1.3,-0.4 0.7,-0.1 M238,479.1l1.3,-0.2 1.5,0 1.5,0.1 1.1,0.1 1.4,0.3 1,0.3 1.1,0.4 1.1,0.5 0.9,0.5 0.9,0.6 1,0.7 0.7,0.7 0.8,0.8 0.5,0.7 0.7,1 0.6,1 0.4,1 0.3,1.1 0.3,1.4 0,1.5 -0.1,1.5 -0.2,1 -0.5,1.3 -0.5,1.1 -0.5,0.8 -0.5,0.8 -0.9,1 -0.6,0.6 -1,0.9 -0.7,0.5 -0.8,0.5 -1,0.5 -1.1,0.5 -1.4,0.5 -1,0.2 -1.5,0.3 -1,0.1 -1.5,0 -1.5,-0.1 -1,-0.1 -1.5,-0.4 -1,-0.3 -1,-0.4 -1,-0.4 -1,-0.6 -1,-0.7 -0.8,-0.6 -0.7,-0.7 -0.8,-0.8 -0.7,-1 -0.5,-0.7 -0.5,-1 -0.5,-1.3 -0.3,-1 -0.2,-1.5 0,-1 0,-1 0.3,-1.5 0.3,-1 0.4,-1 0.6,-1 0.7,-1 0.7,-0.9 0.6,-0.6 0.9,-0.8 0.9,-0.7 0.8,-0.5 0.9,-0.5 1.1,-0.5 1.3,-0.5 1,-0.3 1.2,-0.2 M238.8,479.6l1.5,-0.1 1.5,0 1,0.1 1.5,0.3 1,0.3 1.2,0.4 1.1,0.5 0.9,0.5 0.8,0.5 1,0.8 0.8,0.7 0.7,0.8 0.6,0.7 0.6,1 0.5,1 0.4,1 0.4,1.5 0.1,1 0,1.5 -0.1,1 -0.4,1.5 -0.4,1 -0.5,1 -0.7,1 -0.5,0.6 -0.8,0.9 -0.7,0.6 -1,0.8 -0.9,0.6 -1,0.5 -1.1,0.5 -1,0.3 -1,0.3 -1.5,0.3 -1.5,0.1 -1,0 -1,0 -1.5,-0.3 -1.1,-0.2 -1.4,-0.4 -1,-0.5 -1,-0.5 -1,-0.6 -0.7,-0.5 -0.8,-0.6 -0.9,-0.9 -0.6,-0.7 -0.5,-0.8 -0.6,-1 -0.5,-1 -0.4,-1.3 -0.2,-1.2 -0.1,-1.5 0.1,-1.5 0.2,-1 0.5,-1.3 0.5,-1 0.5,-0.9 0.6,-0.8 0.9,-1 0.5,-0.5 1,-0.8 1,-0.7 1,-0.5 1,-0.5 1,-0.3 1,-0.3 1.5,-0.3 0.5,-0.1 M237,480.6l1.3,-0.3 1.5,-0.1 1.5,-0.1 1.5,0.2 1.5,0.3 1,0.3 1,0.3 1,0.5 1,0.6 1,0.6 0.8,0.7 0.7,0.7 0.7,0.8 0.7,1 0.5,1 0.4,1 0.3,1 0.2,1.5 0,1.5 -0.2,1.5 -0.3,1 -0.4,1 -0.6,1 -0.7,1 -0.6,0.7 -0.8,0.8 -0.7,0.6 -1,0.6 -1,0.6 -1,0.5 -1,0.3 -1.3,0.4 -1.2,0.2 -1.5,0.2 -1.5,-0.1 -1.5,-0.1 -1,-0.2 -1.5,-0.5 -1,-0.4 -1,-0.4 -1,-0.7 -0.8,-0.5 -0.7,-0.6 -0.9,-0.9 -0.6,-0.8 -0.5,-0.7 -0.6,-1 -0.4,-1.1 -0.4,-1.4 -0.1,-1 0,-1.5 0.1,-1 0.4,-1.5 0.4,-1 0.5,-1 0.6,-0.8 0.5,-0.7 1,-1 0.6,-0.5 0.9,-0.7 1,-0.6 1,-0.4 1,-0.4 1.2,-0.4 M238,481.1l1.3,-0.2 1.5,-0.1 1.5,0.1 1.1,0.2 1.4,0.3 1,0.4 1,0.4 1,0.6 1,0.7 0.7,0.6 0.8,0.8 0.6,0.7 0.7,1 0.5,1 0.3,1 0.4,1.5 0,1 0,1.1 -0.2,1.4 -0.4,1 -0.4,1 -0.6,1 -0.8,1 -0.6,0.6 -1,0.9 -0.7,0.5 -0.8,0.5 -1,0.5 -1.3,0.5 -1.2,0.3 -1,0.2 -1.5,0.2 -1.5,-0.1 -1.2,-0.1 -1.3,-0.3 -1,-0.2 -1.2,-0.5 -1,-0.5 -0.8,-0.5 -1,-0.7 -0.8,-0.8 -0.7,-0.7 -0.6,-0.8 -0.6,-1 -0.4,-1 -0.4,-1.2 -0.2,-1.3 0,-1.5 0.2,-1.4 0.3,-1.1 0.5,-1 0.6,-1 0.6,-0.9 0.6,-0.6 0.9,-0.9 0.9,-0.6 0.8,-0.5 0.9,-0.5 1.3,-0.5 1.1,-0.3 0.7,-0.2 M240.5,481.6l0.8,0 1.5,0.2 1.5,0.3 1,0.3 1,0.5 1,0.5 1,0.7 0.6,0.5 0.9,1 0.5,0.6 0.6,0.9 0.4,1 0.5,1.5 0.1,1 0,1.5 -0.1,1 -0.5,1.5 -0.5,1 -0.5,0.8 -0.6,0.7 -0.9,0.9 -0.7,0.6 -0.8,0.6 -1,0.5 -1,0.5 -1.4,0.4 -1.1,0.2 -1.5,0.2 -1.5,0 -1.5,-0.2 -1,-0.2 -1.3,-0.5 -1.1,-0.5 -0.9,-0.5 -0.7,-0.5 -1,-0.8 -0.6,-0.7 -0.8,-1 -0.6,-1 -0.4,-1 -0.3,-1 -0.2,-1.5 0.1,-1.5 0.3,-1.3 0.5,-1.2 0.5,-0.9 0.5,-0.7 0.7,-0.9 0.8,-0.7 1,-0.8 0.9,-0.5 1,-0.5 1.1,-0.4 1,-0.3 1.5,-0.2 1.2,-0.1 M238.7,482.6l1.1,-0.1 1.5,-0.1 1.4,0.2 1.1,0.2 1,0.4 1,0.4 1,0.6 1,0.7 0.8,0.7 0.7,0.8 0.5,0.8 0.5,0.9 0.5,1.5 0.2,1 0,1.5 -0.2,1 -0.5,1.4 -0.5,0.9 -0.5,0.8 -0.8,0.9 -0.7,0.6 -1,0.7 -1,0.6 -1,0.4 -1,0.4 -1.5,0.3 -1,0.1 -1.5,-0.1 -1,-0.1 -1.5,-0.3 -1,-0.4 -1,-0.5 -1,-0.6 -0.8,-0.6 -0.7,-0.6 -0.8,-0.9 -0.6,-1 -0.5,-1 -0.3,-1 -0.2,-1.5 0.1,-1.5 0.3,-1.2 0.5,-1.2 0.5,-0.9 0.6,-0.7 0.9,-1 0.7,-0.5 0.8,-0.6 1,-0.5 1,-0.4 1.5,-0.4 0.4,-0.1 M238.6,483.6l1.2,-0.2 1.5,0 1.5,0.2 1,0.2 1,0.4 1,0.5 1,0.7 0.8,0.7 0.7,0.7 0.5,0.8 0.5,1 0.5,1.5 0.1,1 -0.1,1.3 -0.3,1.2 -0.4,1 -0.7,1 -0.6,0.7 -0.8,0.8 -0.7,0.5 -1,0.6 -1,0.4 -1.5,0.4 -1,0.2 -1.5,0 -1.2,-0.1 -1.3,-0.3 -1,-0.3 -1,-0.5 -1,-0.6 -0.9,-0.8 -0.6,-0.6 -0.7,-0.9 -0.5,-1 -0.4,-1 -0.2,-1.5 0.1,-1.5 0.3,-1 0.4,-1 0.6,-1 0.9,-1 0.5,-0.5 1,-0.7 1,-0.6 1,-0.4 1.3,-0.3 M239.3,484.6l1,-0.1 1.5,0.1 1,0.1 1.2,0.4 1,0.5 0.8,0.5 1,0.9 0.5,0.6 0.7,1 0.4,1 0.2,1.5 -0.1,1.5 -0.4,1 -0.5,1 -0.8,1 -0.5,0.5 -1,0.7 -1,0.6 -1,0.3 -1.5,0.3 -1,0.1 -1,0 -1.5,-0.3 -1,-0.3 -1,-0.5 -1,-0.7 -0.7,-0.7 -0.8,-1 -0.5,-0.9 -0.4,-1.1 -0.1,-1 0,-1 0.4,-1.5 0.5,-1 0.6,-0.8 0.7,-0.7 0.8,-0.6 1,-0.6 1,-0.4 1.5,-0.4 M238.9,486.1l1.4,-0.2 1.5,0.1 1,0.2 1.1,0.4 0.9,0.6 1,0.9 0.5,0.7 0.5,1.1 0.2,1.2 -0.2,1.5 -0.4,1 -0.6,0.9 -0.6,0.6 -0.9,0.7 -1,0.4 -1.2,0.4 -1.3,0.1 -1.5,-0.1 -1,-0.3 -1,-0.4 -1,-0.7 -0.6,-0.6 -0.7,-1 -0.4,-1 -0.2,-1.5 0.3,-1.5 0.5,-1 0.6,-0.7 0.9,-0.8 0.8,-0.5 1.3,-0.5 0.1,0 M239.4,488.1l1.4,-0.2 1.2,0.2 1.1,0.5 0.7,0.6 0.6,0.9 0.2,1.5 -0.3,1.1 -0.7,0.9 -0.8,0.6 -1.2,0.4 -1.3,0.1 -1,-0.2 -1,-0.5 -0.9,-0.9 -0.5,-1 -0.1,-1 0.2,-1 0.7,-1 0.6,-0.5 1.1,-0.5" fill="none" stroke="#5a5eb0" stroke-width="0.55" opacity="0.9" stroke-linejoin="round"/>
<path d="M243.3,466.6l1,0 1,0.2 1,0.6 0.6,0.7 0.2,1.5 -0.6,1 -0.7,0.5 -1.5,0.5 -1,0 -1,-0.2 -1,-0.6 -0.6,-0.7 -0.2,-1.5 0.6,-1 0.7,-0.5 1.5,-0.5 M241.7,465.6l1.1,-0.3 1.5,0 1.5,0.3 1,0.4 0.9,0.6 0.6,0.7 0.5,1.1 0.1,1.2 -0.4,1 -0.7,0.9 -0.8,0.6 -1.1,0.5 -1.1,0.3 -1.5,0 -1.5,-0.3 -1,-0.4 -0.9,-0.6 -0.6,-0.7 -0.5,-1.1 -0.1,-1.2 0.4,-1 0.7,-0.9 0.8,-0.6 1.1,-0.5 M242.3,464.1l1.5,-0.1 1.5,0.1 1,0.2 1,0.4 1,0.5 1,0.9 0.5,0.6 0.5,0.9 0.3,1.5 -0.3,1.5 -0.5,0.9 -0.5,0.6 -1,0.9 -1,0.5 -1,0.4 -1,0.2 -1.5,0.1 -1.5,-0.1 -1,-0.2 -1,-0.4 -1,-0.5 -1,-0.9 -0.5,-0.6 -0.5,-0.9 -0.3,-1.5 0.3,-1.5 0.5,-0.9 0.5,-0.6 1,-0.9 1,-0.5 1,-0.4 1,-0.2 M240.8,463.1l1,-0.2 1.5,-0.2 1.5,0 1.5,0.3 1,0.2 1,0.4 1,0.6 1,0.7 0.7,0.7 0.7,1 0.4,1 0.2,1 0,1.2 -0.4,1.3 -0.5,1 -0.6,0.7 -0.9,0.8 -0.7,0.5 -1,0.5 -1.4,0.5 -1,0.2 -1.5,0.2 -1.5,0 -1.5,-0.3 -1,-0.2 -1,-0.4 -1,-0.6 -1,-0.7 -0.7,-0.7 -0.7,-1 -0.4,-1 -0.2,-1 0,-1.2 0.4,-1.3 0.5,-1 0.6,-0.7 0.9,-0.8 0.7,-0.5 1,-0.5 1.4,-0.5 M241.4,461.6l1.4,-0.2 1.5,0 1.5,0.1 1,0.2 1.3,0.4 1.2,0.5 1,0.5 0.7,0.5 0.8,0.7 0.8,0.8 0.7,1 0.4,1 0.3,1 0.1,1.5 -0.3,1.3 -0.5,1.1 -0.5,0.8 -0.7,0.8 -0.8,0.8 -1,0.7 -1,0.5 -1,0.4 -1,0.4 -1.1,0.2 -1.4,0.2 -1.5,0 -1.5,-0.1 -1,-0.2 -1.3,-0.4 -1.2,-0.5 -1,-0.5 -0.7,-0.5 -0.8,-0.7 -0.8,-0.8 -0.7,-1 -0.4,-1 -0.3,-1 -0.1,-1.5 0.3,-1.3 0.5,-1.1 0.5,-0.8 0.7,-0.8 0.8,-0.8 1,-0.7 1,-0.5 1,-0.4 1,-0.4 1.1,-0.2 M239.9,460.6l1.4,-0.3 1.5,-0.2 1.5,0 1.5,0.1 1.5,0.3 1,0.2 1,0.4 1.1,0.5 0.9,0.5 1,0.6 1,0.9 0.5,0.5 0.8,1 0.5,1 0.4,1 0.3,1.5 -0.1,1.5 -0.4,1.5 -0.4,1 -0.6,0.9 -0.5,0.6 -1,1 -0.7,0.5 -0.8,0.5 -1,0.6 -1,0.4 -1.5,0.5 -1,0.2 -1.5,0.2 -1.5,0.1 -1.5,-0.1 -1.5,-0.2 -1,-0.2 -1.5,-0.5 -1,-0.4 -1,-0.6 -0.8,-0.5 -0.7,-0.5 -1,-1 -0.5,-0.6 -0.6,-0.9 -0.4,-1 -0.4,-1.5 -0.1,-1.5 0.3,-1.5 0.4,-1 0.5,-1 0.8,-1 0.5,-0.5 1,-0.9 1,-0.6 0.9,-0.5 1.1,-0.5 1,-0.4 0.6,-0.1" fill="none" stroke="#5256ae" stroke-width="0.5" opacity="0.9" stroke-linejoin="round"/>
<path d="M290.1,452.6l1.2,-0.3 1.5,-0.2 1.5,0.1 1.5,0.4 1,0.4 0.8,0.6 0.7,0.6 0.7,0.9 0.4,1 0.1,1.5 -0.2,1 -0.5,1 -0.9,1 -0.6,0.6 -1,0.6 -1,0.5 -1,0.3 -1.5,0.2 -1.5,0 -1.4,-0.2 -1.1,-0.4 -1,-0.5 -0.8,-0.6 -0.7,-0.8 -0.5,-0.9 -0.3,-1.3 0.2,-1.5 0.4,-1 0.7,-0.9 0.6,-0.6 0.9,-0.7 1,-0.5 0.8,-0.3 M290.2,451.1l1.1,-0.2 1.5,-0.2 1.5,0.1 1.5,0.3 1,0.3 1,0.4 1,0.7 0.8,0.6 0.7,0.8 0.5,0.9 0.4,1.3 0.1,1 -0.1,1 -0.4,1.3 -0.5,0.9 -0.6,0.8 -0.9,0.8 -1,0.7 -0.8,0.5 -1.2,0.5 -1,0.3 -1,0.2 -1.5,0.2 -1.5,-0.1 -1,-0.1 -1.5,-0.4 -1,-0.5 -1,-0.6 -0.7,-0.5 -0.8,-0.9 -0.5,-0.8 -0.5,-1.3 -0.1,-1 0.1,-1.3 0.4,-1.2 0.6,-1 0.5,-0.6 0.9,-0.9 0.6,-0.5 1,-0.6 1,-0.4 1.4,-0.5 M290.5,449.6l1.3,-0.2 1.5,-0.1 1.5,0.1 1,0.2 1.5,0.4 1,0.4 1,0.5 1,0.7 0.6,0.5 0.9,1 0.5,0.7 0.5,1.1 0.3,1.2 0,1.5 -0.3,1.4 -0.5,1.1 -0.5,0.9 -0.5,0.6 -0.9,1 -0.7,0.5 -0.9,0.6 -1,0.6 -1,0.4 -1.1,0.4 -1.4,0.3 -1.3,0.2 -1.2,0.1 -1.2,-0.1 -1.3,-0.2 -1.3,-0.3 -1.2,-0.4 -1,-0.5 -0.9,-0.6 -0.6,-0.5 -1,-1 -0.5,-0.8 -0.5,-1 -0.4,-1.2 0,-1.5 0.2,-1.5 0.4,-1 0.6,-1 0.7,-0.9 0.6,-0.6 0.9,-0.7 1,-0.7 1,-0.5 1,-0.5 1,-0.3 1.2,-0.3 M291.1,448.1l1.2,-0.1 1.5,-0.1 1.5,0.2 1,0.1 1.5,0.4 1,0.3 1,0.5 1,0.6 0.9,0.6 0.6,0.5 0.9,1 0.6,0.8 0.5,0.9 0.4,1.3 0.2,1 0,1.5 -0.1,1 -0.5,1.4 -0.5,1 -0.5,0.7 -0.7,0.9 -0.8,0.8 -0.9,0.7 -0.7,0.5 -0.9,0.5 -1,0.5 -1.1,0.5 -1.4,0.4 -1,0.3 -1.5,0.2 -1.5,0.1 -1.5,-0.1 -1.5,-0.2 -1,-0.2 -1.5,-0.5 -1,-0.5 -1,-0.5 -0.7,-0.5 -0.8,-0.6 -0.9,-0.9 -0.6,-0.9 -0.5,-0.8 -0.5,-1.3 -0.2,-1 -0.1,-1.5 0.3,-1.4 0.4,-1.1 0.5,-1 0.6,-0.9 0.5,-0.7 0.9,-0.9 0.6,-0.5 1,-0.7 1,-0.6 1,-0.5 1,-0.4 1,-0.3 1.5,-0.4 0.8,-0.1" fill="none" stroke="#5a5eb0" stroke-width="0.6" opacity="0.9" stroke-linejoin="round"/>
<rect x="218.8" y="443.8" width="106.7" height="32.5" stroke="#000" stroke-width="1.1" fill="none"/>
<line x1="256.3" y1="443.8" x2="256.3" y2="476.3" stroke="#000" stroke-width="1.1"/>
<text x="197.1" y="529.5" font-size="15.5" font-weight="normal" text-anchor="start" fill="#1c1c1c" textLength="30" lengthAdjust="spacingAndGlyphs" transform="rotate(-90 197.1 529.5)" stroke="#1c1c1c" stroke-width="0.3">CD38</text>
<text x="218.6" y="555.6" font-size="15.5" font-weight="normal" text-anchor="start" fill="#1c1c1c" textLength="25.8" lengthAdjust="spacingAndGlyphs" stroke="#1c1c1c" stroke-width="0.3">IFN&#947;</text>
<rect x="389.3" y="410.6" width="116.5" height="117" stroke="#9a9a9a" stroke-width="1" fill="none"/>
<path d="M387.5,413.6h1.8M387.5,416.01h1.8M387.5,418.43h1.8M387.5,420.84h1.8M387.5,423.25h1.8M387.5,425.67h1.8M387.5,428.08h1.8M387.5,430.49h1.8M387.5,432.9h1.8M387.5,435.32h1.8M387.5,437.73h1.8M387.5,440.14h1.8M387.5,442.56h1.8M387.5,444.97h1.8M387.5,447.38h1.8M387.5,449.8h1.8M387.5,452.21h1.8M387.5,454.62h1.8M387.5,457.03h1.8M387.5,459.45h1.8M387.5,461.86h1.8M387.5,464.27h1.8M387.5,466.69h1.8M387.5,469.1h1.8M387.5,471.51h1.8M387.5,473.93h1.8M387.5,476.34h1.8M387.5,478.75h1.8M387.5,481.17h1.8M387.5,483.58h1.8M387.5,485.99h1.8M387.5,488.4h1.8M387.5,490.82h1.8M387.5,493.23h1.8M387.5,495.64h1.8M387.5,498.06h1.8M387.5,500.47h1.8M387.5,502.88h1.8M387.5,505.3h1.8M387.5,507.71h1.8M387.5,510.12h1.8M387.5,512.53h1.8M387.5,514.95h1.8M387.5,517.36h1.8M387.5,519.77h1.8M387.5,522.19h1.8M392.3,527.6v1.8M394.7,527.6v1.8M397.1,527.6v1.8M399.51,527.6v1.8M401.91,527.6v1.8M404.31,527.6v1.8M406.71,527.6v1.8M409.12,527.6v1.8M411.52,527.6v1.8M413.92,527.6v1.8M416.32,527.6v1.8M418.72,527.6v1.8M421.13,527.6v1.8M423.53,527.6v1.8M425.93,527.6v1.8M428.33,527.6v1.8M430.73,527.6v1.8M433.14,527.6v1.8M435.54,527.6v1.8M437.94,527.6v1.8M440.34,527.6v1.8M442.75,527.6v1.8M445.15,527.6v1.8M447.55,527.6v1.8M449.95,527.6v1.8M452.35,527.6v1.8M454.76,527.6v1.8M457.16,527.6v1.8M459.56,527.6v1.8M461.96,527.6v1.8M464.37,527.6v1.8M466.77,527.6v1.8M469.17,527.6v1.8M471.57,527.6v1.8M473.97,527.6v1.8M476.38,527.6v1.8M478.78,527.6v1.8M481.18,527.6v1.8M483.58,527.6v1.8M485.98,527.6v1.8M488.39,527.6v1.8M490.79,527.6v1.8M493.19,527.6v1.8M495.59,527.6v1.8M498,527.6v1.8M500.4,527.6v1.8" stroke="#8a8a8a" stroke-width="0.7"/>
<path d="M386.1,419.26h3.2M386.1,440.67h3.2M386.1,462.43h3.2M386.1,485.71h3.2M412.6,527.6v3.2M441.73,527.6v3.2M468.52,527.6v3.2M494.15,527.6v3.2" stroke="#333" stroke-width="0.9"/>
<line x1="399" y1="529.8" x2="405" y2="529.8" stroke="#2a2a2a" stroke-width="2.4" stroke-dasharray="0.9 0.8"/>
<line x1="416.7" y1="529.8" x2="424" y2="529.8" stroke="#2a2a2a" stroke-width="2.4" stroke-dasharray="0.9 0.8"/>
<line x1="438" y1="529.8" x2="443" y2="529.8" stroke="#2a2a2a" stroke-width="2.4" stroke-dasharray="0.9 0.8"/>
<line x1="455" y1="529.8" x2="469.5" y2="529.8" stroke="#2a2a2a" stroke-width="2.4" stroke-dasharray="0.9 0.8"/>
<line x1="479" y1="529.8" x2="488.7" y2="529.8" stroke="#2a2a2a" stroke-width="2.4" stroke-dasharray="0.9 0.8"/>
<line x1="387.1" y1="509" x2="387.1" y2="521" stroke="#2a2a2a" stroke-width="2.4" stroke-dasharray="0.9 0.8"/>
<line x1="380.3" y1="536.8" x2="380.3" y2="491.8" stroke="#000" stroke-width="1.6"/>
<line x1="379.5" y1="536.8" x2="426" y2="536.8" stroke="#000" stroke-width="1.6"/>
<path d="M380.3,487.8 L377.6,494 L383,494Z" fill="#000"/>
<path d="M430,536.8 L423.8,534.1 L423.8,539.5Z" fill="#000"/>
<path d="M410.3,458.6h0.9M436.9,452.4h0.9M409.1,455.5h0.9M430.7,463.7h0.9M410.4,446.9h0.9M433.5,459.3h0.9M443.4,462.9h0.9M455.8,454.0h0.9M415.6,448.0h0.9M428.3,460.8h0.9M438.2,457.5h0.9M403.5,460.9h0.9M408.0,454.8h0.9M407.3,456.0h0.9M415.7,457.5h0.9M464.6,455.7h0.9M435.1,446.7h0.9M421.5,460.6h0.9M426.2,449.0h0.9M431.8,450.3h0.9M447.5,452.5h0.9M433.2,456.0h0.9M436.4,451.8h0.9M437.0,455.1h0.9M440.2,460.4h0.9M426.7,450.5h0.9M434.2,459.3h0.9M444.7,453.4h0.9M431.7,459.6h0.9M427.2,451.8h0.9M412.8,453.2h0.9M432.1,466.6h0.9M436.7,463.4h0.9M434.3,460.9h0.9M427.2,461.4h0.9M446.3,453.7h0.9M416.7,469.7h0.9M427.9,462.8h0.9M435.5,448.0h0.9M454.2,468.4h0.9M427.1,461.3h0.9M426.5,449.8h0.9M438.4,461.0h0.9M425.7,465.5h0.9M415.9,461.6h0.9M438.3,454.0h0.9M403.5,449.7h0.9M443.6,449.0h0.9M425.0,460.5h0.9M423.1,439.4h0.9M434.7,472.2h0.9M437.1,449.6h0.9M454.9,460.3h0.9M426.4,466.9h0.9M424.0,469.0h0.9M416.8,452.7h0.9M433.7,466.0h0.9M432.8,458.1h0.9M403.1,451.0h0.9M417.7,452.3h0.9M432.0,453.7h0.9M434.5,456.6h0.9M430.1,462.0h0.9M408.6,467.2h0.9M442.4,454.7h0.9M419.3,447.3h0.9M451.2,457.7h0.9M415.7,438.9h0.9M441.9,457.3h0.9M405.7,457.3h0.9M405.7,480.4h0.9M438.4,460.0h0.9M422.9,441.0h0.9M423.5,445.1h0.9M432.2,441.0h0.9M414.1,464.5h0.9M444.7,447.7h0.9M406.6,462.2h0.9M435.2,449.1h0.9M416.7,451.1h0.9M410.7,451.2h0.9M440.0,460.8h0.9M449.7,455.4h0.9M423.4,449.1h0.9M423.5,446.8h0.9M403.7,460.9h0.9M442.3,461.9h0.9M441.0,457.8h0.9M416.4,456.6h0.9M420.5,448.2h0.9M404.7,445.6h0.9M419.3,466.0h0.9M427.1,460.1h0.9M439.6,450.3h0.9M401.4,461.3h0.9M416.7,465.2h0.9M429.1,463.0h0.9M434.2,441.4h0.9M433.6,451.3h0.9M415.9,453.0h0.9M434.2,462.2h0.9M437.1,444.4h0.9M417.9,439.4h0.9M423.8,460.2h0.9M415.8,457.7h0.9M427.8,463.1h0.9M415.1,450.2h0.9M415.8,468.3h0.9M438.1,455.1h0.9M421.0,447.2h0.9M417.3,467.6h0.9M429.2,451.5h0.9M416.0,450.5h0.9M413.0,448.6h0.9M435.7,439.5h0.9M421.8,451.7h0.9M417.6,456.7h0.9M438.5,456.5h0.9M423.3,451.7h0.9M423.5,462.4h0.9M420.3,448.0h0.9M409.8,448.3h0.9M408.3,463.7h0.9M442.5,451.4h0.9M434.0,461.6h0.9M406.4,445.1h0.9M413.9,462.3h0.9M440.6,447.4h0.9M437.6,453.3h0.9M420.3,452.1h0.9M421.1,443.3h0.9M413.0,447.4h0.9M430.9,470.6h0.9M457.8,453.6h0.9M404.3,453.2h0.9M413.7,469.9h0.9M431.9,450.9h0.9M436.2,459.8h0.9M405.5,452.3h0.9M427.3,451.9h0.9M414.2,466.6h0.9M405.9,454.8h0.9M434.8,447.0h0.9M438.2,453.3h0.9M427.6,464.4h0.9M420.2,467.0h0.9M415.6,449.5h0.9M433.5,448.5h0.9M420.6,462.3h0.9M439.5,443.6h0.9M431.1,469.2h0.9M439.3,454.3h0.9M417.8,453.9h0.9M411.2,454.1h0.9M439.2,454.4h0.9M407.5,463.4h0.9M412.1,452.9h0.9M413.0,454.3h0.9M451.2,451.8h0.9M423.4,463.9h0.9M433.9,461.3h0.9M435.3,442.2h0.9M414.6,456.9h0.9M431.0,465.1h0.9M428.0,460.7h0.9M420.9,450.3h0.9M414.7,463.7h0.9M440.4,462.9h0.9M435.3,461.8h0.9M425.0,460.6h0.9M412.4,454.6h0.9M416.2,461.1h0.9M429.8,465.5h0.9M415.5,449.4h0.9M434.8,448.3h0.9M430.4,452.0h0.9M423.7,443.3h0.9M433.6,452.5h0.9M414.2,470.5h0.9M433.5,480.6h0.9M426.3,467.2h0.9M431.2,449.6h0.9M410.1,462.1h0.9M433.0,456.5h0.9M414.1,442.0h0.9M404.8,455.6h0.9M406.7,455.8h0.9M411.3,453.3h0.9M428.2,460.3h0.9M444.6,438.0h0.9M452.3,462.5h0.9M405.2,458.8h0.9M418.8,463.0h0.9M412.3,455.3h0.9M418.0,443.1h0.9M430.5,463.0h0.9M424.2,448.9h0.9M427.4,460.0h0.9M441.9,448.2h0.9M418.3,442.7h0.9M472.4,462.2h0.9M457.1,481.4h0.9M457.5,449.9h0.9M471.1,453.8h0.9M453.4,451.0h0.9M450.8,455.2h0.9M460.2,482.9h0.9M469.5,463.8h0.9M453.9,450.9h0.9M448.2,455.1h0.9M457.9,481.2h0.9M469.4,463.4h0.9M447.0,456.0h0.9M475.7,469.0h0.9M447.4,462.0h0.9M455.3,476.2h0.9M465.4,475.0h0.9M444.8,474.7h0.9M477.2,462.4h0.9M473.6,471.5h0.9M439.4,461.0h0.9M472.6,461.8h0.9M446.9,468.0h0.9M477.8,463.5h0.9M470.8,474.9h0.9M460.4,452.9h0.9M448.5,457.6h0.9M458.1,486.1h0.9M472.2,455.5h0.9M468.3,470.0h0.9M447.3,460.3h0.9M457.5,448.5h0.9M462.1,453.4h0.9M444.3,444.0h0.9M457.6,445.8h0.9M471.4,473.1h0.9M460.7,475.3h0.9M456.1,451.6h0.9M449.9,473.8h0.9M474.5,454.5h0.9M473.6,457.0h0.9M464.0,475.9h0.9M469.4,461.4h0.9M444.5,459.7h0.9M456.6,446.7h0.9M467.8,469.6h0.9M466.2,474.2h0.9M460.5,477.2h0.9M444.5,462.0h0.9M469.7,461.4h0.9M455.7,451.5h0.9M463.5,453.3h0.9M466.8,452.3h0.9M466.4,449.3h0.9M469.0,460.8h0.9M445.6,461.9h0.9M456.6,439.3h0.9M452.5,484.2h0.9M466.7,471.4h0.9M442.9,455.0h0.9M459.2,476.5h0.9M464.3,475.7h0.9M456.9,480.5h0.9M438.8,457.9h0.9M476.5,469.8h0.9M454.3,487.9h0.9M448.1,474.1h0.9M455.5,453.2h0.9M441.5,444.7h0.9M466.0,474.9h0.9M472.8,463.9h0.9M466.4,451.6h0.9M468.2,460.9h0.9M466.3,476.4h0.9M445.6,466.4h0.9M450.2,473.2h0.9M437.7,468.8h0.9M463.6,453.6h0.9M482.7,465.4h0.9M448.8,471.2h0.9M452.5,452.5h0.9M463.6,454.6h0.9M446.5,463.0h0.9M459.6,449.0h0.9M447.9,471.1h0.9M472.0,462.2h0.9M452.1,454.5h0.9M451.6,473.5h0.9M443.9,463.0h0.9M463.0,454.0h0.9M465.4,475.2h0.9M466.0,473.6h0.9M454.7,449.0h0.9M464.3,482.0h0.9M447.0,458.1h0.9M449.2,480.0h0.9M473.3,479.0h0.9M469.4,476.8h0.9M479.0,450.4h0.9M462.5,453.9h0.9M468.7,474.2h0.9M453.9,480.4h0.9M458.6,474.2h0.9M476.9,462.3h0.9M451.8,452.3h0.9M450.1,471.1h0.9M468.5,461.1h0.9M449.3,455.2h0.9M458.7,450.5h0.9M432.2,466.1h0.9M466.3,450.4h0.9M442.1,456.8h0.9M442.2,471.0h0.9M455.4,446.8h0.9M456.8,453.1h0.9M469.7,467.8h0.9M475.7,452.8h0.9M449.9,449.9h0.9M445.3,470.7h0.9M460.3,476.8h0.9M445.2,483.4h0.9M476.0,506.4h0.9M471.0,504.5h0.9M463.3,493.9h0.9M463.3,504.1h0.9M461.5,497.8h0.9M476.1,480.5h0.9M456.2,500.8h0.9M460.6,492.1h0.9M481.9,499.0h0.9M459.2,507.2h0.9M485.7,480.7h0.9M457.0,495.4h0.9M457.3,520.1h0.9M467.7,489.2h0.9M467.4,484.4h0.9M457.6,495.3h0.9M484.5,467.0h0.9M466.8,510.2h0.9M469.7,517.1h0.9M467.1,495.8h0.9M461.8,483.7h0.9M477.7,479.8h0.9M461.9,487.7h0.9M455.9,467.3h0.9M459.6,495.6h0.9M464.3,504.1h0.9M461.5,486.3h0.9M465.8,502.0h0.9M454.9,475.8h0.9M453.8,506.7h0.9M472.0,483.4h0.9M464.0,504.1h0.9M475.0,486.1h0.9M460.8,510.9h0.9M484.7,512.4h0.9M452.7,499.4h0.9M460.3,493.3h0.9M457.0,488.2h0.9M462.9,515.6h0.9M469.3,499.1h0.9M463.2,485.0h0.9M460.9,508.9h0.9M470.5,517.6h0.9M465.3,493.8h0.9M448.4,498.8h0.9M447.5,512.3h0.9M457.3,494.0h0.9M450.8,488.0h0.9M454.6,507.6h0.9M465.2,479.8h0.9M445.6,493.2h0.9M458.6,480.7h0.9M468.3,491.8h0.9M464.0,486.9h0.9M457.9,488.5h0.9M448.6,501.6h0.9M466.6,473.3h0.9M463.9,507.9h0.9M465.1,509.6h0.9M460.6,494.0h0.9M451.3,483.1h0.9M446.6,483.3h0.9M465.2,500.2h0.9M473.5,495.6h0.9M454.1,499.2h0.9M461.7,515.4h0.9M480.6,505.5h0.9M452.8,487.7h0.9M464.7,485.5h0.9M467.7,502.2h0.9M470.5,496.7h0.9M455.0,483.9h0.9M461.9,509.9h0.9M477.2,505.7h0.9M466.3,502.1h0.9M470.4,509.5h0.9M470.7,475.6h0.9M471.6,498.6h0.9M458.9,500.3h0.9M465.6,493.4h0.9M447.8,495.3h0.9M468.0,493.4h0.9M448.7,499.5h0.9M469.5,496.2h0.9M466.8,489.8h0.9M457.1,500.3h0.9M459.8,496.2h0.9M492.3,502.5h0.9M464.2,474.5h0.9M463.9,503.1h0.9M456.7,491.1h0.9M442.7,500.7h0.9M457.6,502.2h0.9M475.3,492.1h0.9M471.9,497.0h0.9M461.2,490.6h0.9M455.3,509.4h0.9M470.9,481.9h0.9M470.6,485.2h0.9M449.5,508.4h0.9M451.5,508.2h0.9M464.8,504.8h0.9M467.6,507.9h0.9M466.1,500.9h0.9M465.2,507.1h0.9M459.5,506.2h0.9M476.6,493.2h0.9M467.0,487.8h0.9M460.4,497.1h0.9M459.9,483.4h0.9M462.7,496.3h0.9M465.9,502.5h0.9M447.0,511.0h0.9M461.5,484.7h0.9M459.7,499.3h0.9M470.8,489.6h0.9M464.4,474.9h0.9M464.5,492.7h0.9M459.1,504.6h0.9M479.1,506.4h0.9M456.0,512.3h0.9M460.0,493.5h0.9M457.8,499.5h0.9M468.0,495.7h0.9M461.1,492.3h0.9M459.4,505.7h0.9M458.3,492.2h0.9M461.1,485.0h0.9M461.0,476.4h0.9M466.7,500.5h0.9M460.3,512.6h0.9M455.6,500.6h0.9M467.3,487.6h0.9M460.8,504.7h0.9M463.6,497.4h0.9M475.5,496.6h0.9M448.0,485.2h0.9M470.5,492.5h0.9M453.3,470.4h0.9M465.9,511.9h0.9M451.8,468.1h0.9M467.5,487.5h0.9M460.4,490.1h0.9M454.9,499.3h0.9M471.2,498.4h0.9M458.0,506.4h0.9M462.0,500.9h0.9M454.6,501.8h0.9M469.7,509.4h0.9M463.3,499.3h0.9M457.9,504.5h0.9M469.9,506.9h0.9M459.6,479.5h0.9M462.4,491.5h0.9M456.4,501.2h0.9M471.5,498.7h0.9M472.9,498.7h0.9M454.3,487.1h0.9M459.9,502.2h0.9M471.2,495.6h0.9M472.0,484.3h0.9M462.0,511.8h0.9M467.0,506.4h0.9M446.2,474.2h0.9M455.3,505.9h0.9M477.5,486.7h0.9M454.3,482.0h0.9M455.1,500.6h0.9M460.2,516.3h0.9M469.4,485.9h0.9M465.1,492.2h0.9M470.0,504.8h0.9M459.9,504.6h0.9M468.1,493.0h0.9M465.3,502.1h0.9M460.2,486.1h0.9M474.3,494.1h0.9M457.8,499.5h0.9M450.0,494.7h0.9M451.0,489.0h0.9M447.2,485.6h0.9M471.0,491.9h0.9M452.3,514.5h0.9M457.5,511.5h0.9M458.4,476.8h0.9M479.4,489.0h0.9M469.8,508.1h0.9M451.4,494.9h0.9M458.0,501.2h0.9M462.9,479.2h0.9M463.6,503.1h0.9M460.4,500.7h0.9M458.3,493.5h0.9M466.1,495.8h0.9M474.3,505.2h0.9M470.5,502.6h0.9M464.4,480.4h0.9M472.4,514.5h0.9M465.0,491.1h0.9M462.7,508.3h0.9M465.6,482.5h0.9M461.5,485.1h0.9M461.3,483.6h0.9M455.4,511.5h0.9M472.3,475.2h0.9M454.4,488.8h0.9M459.6,477.8h0.9M470.9,475.2h0.9M469.2,502.3h0.9M459.8,486.4h0.9M463.6,495.8h0.9M444.6,479.4h0.9M467.7,492.8h0.9M459.4,482.4h0.9M456.9,485.1h0.9M487.6,479.4h0.9M476.6,499.7h0.9M464.9,496.4h0.9M459.7,513.0h0.9M467.6,493.8h0.9M462.0,496.4h0.9M453.0,490.4h0.9M457.6,501.4h0.9M468.4,472.2h0.9M461.1,505.7h0.9M451.7,480.2h0.9M471.9,492.6h0.9M459.1,479.8h0.9M464.6,487.6h0.9M464.9,499.1h0.9M469.3,490.3h0.9M458.5,494.4h0.9M462.2,496.1h0.9M458.4,491.3h0.9M457.9,487.2h0.9M464.5,507.6h0.9M458.4,500.9h0.9M466.1,495.4h0.9M469.0,487.6h0.9M468.0,497.6h0.9M432.3,498.3h0.9M468.4,517.0h0.9M453.7,495.2h0.9M466.2,482.7h0.9M473.6,499.4h0.9M456.1,480.0h0.9M459.4,522.0h0.9M482.1,465.0h0.9M447.0,501.9h0.9M462.1,486.6h0.9M468.4,495.2h0.9M465.6,497.2h0.9M453.5,509.6h0.9M459.0,507.4h0.9M469.2,494.5h0.9M464.3,493.5h0.9M446.8,490.3h0.9M466.9,475.1h0.9M449.9,506.8h0.9M470.2,475.9h0.9M467.1,493.5h0.9M471.7,490.3h0.9M461.1,485.2h0.9M464.7,492.6h0.9M457.3,490.0h0.9M456.4,501.4h0.9M453.9,475.7h0.9M454.5,506.9h0.9M458.6,501.7h0.9M469.6,488.1h0.9M469.7,500.0h0.9M462.7,485.7h0.9M462.5,478.9h0.9M460.6,487.2h0.9M466.9,498.1h0.9M457.4,504.3h0.9M473.6,494.8h0.9M456.5,500.0h0.9M441.4,487.2h0.9M468.2,517.7h0.9M456.5,512.1h0.9M483.7,516.4h0.9M442.1,507.1h0.9M464.7,506.1h0.9M461.5,486.8h0.9M461.0,511.9h0.9M470.5,490.6h0.9M466.4,504.3h0.9M468.1,493.6h0.9M457.2,485.2h0.9M459.2,487.5h0.9M449.0,477.3h0.9M470.8,480.7h0.9M451.3,493.5h0.9M475.9,509.0h0.9M459.4,481.7h0.9M458.2,483.2h0.9M458.1,499.8h0.9M453.5,484.7h0.9M424.0,455.7h0.9M406.0,501.6h0.9M454.9,512.7h0.9M400.4,481.5h0.9M408.0,502.6h0.9M406.5,472.9h0.9M462.0,503.1h0.9M396.3,487.7h0.9M421.6,510.6h0.9M421.5,509.8h0.9M397.2,498.7h0.9M438.2,469.4h0.9M449.8,502.5h0.9M452.8,472.7h0.9M462.3,483.2h0.9M413.6,452.3h0.9M435.1,521.4h0.9M452.9,491.0h0.9M453.3,480.8h0.9M449.3,467.4h0.9M416.7,516.0h0.9M411.6,472.1h0.9M449.5,504.7h0.9M411.9,469.9h0.9M399.2,488.7h0.9M450.8,495.2h0.9M399.7,473.3h0.9M459.4,505.0h0.9M399.1,480.7h0.9M411.3,460.3h0.9M415.4,514.2h0.9M400.0,479.6h0.9M403.1,484.0h0.9M446.2,504.5h0.9M413.6,466.4h0.9M394.3,477.8h0.9M418.5,508.8h0.9M451.1,474.0h0.9M420.8,509.8h0.9M443.5,472.1h0.9M411.7,468.0h0.9M456.1,497.5h0.9M430.9,515.5h0.9M451.1,505.5h0.9M460.2,477.5h0.9M455.5,481.0h0.9M446.5,468.8h0.9M394.6,485.4h0.9M449.5,468.6h0.9M437.0,460.0h0.9M429.9,511.4h0.9M426.5,511.3h0.9M393.5,505.9h0.9M460.9,471.0h0.9M434.6,510.5h0.9M456.5,482.5h0.9M410.9,510.1h0.9M422.9,514.5h0.9M436.6,460.4h0.9M438.6,513.4h0.9M450.7,480.4h0.9M397.9,489.2h0.9M426.5,512.5h0.9M397.8,479.8h0.9M421.0,509.2h0.9M456.1,485.5h0.9M428.4,513.5h0.9M405.3,473.3h0.9M455.8,508.6h0.9M429.2,457.0h0.9M433.1,467.0h0.9M399.0,477.7h0.9M415.2,464.6h0.9M412.9,510.8h0.9M452.6,493.6h0.9M407.9,468.7h0.9M395.4,493.1h0.9M451.6,482.6h0.9M412.4,517.7h0.9M432.0,510.5h0.9M405.5,502.4h0.9M407.5,505.3h0.9M422.1,462.3h0.9M392.0,481.3h0.9M394.1,509.7h0.9M436.7,511.7h0.9M438.0,469.9h0.9M422.6,462.1h0.9M398.1,477.3h0.9M448.4,470.4h0.9M438.1,469.0h0.9M447.0,511.8h0.9M446.8,473.8h0.9M450.3,496.9h0.9M404.6,514.2h0.9M406.4,475.9h0.9M433.9,466.2h0.9M444.1,473.4h0.9M456.6,465.7h0.9M398.9,478.8h0.9M410.8,512.7h0.9M395.0,493.4h0.9M393.2,489.7h0.9M403.2,475.4h0.9M450.2,499.2h0.9M402.8,493.1h0.9M418.1,465.0h0.9M454.9,508.8h0.9M425.7,466.8h0.9M454.1,482.8h0.9" stroke="#5a60c0" stroke-width="0.9" opacity="0.75"/>
<path d="M423.2,471.6l1.1,-0.1 1.5,-0.2 1.5,0 1.5,0 1.5,0.2 1.1,0.1 1.4,0.2 1.2,0.3 1.3,0.4 1,0.3 1,0.4 1.1,0.4 1,0.5 1,0.5 0.9,0.5 1,0.7 1,0.7 0.7,0.6 0.8,0.7 0.8,0.8 0.7,0.7 0.7,0.8 0.7,1 0.6,0.9 0.5,0.9 0.5,1 0.5,1.2 0.3,1 0.3,1 0.3,1.5 0.1,1.5 0,1.5 -0.2,1.5 -0.2,1.5 -0.3,1 -0.4,1 -0.4,1.1 -0.5,1 -0.5,0.9 -0.7,1 -0.7,1 -0.6,0.7 -0.8,0.8 -0.7,0.7 -0.9,0.8 -0.6,0.5 -1,0.7 -1,0.7 -1,0.5 -1,0.6 -1,0.4 -1,0.5 -1,0.3 -1,0.3 -1.5,0.4 -1,0.3 -1.5,0.2 -1,0.1 -1.5,0.2 -1.5,0 -1.5,0 -1.5,-0.2 -1,-0.1 -1.5,-0.2 -1,-0.3 -1.5,-0.4 -1,-0.3 -1,-0.3 -1,-0.5 -1,-0.4 -1,-0.6 -1,-0.5 -1,-0.7 -1,-0.7 -0.6,-0.5 -0.9,-0.8 -0.7,-0.7 -0.8,-0.8 -0.6,-0.7 -0.7,-1 -0.7,-1 -0.5,-0.9 -0.5,-1 -0.4,-1.1 -0.4,-1 -0.3,-1 -0.2,-1.5 -0.2,-1.5 0,-1.5 0.1,-1.5 0.3,-1.5 0.3,-1 0.3,-1 0.5,-1.2 0.5,-1 0.5,-0.9 0.6,-0.9 0.7,-1 0.7,-0.8 0.7,-0.7 0.8,-0.8 0.8,-0.7 0.7,-0.6 1,-0.7 1,-0.7 0.9,-0.5 1,-0.5 1,-0.5 1.1,-0.4 1,-0.4 1,-0.3 1.3,-0.4 1.2,-0.3 1.4,-0.2 M423.4,472.1l1.4,-0.2 1.5,-0.1 1.5,0 1.5,0.1 1.5,0.1 1,0.2 1.5,0.3 1,0.2 1.3,0.4 1.2,0.4 1,0.4 1,0.5 1,0.5 1,0.6 1,0.6 0.7,0.5 0.8,0.6 1,0.9 0.5,0.5 1,1 0.5,0.6 0.7,0.9 0.6,1 0.6,1 0.5,1 0.4,1 0.4,1 0.3,1.3 0.2,1.2 0.2,1.5 0,1.5 -0.2,1.5 -0.2,1.1 -0.4,1.4 -0.3,1 -0.4,1 -0.5,1 -0.6,1 -0.7,1 -0.6,0.8 -0.6,0.7 -0.9,0.9 -0.6,0.6 -0.9,0.8 -0.9,0.7 -0.8,0.5 -0.8,0.5 -1,0.6 -1,0.5 -1,0.5 -1.1,0.4 -1.4,0.5 -1,0.3 -1,0.2 -1.5,0.3 -1.3,0.2 -1.2,0.1 -1.5,0.1 -1.5,0 -1.5,-0.1 -1,-0.1 -1.5,-0.3 -1.1,-0.2 -1.4,-0.4 -1,-0.3 -1,-0.3 -1.2,-0.5 -1,-0.5 -1,-0.5 -0.8,-0.5 -1,-0.6 -1,-0.7 -0.8,-0.7 -0.7,-0.6 -0.9,-0.9 -0.6,-0.6 -0.7,-0.9 -0.7,-1 -0.6,-0.9 -0.5,-0.9 -0.5,-1 -0.5,-1.2 -0.3,-1 -0.2,-1 -0.3,-1.5 -0.1,-1.5 0.1,-1.5 0.1,-1.5 0.3,-1 0.4,-1.5 0.4,-1 0.4,-1 0.6,-1 0.6,-1 0.5,-0.7 0.6,-0.8 0.9,-1 0.5,-0.5 1,-1 0.7,-0.5 0.8,-0.6 1,-0.7 1,-0.6 1,-0.6 1,-0.4 1,-0.5 1,-0.4 1,-0.3 1.5,-0.4 1,-0.2 1.5,-0.3 0.1,0 M423.6,472.6l1.2,-0.1 1.5,-0.1 1.5,-0.1 1.5,0.1 1.5,0.2 1,0.1 1.5,0.3 1,0.3 1.1,0.3 1.4,0.5 1,0.4 1,0.5 1,0.5 0.9,0.6 0.8,0.5 0.8,0.6 1,0.8 0.7,0.6 0.8,0.8 0.6,0.7 0.8,1 0.6,0.8 0.5,0.8 0.5,0.9 0.5,1.1 0.5,1.4 0.3,1 0.2,1 0.2,1.5 0,1.5 -0.1,1.5 -0.1,1 -0.4,1.5 -0.3,1 -0.4,1 -0.5,1 -0.5,1 -0.7,1 -0.7,0.9 -0.5,0.6 -0.9,1 -0.6,0.6 -1,0.8 -0.7,0.6 -0.8,0.5 -1,0.7 -1,0.5 -1,0.5 -1,0.5 -1,0.4 -1.3,0.4 -1.2,0.4 -1,0.2 -1.5,0.3 -1.2,0.1 -1.3,0.1 -1.5,0.1 -1.5,-0.1 -1.3,-0.1 -1.2,-0.1 -1.5,-0.3 -1,-0.2 -1.2,-0.4 -1.3,-0.4 -1,-0.4 -1,-0.5 -1,-0.5 -1,-0.5 -1,-0.7 -0.8,-0.5 -0.7,-0.6 -1,-0.8 -0.6,-0.6 -0.9,-1 -0.5,-0.6 -0.7,-0.9 -0.7,-1 -0.5,-1 -0.5,-1 -0.4,-1 -0.3,-1 -0.4,-1.5 -0.1,-1 -0.1,-1.5 0,-1.5 0.2,-1.5 0.2,-1 0.3,-1 0.5,-1.4 0.5,-1.1 0.5,-0.9 0.5,-0.8 0.6,-0.8 0.8,-1 0.6,-0.7 0.8,-0.8 0.7,-0.6 1,-0.8 0.8,-0.6 0.8,-0.5 0.9,-0.6 1,-0.5 1,-0.5 1,-0.4 1.4,-0.5 1.1,-0.3 1,-0.3 1.5,-0.3 0.8,-0.1 M424.1,473.1l1.2,-0.1 1.5,-0.1 1.5,0 1.5,0.1 1,0.1 1.5,0.3 1,0.2 1.5,0.4 1,0.3 1,0.4 1,0.5 1,0.5 1,0.5 1,0.6 1,0.7 0.7,0.6 0.8,0.7 0.8,0.8 0.7,0.7 0.6,0.8 0.8,1 0.6,1 0.5,1 0.5,1 0.3,1 0.3,1 0.3,1.5 0.1,1 0.1,1.5 -0.1,1.2 -0.2,1.3 -0.3,1.3 -0.4,1.2 -0.4,1 -0.5,1 -0.6,1 -0.6,0.9 -0.5,0.7 -0.8,0.9 -0.7,0.7 -0.8,0.8 -0.7,0.6 -1,0.7 -1,0.7 -0.9,0.5 -0.9,0.5 -1.1,0.5 -1.1,0.5 -1,0.3 -1,0.3 -1.5,0.4 -1,0.2 -1.5,0.2 -1,0.1 -1.5,0.1 -1.5,0 -1.3,-0.1 -1.2,-0.1 -1.5,-0.3 -1,-0.2 -1.5,-0.4 -1,-0.3 -1,-0.4 -1,-0.5 -1,-0.4 -1,-0.6 -1,-0.6 -0.9,-0.7 -0.7,-0.5 -0.9,-0.8 -0.7,-0.7 -0.8,-0.8 -0.6,-0.7 -0.7,-1 -0.6,-1 -0.6,-1 -0.4,-1 -0.4,-1 -0.3,-1 -0.3,-1.5 -0.1,-1 -0.1,-1.5 0.1,-1.3 0.2,-1.2 0.3,-1.4 0.4,-1.1 0.4,-1 0.4,-1 0.6,-1 0.7,-1 0.5,-0.7 0.7,-0.8 0.8,-0.8 0.7,-0.7 0.8,-0.7 1,-0.7 0.9,-0.6 0.8,-0.5 0.9,-0.5 1,-0.5 1.2,-0.5 1.2,-0.4 1,-0.3 1,-0.3 1.5,-0.3 1.3,-0.2 M424.8,473.6l1,-0.1 1.5,0 1.5,0 1,0.1 1.5,0.2 1.5,0.3 1,0.2 1,0.3 1.3,0.5 1.2,0.5 1,0.5 1,0.5 0.8,0.5 0.7,0.5 1,0.7 0.9,0.8 0.6,0.6 0.9,0.9 0.6,0.7 0.6,0.8 0.6,1 0.6,1 0.4,1 0.4,1 0.4,1.4 0.2,1.1 0.2,1.5 0,1.5 -0.2,1.5 -0.2,1 -0.4,1.5 -0.4,1 -0.5,1 -0.5,1 -0.7,1 -0.5,0.7 -0.7,0.8 -0.8,0.8 -0.7,0.7 -0.8,0.7 -1,0.7 -0.9,0.6 -0.8,0.5 -0.9,0.5 -1.1,0.5 -1.2,0.5 -1.1,0.4 -1,0.3 -1.4,0.3 -1.1,0.2 -1.5,0.2 -1.3,0.1 -1.2,0 -1.2,0 -1.3,-0.1 -1.5,-0.2 -1.1,-0.2 -1.4,-0.3 -1,-0.3 -1.1,-0.4 -1.2,-0.5 -1.1,-0.5 -0.9,-0.5 -0.8,-0.5 -0.9,-0.6 -1,-0.7 -0.8,-0.7 -0.7,-0.7 -0.8,-0.8 -0.7,-0.8 -0.5,-0.7 -0.7,-1 -0.5,-1 -0.5,-1 -0.4,-1 -0.4,-1.5 -0.2,-1 -0.2,-1.5 0,-1.5 0.2,-1.5 0.2,-1.1 0.4,-1.4 0.4,-1 0.4,-1 0.6,-1 0.6,-1 0.6,-0.8 0.6,-0.7 0.9,-0.9 0.6,-0.6 0.9,-0.8 1,-0.7 0.7,-0.5 0.8,-0.5 1,-0.5 1,-0.5 1.2,-0.5 1.3,-0.5 1,-0.3 1,-0.2 1.5,-0.3 1.5,-0.2 M426.1,474.1l1.2,0 1.2,0 1.3,0.1 1.5,0.2 1,0.2 1.5,0.4 1,0.3 1,0.3 1.1,0.5 1.1,0.5 0.9,0.5 0.9,0.6 1,0.7 0.9,0.7 0.6,0.5 1,1 0.5,0.6 0.7,0.9 0.7,1 0.6,1 0.5,1 0.4,1 0.3,1 0.3,1.5 0.1,1 0.1,1.5 -0.2,1.5 -0.1,1 -0.4,1.5 -0.4,1 -0.4,1 -0.6,1 -0.6,1 -0.5,0.7 -0.7,0.8 -0.8,0.9 -0.6,0.6 -0.9,0.7 -1,0.8 -0.8,0.5 -0.8,0.5 -0.9,0.5 -1.1,0.5 -1.2,0.5 -1.2,0.4 -1,0.3 -1.4,0.3 -1.1,0.2 -1.5,0.2 -1.5,0 -1.5,0 -1.5,-0.1 -1.5,-0.2 -1,-0.2 -1.5,-0.4 -1,-0.3 -1,-0.3 -1,-0.4 -1,-0.5 -1,-0.6 -1,-0.6 -1,-0.7 -0.8,-0.6 -0.7,-0.6 -0.9,-0.9 -0.6,-0.7 -0.7,-0.8 -0.6,-1 -0.6,-1 -0.5,-1 -0.4,-1 -0.3,-1 -0.4,-1.5 -0.1,-1 -0.1,-1.5 0.1,-1.5 0.2,-1 0.4,-1.5 0.3,-1 0.5,-1 0.5,-1 0.6,-1 0.6,-0.8 0.6,-0.7 0.9,-1 0.5,-0.5 1,-0.8 0.9,-0.7 0.7,-0.5 0.9,-0.5 1,-0.6 1,-0.5 1.1,-0.4 1.4,-0.5 1,-0.3 1,-0.2 1.5,-0.3 1.5,-0.2 0.8,0 M423,475.1l1.3,-0.2 1.5,-0.2 1.5,0 1.5,0 1.5,0.2 1.3,0.2 1.2,0.2 1,0.3 1.4,0.5 1.1,0.4 1,0.5 1,0.5 0.9,0.6 0.8,0.5 0.8,0.6 1,0.9 0.5,0.5 0.9,1 0.6,0.7 0.6,0.8 0.6,1 0.5,1 0.4,1 0.4,1.4 0.2,1.1 0.2,1.5 0,1.5 -0.2,1.5 -0.2,1 -0.5,1.5 -0.4,1 -0.5,1 -0.6,1 -0.5,0.7 -0.6,0.8 -0.9,0.9 -0.6,0.6 -0.9,0.8 -1,0.7 -0.7,0.5 -0.8,0.5 -1,0.5 -1.1,0.5 -1.2,0.5 -1.2,0.4 -1,0.3 -1.5,0.3 -1,0.1 -1.5,0.2 -1.5,0 -1.5,0 -1.5,-0.2 -1,-0.1 -1.5,-0.3 -1,-0.3 -1.2,-0.4 -1.2,-0.5 -1.1,-0.5 -1,-0.5 -0.8,-0.5 -0.7,-0.5 -1,-0.7 -0.9,-0.8 -0.6,-0.6 -0.9,-0.9 -0.6,-0.8 -0.5,-0.7 -0.6,-1 -0.5,-1 -0.4,-1 -0.5,-1.5 -0.2,-1 -0.2,-1.5 0,-1.5 0.2,-1.5 0.2,-1.1 0.4,-1.4 0.4,-1 0.5,-1 0.6,-1 0.6,-0.8 0.6,-0.7 0.9,-1 0.5,-0.5 1,-0.9 0.8,-0.6 0.8,-0.5 0.9,-0.6 1,-0.5 1,-0.5 1.1,-0.4 1.4,-0.5 1,-0.3 1.2,-0.2 M423.9,475.6l1.4,-0.2 1.5,-0.1 1.5,0.1 1.5,0.1 1,0.1 1.5,0.3 1,0.3 1.4,0.4 1.1,0.4 1,0.5 1,0.5 0.9,0.6 0.8,0.5 0.8,0.6 1,0.9 0.5,0.5 0.9,1 0.6,0.8 0.5,0.7 0.6,1 0.4,1 0.5,1.2 0.3,1.3 0.2,1 0.1,1.5 0,1.5 -0.2,1 -0.3,1.5 -0.4,1 -0.4,1 -0.6,1 -0.6,1 -0.6,0.8 -0.6,0.7 -0.9,0.9 -0.7,0.6 -0.8,0.7 -1,0.7 -1,0.6 -1,0.5 -1,0.5 -1,0.4 -1,0.3 -1.1,0.3 -1.4,0.3 -1.4,0.2 -1.1,0.1 -1.5,0.1 -1.5,-0.1 -1.1,-0.1 -1.4,-0.2 -1.4,-0.3 -1.1,-0.3 -1,-0.3 -1,-0.4 -1,-0.5 -1,-0.5 -1,-0.6 -1,-0.7 -0.8,-0.7 -0.7,-0.6 -0.9,-0.9 -0.6,-0.7 -0.6,-0.8 -0.6,-1 -0.6,-1 -0.4,-1 -0.4,-1 -0.3,-1.5 -0.2,-1 0,-1.5 0.1,-1.5 0.2,-1 0.3,-1.3 0.5,-1.2 0.4,-1 0.6,-1 0.5,-0.7 0.6,-0.8 0.9,-1 0.5,-0.5 1,-0.9 0.8,-0.6 0.8,-0.5 0.9,-0.6 1,-0.5 1,-0.5 1.1,-0.4 1.4,-0.4 1,-0.3 1.5,-0.3 0.1,0 M425.6,476.1l1.2,-0.1 1.5,0.1 1,0 1.5,0.2 1.4,0.3 1.1,0.3 1,0.3 1,0.4 1.1,0.5 0.9,0.5 1,0.6 1,0.7 0.9,0.7 0.6,0.6 0.9,0.9 0.6,0.8 0.5,0.7 0.7,1 0.5,1 0.4,1 0.4,1.5 0.2,1 0.1,1.5 -0.1,1.5 -0.2,1.4 -0.3,1.1 -0.4,1 -0.4,1 -0.6,1 -0.7,1 -0.6,0.8 -0.7,0.7 -0.8,0.8 -0.9,0.7 -0.6,0.5 -1,0.6 -1,0.6 -1,0.5 -1,0.4 -1.2,0.4 -1.3,0.4 -1,0.2 -1.5,0.2 -1.5,0.1 -1.5,0.1 -1.5,-0.1 -1.5,-0.2 -1,-0.2 -1.5,-0.4 -1,-0.3 -1,-0.4 -1,-0.5 -1,-0.5 -1,-0.6 -1,-0.7 -0.8,-0.6 -0.7,-0.7 -0.8,-0.8 -0.7,-0.9 -0.5,-0.6 -0.6,-1 -0.5,-1 -0.4,-1 -0.5,-1.5 -0.2,-1 -0.1,-1.5 0.1,-1.5 0.2,-1.5 0.3,-1 0.3,-1 0.5,-1 0.5,-1 0.7,-1 0.7,-0.9 0.6,-0.6 0.9,-0.9 0.7,-0.6 0.8,-0.6 1,-0.6 1,-0.6 1,-0.5 1,-0.4 1,-0.3 1.5,-0.5 1,-0.2 1.5,-0.2 0.8,-0.1 M423.6,477.1l1.2,-0.2 1.5,-0.1 1.5,0 1.5,0.1 1.5,0.2 1,0.2 1.3,0.3 1.2,0.4 1,0.4 1,0.5 1,0.6 1,0.6 0.6,0.5 0.9,0.7 0.8,0.8 0.7,0.8 0.5,0.7 0.7,1 0.5,1 0.4,1 0.4,1.1 0.3,1.4 0.1,1.5 -0.1,1.5 -0.2,1.5 -0.3,1 -0.4,1 -0.5,1 -0.6,1 -0.7,1 -0.6,0.7 -0.8,0.8 -0.7,0.6 -1,0.8 -1,0.6 -0.8,0.5 -1,0.5 -1.2,0.5 -1,0.3 -1,0.3 -1.5,0.3 -1,0.2 -1.5,0.1 -1.5,0 -1.5,-0.1 -1.1,-0.1 -1.4,-0.3 -1,-0.2 -1.4,-0.5 -1.1,-0.4 -1,-0.5 -1,-0.6 -0.8,-0.5 -0.7,-0.5 -1,-0.8 -0.7,-0.7 -0.8,-0.9 -0.5,-0.7 -0.6,-0.9 -0.6,-1 -0.4,-1 -0.4,-1.2 -0.3,-1.3 -0.1,-1.5 0,-1.5 0.3,-1.5 0.3,-1 0.4,-1 0.4,-1 0.6,-1 0.8,-1 0.6,-0.8 0.7,-0.7 0.8,-0.7 1,-0.8 0.8,-0.5 0.8,-0.5 1,-0.5 1.2,-0.5 1.2,-0.4 1,-0.3 1.3,-0.3 M425.8,477.6l1,-0.1 1.5,0.1 1,0 1.5,0.3 1.1,0.2 1.4,0.4 1,0.4 1,0.4 1,0.5 1,0.7 0.9,0.6 0.6,0.5 1,0.9 0.5,0.6 0.8,1 0.6,1 0.5,1 0.4,1 0.3,1 0.3,1.5 0.1,1.5 -0.2,1.5 -0.3,1.4 -0.4,1.1 -0.4,1 -0.6,1 -0.6,0.8 -0.6,0.7 -0.9,1 -0.6,0.5 -0.9,0.7 -1,0.7 -1,0.5 -1,0.5 -1,0.4 -1,0.4 -1.3,0.3 -1.2,0.2 -1.5,0.2 -1.5,0.1 -1.5,-0.1 -1.5,-0.2 -1.2,-0.2 -1.3,-0.3 -1,-0.4 -1,-0.4 -1,-0.5 -1,-0.5 -1,-0.7 -0.9,-0.7 -0.6,-0.5 -0.9,-1 -0.6,-0.7 -0.6,-0.8 -0.6,-1 -0.4,-1 -0.4,-1.1 -0.3,-1.4 -0.2,-1.5 0.1,-1.5 0.3,-1.5 0.3,-1 0.4,-1 0.5,-1 0.6,-1 0.8,-1 0.5,-0.6 1,-0.9 0.6,-0.5 0.9,-0.6 1,-0.7 1,-0.5 1,-0.4 1,-0.4 1.4,-0.4 1.1,-0.2 1.5,-0.3 0.5,0 M424.5,478.6l1.3,-0.2 1.5,0 1.5,0 1.3,0.2 1.2,0.2 1,0.3 1.5,0.5 1,0.4 1,0.6 0.9,0.5 0.7,0.5 0.9,0.8 0.8,0.7 0.7,0.9 0.5,0.6 0.6,1 0.5,1 0.4,1.1 0.3,1.4 0.2,1.5 -0.1,1.5 -0.3,1.5 -0.3,1 -0.5,1 -0.6,1 -0.7,1 -0.5,0.6 -0.9,0.9 -0.6,0.6 -1,0.7 -1,0.6 -1,0.6 -1,0.4 -1,0.4 -1,0.3 -1.5,0.3 -1,0.1 -1.5,0.1 -1.5,0 -1.1,-0.1 -1.4,-0.2 -1.2,-0.3 -1.3,-0.4 -1,-0.4 -1,-0.5 -1,-0.6 -0.9,-0.6 -0.7,-0.5 -0.9,-0.8 -0.6,-0.7 -0.8,-1 -0.6,-0.9 -0.5,-1 -0.4,-1.1 -0.3,-1 -0.2,-1.5 -0.1,-1.5 0.3,-1.5 0.2,-1 0.5,-1.2 0.5,-1 0.5,-0.8 0.8,-1 0.7,-0.8 0.8,-0.7 0.7,-0.5 1,-0.7 1,-0.6 1,-0.5 1,-0.4 1,-0.3 1.5,-0.4 0.7,-0.1 M424.1,479.6l1.2,-0.2 1.5,-0.1 1.5,0 1.5,0.2 1,0.2 1.5,0.4 1,0.3 1,0.5 1,0.5 1,0.6 0.7,0.6 0.8,0.7 0.8,0.8 0.7,0.9 0.5,0.8 0.5,1 0.5,1.3 0.2,1 0.2,1.5 -0.1,1.5 -0.3,1.4 -0.4,1.1 -0.5,1 -0.6,1 -0.5,0.6 -0.8,0.9 -0.7,0.7 -1,0.8 -0.8,0.5 -0.9,0.5 -1.1,0.5 -1.2,0.4 -1,0.3 -1.3,0.3 -1.2,0.1 -1.5,0.1 -1.5,-0.1 -1.2,-0.1 -1.3,-0.3 -1,-0.3 -1.2,-0.4 -1.1,-0.5 -0.9,-0.5 -0.8,-0.5 -1,-0.8 -0.7,-0.7 -0.8,-0.9 -0.5,-0.6 -0.6,-1 -0.5,-1 -0.4,-1.1 -0.3,-1.4 -0.1,-1.5 0.2,-1.5 0.2,-1 0.5,-1.3 0.5,-1 0.5,-0.8 0.7,-0.9 0.8,-0.8 0.8,-0.7 0.7,-0.6 1,-0.6 1,-0.5 1,-0.5 1,-0.3 1.5,-0.4 0.3,-0.1 M424.3,480.6l1,-0.2 1.5,-0.1 1.5,0 1.5,0.2 1,0.2 1.4,0.4 1.1,0.4 1,0.5 0.9,0.6 0.7,0.5 0.9,0.8 0.7,0.7 0.8,1 0.5,0.8 0.5,1 0.4,1.2 0.2,1 0.1,1.5 -0.2,1.4 -0.3,1.1 -0.4,1 -0.5,1 -0.7,1 -0.6,0.6 -0.9,0.9 -0.6,0.5 -1,0.7 -1,0.5 -1,0.5 -1,0.3 -1.5,0.4 -1,0.2 -1.5,0.1 -1.5,0 -1.5,-0.2 -1,-0.2 -1.1,-0.3 -1.3,-0.5 -1,-0.5 -0.9,-0.5 -0.7,-0.5 -1,-0.9 -0.6,-0.6 -0.8,-1 -0.6,-0.9 -0.5,-1 -0.4,-1.1 -0.2,-1 -0.1,-1.5 0.2,-1.5 0.3,-1 0.3,-1 0.6,-1 0.7,-1 0.6,-0.7 0.8,-0.8 0.7,-0.6 1,-0.7 1,-0.5 1,-0.5 1,-0.3 1.5,-0.4 M425.2,481.6l1.1,-0.1 1.5,-0.1 1.5,0.2 1,0.2 1.2,0.3 1.3,0.5 0.9,0.5 0.8,0.5 0.8,0.6 1,0.9 0.5,0.6 0.6,0.9 0.5,1 0.4,1.1 0.3,1.4 0,1.5 -0.3,1.3 -0.4,1.2 -0.6,1 -0.5,0.8 -0.6,0.7 -0.9,0.8 -0.9,0.7 -0.8,0.5 -1.1,0.5 -1.2,0.5 -1,0.2 -1.5,0.3 -1,0.1 -1.5,-0.1 -1,-0.1 -1.5,-0.3 -1,-0.3 -1,-0.4 -1,-0.5 -1,-0.7 -0.9,-0.7 -0.6,-0.6 -0.7,-0.9 -0.6,-1 -0.5,-1 -0.3,-1 -0.2,-1.5 0.1,-1.5 0.2,-1 0.5,-1.2 0.5,-0.9 0.6,-0.9 0.9,-1 0.6,-0.5 0.9,-0.7 1,-0.5 1,-0.5 1,-0.4 1.5,-0.3 0.4,-0.1 M424.5,483.1l1.3,-0.2 1.5,-0.1 1.5,0.1 1.3,0.2 1.2,0.4 1,0.4 1,0.6 0.8,0.6 0.7,0.6 0.8,0.9 0.6,1 0.4,1 0.3,1 0.1,1.5 -0.2,1.2 -0.4,1.3 -0.6,1 -0.5,0.7 -0.7,0.8 -0.8,0.7 -1,0.6 -1,0.5 -1,0.4 -1.2,0.3 -1.3,0.2 -1.5,0 -1.5,-0.1 -1,-0.3 -1,-0.3 -1.2,-0.5 -0.8,-0.5 -1,-0.7 -0.8,-0.8 -0.7,-1 -0.5,-0.8 -0.4,-1.2 -0.2,-1 0,-1.5 0.1,-1 0.5,-1.3 0.5,-0.8 0.6,-0.9 0.9,-0.9 0.8,-0.6 0.9,-0.5 1,-0.5 1.3,-0.4 0.2,-0.1 M425.6,484.6l1.2,-0.1 1.5,0 1,0.2 1.4,0.4 1,0.5 0.8,0.5 0.8,0.7 0.6,0.8 0.6,1 0.3,1 0.2,1.5 -0.2,1 -0.5,1.3 -0.5,0.8 -0.9,0.9 -0.6,0.5 -1,0.6 -1,0.5 -1.5,0.3 -1,0.1 -1.5,0 -1,-0.2 -1.1,-0.3 -1.1,-0.5 -0.8,-0.5 -1,-0.8 -0.6,-0.7 -0.5,-1 -0.4,-1 -0.2,-1.5 0.2,-1.1 0.5,-1.3 0.5,-0.8 0.7,-0.8 0.8,-0.6 1,-0.6 1,-0.5 1.3,-0.3 M426.1,487.1l1.2,-0.1 1.2,0.1 1.3,0.5 0.8,0.5 0.7,0.8 0.5,1.1 0.1,1.1 -0.3,1 -0.6,1 -0.7,0.6 -1,0.5 -1.4,0.4 -1.1,0 -1,-0.2 -1,-0.4 -1,-0.7 -0.6,-0.7 -0.4,-1 0,-1.5 0.4,-1 0.6,-0.8 1,-0.7 1,-0.4 0.3,-0.1" fill="none" stroke="#5a5eb0" stroke-width="0.55" opacity="0.9" stroke-linejoin="round"/>
<clipPath id="cf1"><rect x="380" y="440" width="64" height="37"/></clipPath>
<g clip-path="url(#cf1)">
<path d="M421.7,470.1l1.1,-0.3 1.5,-0.2 1.5,0 1.5,0.2 1,0.3 1.4,0.5 1,0.5 0.7,0.5 0.9,0.7 0.8,0.8 0.7,1 0.5,0.9 0.4,1.1 0.2,1 0,1.5 -0.1,1 -0.5,1.4 -0.5,0.9 -0.5,0.7 -0.9,1 -0.6,0.5 -1,0.7 -1,0.5 -1,0.5 -1.2,0.3 -1.3,0.2 -1.5,0.1 -1.5,-0.1 -1,-0.2 -1.5,-0.5 -1,-0.5 -0.9,-0.5 -0.7,-0.5 -0.9,-0.8 -0.6,-0.7 -0.7,-1 -0.5,-1 -0.3,-1 -0.2,-1.5 0.2,-1.5 0.3,-1 0.4,-1 0.6,-1 0.8,-0.9 0.6,-0.6 0.9,-0.7 1,-0.5 1,-0.5 0.9,-0.3 M422.4,468.6l1.4,-0.2 1.5,-0.1 1.5,0.2 1,0.1 1.5,0.5 1,0.3 1,0.5 1,0.7 0.7,0.5 0.8,0.7 0.7,0.8 0.7,1 0.5,1 0.4,1 0.2,1 0.2,1.5 -0.2,1.5 -0.3,1 -0.4,1 -0.5,1 -0.8,1 -0.5,0.6 -1,0.9 -0.7,0.5 -0.9,0.5 -1,0.5 -1.4,0.5 -1,0.3 -1.5,0.2 -1,0.1 -1.5,-0.1 -1,-0.1 -1.5,-0.4 -1,-0.3 -1,-0.4 -1,-0.6 -1,-0.6 -0.7,-0.6 -0.8,-0.8 -0.5,-0.7 -0.7,-1 -0.5,-1 -0.3,-1 -0.2,-1.5 0,-1.5 0.2,-1.1 0.5,-1.4 0.5,-1 0.5,-0.7 0.6,-0.8 0.9,-0.8 0.8,-0.7 0.8,-0.5 1,-0.5 1.2,-0.5 1.2,-0.4 0.6,-0.1 M424.2,467.1l1.1,0 1,0 1.5,0.2 1.2,0.3 1.3,0.4 1,0.4 1,0.6 1,0.6 0.7,0.5 0.8,0.7 0.7,0.8 0.8,1 0.5,0.9 0.5,1 0.4,1.1 0.2,1 0.1,1.5 -0.2,1.5 -0.2,1 -0.4,1 -0.4,1 -0.7,1 -0.8,1 -0.5,0.6 -1,0.8 -0.8,0.6 -0.8,0.5 -1,0.5 -1.3,0.5 -1.1,0.3 -1,0.3 -1.5,0.2 -1.5,0 -1.5,-0.1 -1.4,-0.2 -1.1,-0.3 -1,-0.3 -1,-0.4 -1,-0.5 -1,-0.6 -1,-0.8 -0.7,-0.6 -0.8,-0.9 -0.5,-0.7 -0.6,-0.9 -0.4,-1 -0.5,-1.4 -0.2,-1.1 -0.1,-1.5 0.2,-1.5 0.3,-1 0.4,-1 0.5,-1 0.7,-1 0.7,-0.8 0.7,-0.7 0.8,-0.7 1,-0.7 1,-0.6 1,-0.4 1,-0.4 1,-0.3 1.5,-0.3 1.4,-0.1 M421.9,466.1l1.4,-0.2 1.5,-0.1 1.5,0.1 1.5,0.1 1,0.2 1.3,0.4 1.2,0.4 1,0.5 1,0.5 0.9,0.6 0.7,0.5 0.9,0.8 0.7,0.7 0.8,1 0.5,0.7 0.5,0.9 0.5,1.1 0.4,1.3 0.2,1 0.1,1.5 -0.1,1.5 -0.3,1 -0.3,1.1 -0.5,1.1 -0.5,0.9 -0.6,0.9 -0.9,1 -0.5,0.5 -1,0.9 -0.9,0.6 -0.8,0.5 -0.9,0.5 -1.2,0.5 -1.2,0.4 -1,0.3 -1.5,0.2 -1,0.1 -1.5,0.1 -1.5,-0.1 -1,-0.1 -1.5,-0.3 -1,-0.3 -1,-0.4 -1,-0.4 -1,-0.6 -1,-0.6 -1,-0.7 -0.6,-0.6 -0.9,-0.9 -0.5,-0.6 -0.7,-1 -0.5,-1 -0.4,-1 -0.4,-1.2 -0.2,-1.3 -0.1,-1.5 0.2,-1.5 0.2,-1 0.4,-1 0.5,-1.1 0.5,-0.9 0.8,-1 0.7,-0.8 0.7,-0.7 0.8,-0.7 1,-0.6 1,-0.6 1,-0.5 1,-0.4 1,-0.3 1.5,-0.4 0.1,0 M423.5,464.6l1.3,-0.1 1.5,0.1 1,0.1 1.5,0.2 1,0.3 1.4,0.4 1.1,0.4 1,0.5 1,0.5 0.9,0.6 0.6,0.5 1,0.8 0.7,0.7 0.8,0.9 0.5,0.7 0.6,0.9 0.5,1 0.4,1 0.4,1.5 0.2,1 0.1,1.5 -0.1,1.5 -0.2,1 -0.4,1.3 -0.5,1.2 -0.5,0.9 -0.5,0.8 -0.6,0.8 -0.9,1 -0.5,0.5 -1,0.8 -0.9,0.7 -0.9,0.5 -0.9,0.5 -1.1,0.5 -1.2,0.4 -1,0.3 -1.1,0.3 -1.4,0.2 -1.5,0.2 -1.5,0 -1.5,-0.2 -1.5,-0.2 -1,-0.2 -1,-0.3 -1.3,-0.5 -1.1,-0.5 -0.9,-0.5 -0.9,-0.5 -0.8,-0.6 -1,-0.8 -0.6,-0.6 -0.9,-1 -0.5,-0.7 -0.6,-0.8 -0.5,-1 -0.4,-1 -0.5,-1.5 -0.2,-1 -0.1,-1.5 0.1,-1.5 0.2,-1.1 0.4,-1.4 0.4,-1 0.5,-1 0.7,-1 0.5,-0.7 0.7,-0.8 0.8,-0.8 0.9,-0.7 0.6,-0.5 1,-0.6 1,-0.6 1,-0.4 1,-0.4 1.5,-0.5 1,-0.2 1.5,-0.2 0.7,-0.1 M421.3,463.6l1.5,-0.2 1.5,-0.1 1.5,0 1.5,0.1 1.4,0.2 1.1,0.2 1,0.3 1.5,0.5 1,0.4 1,0.5 1,0.6 0.8,0.5 0.7,0.5 1,0.9 0.7,0.6 0.8,0.9 0.5,0.6 0.7,1 0.5,1 0.5,1 0.4,1 0.4,1.5 0.1,1 0.1,1.5 -0.1,1.5 -0.2,1 -0.4,1.5 -0.4,1 -0.5,1 -0.6,1 -0.5,0.8 -0.6,0.7 -0.9,1 -0.6,0.5 -0.9,0.8 -1,0.7 -0.8,0.5 -0.9,0.5 -1.1,0.5 -1.2,0.5 -1,0.3 -1,0.3 -1.5,0.3 -1,0.1 -1.5,0.1 -1.5,0 -1.5,-0.1 -1,-0.1 -1.5,-0.3 -1,-0.3 -1,-0.3 -1.3,-0.5 -1.1,-0.5 -0.9,-0.5 -0.8,-0.5 -0.9,-0.6 -1,-0.9 -0.6,-0.5 -0.9,-1 -0.5,-0.6 -0.6,-0.9 -0.6,-1 -0.5,-1 -0.4,-1 -0.4,-1.4 -0.2,-1.1 -0.1,-1.5 0.1,-1.5 0.2,-1.3 0.3,-1.2 0.4,-1 0.5,-1 0.5,-1 0.7,-1 0.6,-0.7 0.7,-0.8 0.8,-0.7 0.9,-0.8 0.7,-0.5 0.9,-0.6 1,-0.5 1,-0.5 1,-0.4 1.4,-0.5 1.1,-0.3 1,-0.2 M422.9,462.1l1.4,-0.1 1.5,0 1.3,0.1 1.2,0.1 1.5,0.3 1,0.3 1.1,0.3 1.4,0.5 1,0.4 1,0.6 0.9,0.5 0.8,0.5 0.8,0.6 1,0.8 0.6,0.6 0.9,0.9 0.5,0.6 0.7,1 0.6,1 0.6,1 0.4,1 0.3,1 0.4,1.5 0.1,1 0.1,1.5 -0.1,1.5 -0.1,1 -0.4,1.5 -0.4,1 -0.4,1 -0.6,1 -0.6,1 -0.6,0.8 -0.6,0.7 -0.9,0.9 -0.6,0.6 -0.9,0.7 -1,0.7 -0.9,0.6 -0.9,0.5 -1,0.5 -1.2,0.5 -1,0.3 -1,0.3 -1.5,0.4 -1,0.2 -1.5,0.1 -1.5,0.1 -1.5,0 -1.5,-0.2 -1.5,-0.2 -1,-0.2 -1.1,-0.3 -1.4,-0.5 -1,-0.4 -1,-0.4 -1,-0.6 -1,-0.6 -0.7,-0.5 -0.8,-0.6 -1,-0.9 -0.5,-0.5 -0.9,-1 -0.6,-0.7 -0.5,-0.8 -0.6,-1 -0.5,-1 -0.4,-1 -0.4,-1.5 -0.2,-1 -0.2,-1.5 0,-1.5 0.2,-1.5 0.2,-1 0.4,-1.2 0.5,-1.2 0.5,-1 0.5,-0.8 0.5,-0.8 0.8,-1 0.7,-0.7 0.8,-0.8 0.7,-0.6 1,-0.8 1,-0.6 0.8,-0.5 1,-0.5 1.1,-0.5 1.1,-0.4 1,-0.3 1,-0.3 1.5,-0.3 1.5,-0.2 0.1,0" fill="none" stroke="#5256ae" stroke-width="0.55" opacity="0.9" stroke-linejoin="round"/>
</g>
<path d="M456,458.6l1.3,-0.4 1.5,0 1.2,0.4 0.8,0.5 1,1 0.5,0.9 0.4,1.1 0.2,1 0,1.5 -0.2,1 -0.4,1 -0.6,1 -0.9,0.9 -1,0.6 -1,0.3 -1.5,0 -1.1,-0.3 -0.9,-0.5 -1,-1 -0.5,-0.8 -0.5,-1.2 -0.2,-1 0,-1.5 0.2,-1.1 0.5,-1.2 0.5,-0.8 0.9,-0.9 0.8,-0.5 M456.2,456.1l1.1,-0.2 1.5,0 1,0.2 1.2,0.5 0.8,0.5 1,0.9 0.5,0.6 0.6,1 0.5,1 0.4,1.5 0.1,1 0,1.5 -0.1,1 -0.5,1.5 -0.4,1 -0.6,0.9 -0.5,0.6 -1,0.9 -1,0.6 -1,0.4 -1,0.2 -1.5,0 -1,-0.2 -1.1,-0.4 -0.9,-0.5 -1,-0.9 -0.5,-0.6 -0.7,-1 -0.4,-1 -0.4,-1.1 -0.2,-1.4 0,-1.5 0.2,-1.5 0.3,-1 0.5,-1 0.6,-1 0.6,-0.7 0.9,-0.8 0.8,-0.5 1.2,-0.5 M456.8,453.6l1,-0.1 1.4,0.1 1.1,0.2 1,0.4 1,0.6 1,0.7 0.7,0.6 0.8,1 0.5,0.7 0.5,0.9 0.5,1.2 0.4,1.2 0.2,1 0.1,1.5 -0.1,1.5 -0.1,1 -0.4,1.5 -0.4,1 -0.6,1 -0.6,0.9 -0.5,0.6 -1,1 -0.6,0.5 -0.9,0.5 -1.1,0.5 -1.4,0.4 -1.5,0.1 -1.5,-0.2 -1,-0.3 -1.1,-0.5 -0.9,-0.5 -1,-0.8 -0.6,-0.7 -0.8,-1 -0.6,-1 -0.5,-1 -0.3,-1 -0.3,-1 -0.2,-1.5 0,-1.5 0.2,-1.5 0.3,-1 0.3,-1 0.5,-1.1 0.5,-0.9 0.8,-1 0.7,-0.8 0.9,-0.7 0.8,-0.5 1,-0.5 1.3,-0.4 0.5,-0.1 M455.2,451.6l1.1,-0.3 1.5,-0.1 1.5,0.1 1.5,0.3 1,0.4 1,0.5 1,0.6 0.7,0.5 0.8,0.8 0.7,0.7 0.7,1 0.6,1 0.5,1 0.4,1 0.3,1 0.3,1.3 0.2,1.2 0,1.5 -0.1,1.5 -0.2,1 -0.4,1.5 -0.3,1 -0.5,1 -0.5,1 -0.7,1 -0.5,0.6 -0.9,0.9 -0.6,0.5 -1,0.8 -1,0.5 -1,0.4 -1,0.3 -1.5,0.3 -1.5,0 -1.5,-0.2 -1,-0.3 -1,-0.4 -1,-0.6 -1,-0.7 -0.7,-0.6 -0.8,-0.8 -0.6,-0.7 -0.7,-1 -0.5,-1 -0.5,-1 -0.4,-1 -0.3,-1.4 -0.2,-1.1 -0.1,-1.5 0,-1.5 0.2,-1.5 0.3,-1 0.3,-1 0.5,-1.3 0.5,-0.9 0.5,-0.8 0.7,-1 0.8,-0.8 0.7,-0.7 0.8,-0.6 1,-0.6 1,-0.5 0.9,-0.3" fill="none" stroke="#5256ae" stroke-width="0.6" opacity="0.9" stroke-linejoin="round"/>
<rect x="400.8" y="439.8" width="92.5" height="37" stroke="#000" stroke-width="1.1" fill="none"/>
<line x1="444.5" y1="439.8" x2="444.5" y2="476.8" stroke="#000" stroke-width="1.1"/>
<text x="372.1" y="529.5" font-size="15.5" font-weight="normal" text-anchor="start" fill="#1c1c1c" textLength="29.6" lengthAdjust="spacingAndGlyphs" transform="rotate(-90 372.1 529.5)" stroke="#1c1c1c" stroke-width="0.3">CD38</text>
<text x="390.6" y="555" font-size="15.5" font-weight="normal" text-anchor="start" fill="#1c1c1c" textLength="30.8" lengthAdjust="spacingAndGlyphs" stroke="#1c1c1c" stroke-width="0.3">TNF&#945;</text>
<line x1="66.5" y1="206" x2="66.5" y2="338.1" stroke="#000" stroke-width="1.6"/>
<line x1="65.7" y1="337.5" x2="154.5" y2="337.5" stroke="#000" stroke-width="1.6"/>
<line x1="61.5" y1="331.3" x2="66.5" y2="331.3" stroke="#000" stroke-width="1.4"/>
<text x="56.4" y="335.6" font-size="13.5" font-weight="normal" text-anchor="end" fill="#1c1c1c" textLength="7.3" lengthAdjust="spacingAndGlyphs">0</text>
<line x1="61.5" y1="301.1" x2="66.5" y2="301.1" stroke="#000" stroke-width="1.4"/>
<text x="56.4" y="305.4" font-size="13.5" font-weight="normal" text-anchor="end" fill="#1c1c1c" textLength="14.6" lengthAdjust="spacingAndGlyphs">25</text>
<line x1="61.5" y1="270.9" x2="66.5" y2="270.9" stroke="#000" stroke-width="1.4"/>
<text x="56.4" y="275.2" font-size="13.5" font-weight="normal" text-anchor="end" fill="#1c1c1c" textLength="14.6" lengthAdjust="spacingAndGlyphs">50</text>
<line x1="61.5" y1="240.7" x2="66.5" y2="240.7" stroke="#000" stroke-width="1.4"/>
<text x="56.4" y="245" font-size="13.5" font-weight="normal" text-anchor="end" fill="#1c1c1c" textLength="14.6" lengthAdjust="spacingAndGlyphs">75</text>
<line x1="61.5" y1="210.5" x2="66.5" y2="210.5" stroke="#000" stroke-width="1.4"/>
<text x="56.4" y="214.8" font-size="13.5" font-weight="normal" text-anchor="end" fill="#1c1c1c" textLength="21.9" lengthAdjust="spacingAndGlyphs">100</text>
<line x1="80" y1="337.5" x2="80" y2="341.5" stroke="#000" stroke-width="1.4"/>
<line x1="110" y1="337.5" x2="110" y2="341.5" stroke="#000" stroke-width="1.4"/>
<line x1="139.5" y1="337.5" x2="139.5" y2="341.5" stroke="#000" stroke-width="1.4"/>
<text x="80.3" y="358.2" font-size="12.6" font-weight="normal" text-anchor="middle" fill="#1c1c1c">C</text>
<text x="110.2" y="358.2" font-size="12.6" font-weight="normal" text-anchor="middle" fill="#1c1c1c">S</text>
<text x="139.7" y="358.2" font-size="12.6" font-weight="normal" text-anchor="middle" fill="#1c1c1c">H</text>
<text x="25.4" y="338.1" font-size="15" font-weight="normal" text-anchor="start" fill="#1c1c1c" textLength="135.4" lengthAdjust="spacingAndGlyphs" transform="rotate(-90 25.4 338.1)">% effector memory T cells</text>
<line x1="85.8" y1="208.3" x2="135.4" y2="208.3" stroke="#000" stroke-width="1.3"/>
<path d="M122.40,199.75L123.05,201.51L124.92,201.58L123.45,202.74L123.96,204.54L122.40,203.50L120.84,204.54L121.35,202.74L119.88,201.58L121.75,201.51ZM127.60,199.75L128.25,201.51L130.12,201.58L128.65,202.74L129.16,204.54L127.60,203.50L126.04,204.54L126.55,202.74L125.08,201.58L126.95,201.51ZM132.80,199.75L133.45,201.51L135.32,201.58L133.85,202.74L134.36,204.54L132.80,203.50L131.24,204.54L131.75,202.74L130.28,201.58L132.15,201.51Z" fill="#1a1a1a"/>
<line x1="107.1" y1="223" x2="129.8" y2="223" stroke="#000" stroke-width="1.3"/>
<path d="M127.30,214.55L127.95,216.31L129.82,216.38L128.35,217.54L128.86,219.34L127.30,218.30L125.74,219.34L126.25,217.54L124.78,216.38L126.65,216.31Z" fill="#1a1a1a"/>
<circle cx="80.6" cy="313.3" r="3.45" fill="#6ab540" stroke="#0d0d0d" stroke-width="1.05"/>
<circle cx="80.6" cy="316" r="3.45" fill="#6ab540" stroke="#0d0d0d" stroke-width="1.05"/>
<circle cx="80" cy="318.8" r="3.45" fill="#6ab540" stroke="#0d0d0d" stroke-width="1.05"/>
<circle cx="80" cy="321.7" r="3.45" fill="#6ab540" stroke="#0d0d0d" stroke-width="1.05"/>
<circle cx="74.8" cy="326.9" r="3.45" fill="#6ab540" stroke="#0d0d0d" stroke-width="1.05"/>
<circle cx="78.3" cy="326.3" r="3.45" fill="#6ab540" stroke="#0d0d0d" stroke-width="1.05"/>
<circle cx="82.3" cy="325.8" r="3.45" fill="#6ab540" stroke="#0d0d0d" stroke-width="1.05"/>
<circle cx="85.2" cy="327.5" r="3.45" fill="#6ab540" stroke="#0d0d0d" stroke-width="1.05"/>
<circle cx="74.2" cy="331" r="3.45" fill="#6ab540" stroke="#0d0d0d" stroke-width="1.05"/>
<circle cx="77.7" cy="331.5" r="3.45" fill="#6ab540" stroke="#0d0d0d" stroke-width="1.05"/>
<circle cx="81.7" cy="331.5" r="3.45" fill="#6ab540" stroke="#0d0d0d" stroke-width="1.05"/>
<circle cx="86.9" cy="331.5" r="3.45" fill="#6ab540" stroke="#0d0d0d" stroke-width="1.05"/>
<circle cx="88.1" cy="329.2" r="3.45" fill="#6ab540" stroke="#0d0d0d" stroke-width="1.05"/>
<line x1="71.2" y1="329.2" x2="89.8" y2="329.2" stroke="#000" stroke-width="1.6"/>
<circle cx="110.5" cy="214.3" r="3.45" fill="#36589a" stroke="#0d0d0d" stroke-width="1.05"/>
<circle cx="110.5" cy="234.3" r="3.45" fill="#36589a" stroke="#0d0d0d" stroke-width="1.05"/>
<circle cx="110.5" cy="249.3" r="3.45" fill="#36589a" stroke="#0d0d0d" stroke-width="1.05"/>
<circle cx="110" cy="261.6" r="3.45" fill="#36589a" stroke="#0d0d0d" stroke-width="1.05"/>
<circle cx="110" cy="281.5" r="3.45" fill="#36589a" stroke="#0d0d0d" stroke-width="1.05"/>
<circle cx="112.6" cy="289.8" r="3.45" fill="#36589a" stroke="#0d0d0d" stroke-width="1.05"/>
<circle cx="108.2" cy="293.4" r="3.45" fill="#36589a" stroke="#0d0d0d" stroke-width="1.05"/>
<circle cx="108.7" cy="298.2" r="3.45" fill="#36589a" stroke="#0d0d0d" stroke-width="1.05"/>
<circle cx="111.8" cy="304.4" r="3.45" fill="#36589a" stroke="#0d0d0d" stroke-width="1.05"/>
<circle cx="116" cy="307.7" r="3.45" fill="#36589a" stroke="#0d0d0d" stroke-width="1.05"/>
<circle cx="112" cy="310.6" r="3.45" fill="#36589a" stroke="#0d0d0d" stroke-width="1.05"/>
<circle cx="104.5" cy="313" r="3.45" fill="#36589a" stroke="#0d0d0d" stroke-width="1.05"/>
<circle cx="108.2" cy="316.2" r="3.45" fill="#36589a" stroke="#0d0d0d" stroke-width="1.05"/>
<circle cx="106.5" cy="326.3" r="3.45" fill="#36589a" stroke="#0d0d0d" stroke-width="1.05"/>
<circle cx="110" cy="329.8" r="3.45" fill="#36589a" stroke="#0d0d0d" stroke-width="1.05"/>
<circle cx="114" cy="331" r="3.45" fill="#36589a" stroke="#0d0d0d" stroke-width="1.05"/>
<line x1="110" y1="261.6" x2="110" y2="316" stroke="#000" stroke-width="1.2"/>
<line x1="105.2" y1="261.6" x2="114.8" y2="261.6" stroke="#000" stroke-width="1.2"/>
<line x1="105.2" y1="316" x2="114.8" y2="316" stroke="#000" stroke-width="1.2"/>
<line x1="100.3" y1="301.7" x2="119.7" y2="301.7" stroke="#000" stroke-width="1.6"/>
<circle cx="138" cy="214.5" r="3.45" fill="#c0143c" stroke="#0d0d0d" stroke-width="1.05"/>
<circle cx="141.6" cy="213.5" r="3.45" fill="#c0143c" stroke="#0d0d0d" stroke-width="1.05"/>
<circle cx="139.4" cy="216.8" r="3.45" fill="#c0143c" stroke="#0d0d0d" stroke-width="1.05"/>
<circle cx="142.7" cy="221.6" r="3.45" fill="#c0143c" stroke="#0d0d0d" stroke-width="1.05"/>
<circle cx="146.5" cy="225.4" r="3.45" fill="#c0143c" stroke="#0d0d0d" stroke-width="1.05"/>
<circle cx="137.5" cy="225.4" r="3.45" fill="#c0143c" stroke="#0d0d0d" stroke-width="1.05"/>
<circle cx="143.7" cy="227.3" r="3.45" fill="#c0143c" stroke="#0d0d0d" stroke-width="1.05"/>
<circle cx="135.2" cy="231.5" r="3.45" fill="#c0143c" stroke="#0d0d0d" stroke-width="1.05"/>
<circle cx="138.5" cy="234.4" r="3.45" fill="#c0143c" stroke="#0d0d0d" stroke-width="1.05"/>
<circle cx="141.8" cy="234.9" r="3.45" fill="#c0143c" stroke="#0d0d0d" stroke-width="1.05"/>
<circle cx="139.4" cy="243.9" r="3.45" fill="#c0143c" stroke="#0d0d0d" stroke-width="1.05"/>
<circle cx="139" cy="248.1" r="3.45" fill="#c0143c" stroke="#0d0d0d" stroke-width="1.05"/>
<circle cx="140.4" cy="255.2" r="3.45" fill="#c0143c" stroke="#0d0d0d" stroke-width="1.05"/>
<circle cx="138" cy="264.7" r="3.45" fill="#c0143c" stroke="#0d0d0d" stroke-width="1.05"/>
<circle cx="138.8" cy="268.6" r="3.45" fill="#c0143c" stroke="#0d0d0d" stroke-width="1.05"/>
<circle cx="141.3" cy="272.1" r="3.45" fill="#c0143c" stroke="#0d0d0d" stroke-width="1.05"/>
<circle cx="136.8" cy="280.2" r="3.45" fill="#c0143c" stroke="#0d0d0d" stroke-width="1.05"/>
<circle cx="142.3" cy="281.2" r="3.45" fill="#c0143c" stroke="#0d0d0d" stroke-width="1.05"/>
<circle cx="139.8" cy="285.3" r="3.45" fill="#c0143c" stroke="#0d0d0d" stroke-width="1.05"/>
<circle cx="138.8" cy="294.4" r="3.45" fill="#c0143c" stroke="#0d0d0d" stroke-width="1.05"/>
<circle cx="138.8" cy="301.5" r="3.45" fill="#c0143c" stroke="#0d0d0d" stroke-width="1.05"/>
<circle cx="142.8" cy="304.1" r="3.45" fill="#c0143c" stroke="#0d0d0d" stroke-width="1.05"/>
<circle cx="136.8" cy="308.1" r="3.45" fill="#c0143c" stroke="#0d0d0d" stroke-width="1.05"/>
<circle cx="140.8" cy="310.2" r="3.45" fill="#c0143c" stroke="#0d0d0d" stroke-width="1.05"/>
<circle cx="142.1" cy="317.8" r="3.45" fill="#c0143c" stroke="#0d0d0d" stroke-width="1.05"/>
<circle cx="139.5" cy="331.2" r="3.45" fill="#c0143c" stroke="#0d0d0d" stroke-width="1.05"/>
<line x1="139.4" y1="234.6" x2="139.4" y2="279.5" stroke="#000" stroke-width="1.2"/>
<line x1="134.8" y1="234.6" x2="144" y2="234.6" stroke="#000" stroke-width="1.2"/>
<line x1="134.8" y1="279.5" x2="144" y2="279.5" stroke="#000" stroke-width="1.2"/>
<line x1="130" y1="264.9" x2="149.4" y2="264.9" stroke="#000" stroke-width="1.6"/>
<line x1="243.3" y1="206.3" x2="243.3" y2="338.1" stroke="#000" stroke-width="1.6"/>
<line x1="242.5" y1="337.5" x2="333" y2="337.5" stroke="#000" stroke-width="1.6"/>
<line x1="238.3" y1="337.4" x2="243.3" y2="337.4" stroke="#000" stroke-width="1.4"/>
<text x="233.6" y="341.7" font-size="13.5" font-weight="normal" text-anchor="end" fill="#1c1c1c" textLength="7.3" lengthAdjust="spacingAndGlyphs">0</text>
<line x1="238.3" y1="305.75" x2="243.3" y2="305.75" stroke="#000" stroke-width="1.4"/>
<text x="233.6" y="310.05" font-size="13.5" font-weight="normal" text-anchor="end" fill="#1c1c1c" textLength="14.6" lengthAdjust="spacingAndGlyphs">25</text>
<line x1="238.3" y1="274.1" x2="243.3" y2="274.1" stroke="#000" stroke-width="1.4"/>
<text x="233.6" y="278.4" font-size="13.5" font-weight="normal" text-anchor="end" fill="#1c1c1c" textLength="14.6" lengthAdjust="spacingAndGlyphs">50</text>
<line x1="238.3" y1="242.45" x2="243.3" y2="242.45" stroke="#000" stroke-width="1.4"/>
<text x="233.6" y="246.75" font-size="13.5" font-weight="normal" text-anchor="end" fill="#1c1c1c" textLength="14.6" lengthAdjust="spacingAndGlyphs">75</text>
<line x1="238.3" y1="210.8" x2="243.3" y2="210.8" stroke="#000" stroke-width="1.4"/>
<text x="233.6" y="215.1" font-size="13.5" font-weight="normal" text-anchor="end" fill="#1c1c1c" textLength="21.9" lengthAdjust="spacingAndGlyphs">100</text>
<line x1="258.3" y1="337.5" x2="258.3" y2="341.5" stroke="#000" stroke-width="1.4"/>
<line x1="288" y1="337.5" x2="288" y2="341.5" stroke="#000" stroke-width="1.4"/>
<line x1="317.5" y1="337.5" x2="317.5" y2="341.5" stroke="#000" stroke-width="1.4"/>
<text x="258.4" y="358.4" font-size="12.6" font-weight="normal" text-anchor="middle" fill="#1c1c1c">C</text>
<text x="288.1" y="358.4" font-size="12.6" font-weight="normal" text-anchor="middle" fill="#1c1c1c">S</text>
<text x="317.7" y="358.4" font-size="12.6" font-weight="normal" text-anchor="middle" fill="#1c1c1c">H</text>
<text x="201.3" y="309.4" font-size="16" font-weight="normal" text-anchor="start" fill="#1c1c1c" textLength="66.3" lengthAdjust="spacingAndGlyphs" transform="rotate(-90 201.3 309.4)">% granzyme</text>
<text x="196.2" y="241.3" font-size="10.5" font-weight="normal" text-anchor="start" fill="#1c1c1c" textLength="5.2" lengthAdjust="spacingAndGlyphs" transform="rotate(-90 196.2 241.3)">+</text>
<line x1="263.2" y1="208.5" x2="302.7" y2="208.5" stroke="#000" stroke-width="1.3"/>
<path d="M283.80,199.55L284.45,201.31L286.32,201.38L284.85,202.54L285.36,204.34L283.80,203.30L282.24,204.34L282.75,202.54L281.28,201.38L283.15,201.31ZM289.17,199.55L289.82,201.31L291.69,201.38L290.22,202.54L290.73,204.34L289.17,203.30L287.61,204.34L288.12,202.54L286.65,201.38L288.52,201.31ZM294.54,199.55L295.19,201.31L297.06,201.38L295.59,202.54L296.10,204.34L294.54,203.30L292.98,204.34L293.49,202.54L292.02,201.38L293.89,201.31ZM299.91,199.55L300.56,201.31L302.43,201.38L300.96,202.54L301.47,204.34L299.91,203.30L298.35,204.34L298.86,202.54L297.39,201.38L299.26,201.31Z" fill="#1a1a1a"/>
<line x1="277.5" y1="236.8" x2="302.7" y2="236.8" stroke="#000" stroke-width="1.3"/>
<path d="M289.80,228.35L290.45,230.11L292.32,230.18L290.85,231.34L291.36,233.14L289.80,232.10L288.24,233.14L288.75,231.34L287.28,230.18L289.15,230.11ZM295.00,228.35L295.65,230.11L297.52,230.18L296.05,231.34L296.56,233.14L295.00,232.10L293.44,233.14L293.95,231.34L292.48,230.18L294.35,230.11Z" fill="#1a1a1a"/>
<circle cx="257.7" cy="311.5" r="3.45" fill="#6ab540" stroke="#0d0d0d" stroke-width="1.05"/>
<circle cx="258.8" cy="320.5" r="3.45" fill="#6ab540" stroke="#0d0d0d" stroke-width="1.05"/>
<circle cx="257.7" cy="326.5" r="3.45" fill="#6ab540" stroke="#0d0d0d" stroke-width="1.05"/>
<circle cx="261.2" cy="328.8" r="3.45" fill="#6ab540" stroke="#0d0d0d" stroke-width="1.05"/>
<circle cx="253.7" cy="331.2" r="3.45" fill="#6ab540" stroke="#0d0d0d" stroke-width="1.05"/>
<circle cx="256.5" cy="332.3" r="3.45" fill="#6ab540" stroke="#0d0d0d" stroke-width="1.05"/>
<circle cx="262.3" cy="332.3" r="3.45" fill="#6ab540" stroke="#0d0d0d" stroke-width="1.05"/>
<circle cx="264.6" cy="334.6" r="3.45" fill="#6ab540" stroke="#0d0d0d" stroke-width="1.05"/>
<circle cx="258.8" cy="335.2" r="3.45" fill="#6ab540" stroke="#0d0d0d" stroke-width="1.05"/>
<circle cx="253.1" cy="334" r="3.45" fill="#6ab540" stroke="#0d0d0d" stroke-width="1.05"/>
<line x1="249" y1="331.4" x2="267.6" y2="331.4" stroke="#000" stroke-width="1.6"/>
<line x1="258.5" y1="326" x2="258.5" y2="337.5" stroke="#000" stroke-width="1.2"/>
<circle cx="288" cy="275" r="3.45" fill="#36589a" stroke="#0d0d0d" stroke-width="1.05"/>
<circle cx="282.7" cy="304.6" r="3.45" fill="#36589a" stroke="#0d0d0d" stroke-width="1.05"/>
<circle cx="292.3" cy="305.5" r="3.45" fill="#36589a" stroke="#0d0d0d" stroke-width="1.05"/>
<circle cx="282.7" cy="333.7" r="3.45" fill="#36589a" stroke="#0d0d0d" stroke-width="1.05"/>
<circle cx="292.5" cy="336.9" r="3.45" fill="#36589a" stroke="#0d0d0d" stroke-width="1.05"/>
<line x1="288" y1="275" x2="288" y2="337.5" stroke="#000" stroke-width="1.2"/>
<line x1="283.5" y1="275" x2="292.5" y2="275" stroke="#000" stroke-width="1.2"/>
<line x1="283.5" y1="337.5" x2="292.5" y2="337.5" stroke="#000" stroke-width="1.2"/>
<line x1="278.5" y1="305.2" x2="297.5" y2="305.2" stroke="#000" stroke-width="1.6"/>
<circle cx="314.2" cy="210.6" r="3.45" fill="#c0143c" stroke="#0d0d0d" stroke-width="1.05"/>
<circle cx="317.7" cy="217.1" r="3.45" fill="#c0143c" stroke="#0d0d0d" stroke-width="1.05"/>
<circle cx="321" cy="217.1" r="3.45" fill="#c0143c" stroke="#0d0d0d" stroke-width="1.05"/>
<circle cx="322.6" cy="221.9" r="3.45" fill="#c0143c" stroke="#0d0d0d" stroke-width="1.05"/>
<circle cx="312.1" cy="227.9" r="3.45" fill="#c0143c" stroke="#0d0d0d" stroke-width="1.05"/>
<circle cx="319.4" cy="230" r="3.45" fill="#c0143c" stroke="#0d0d0d" stroke-width="1.05"/>
<circle cx="315.3" cy="233.3" r="3.45" fill="#c0143c" stroke="#0d0d0d" stroke-width="1.05"/>
<circle cx="314.5" cy="244.7" r="3.45" fill="#c0143c" stroke="#0d0d0d" stroke-width="1.05"/>
<circle cx="321" cy="248.7" r="3.45" fill="#c0143c" stroke="#0d0d0d" stroke-width="1.05"/>
<circle cx="311.2" cy="256" r="3.45" fill="#c0143c" stroke="#0d0d0d" stroke-width="1.05"/>
<circle cx="316.1" cy="256" r="3.45" fill="#c0143c" stroke="#0d0d0d" stroke-width="1.05"/>
<circle cx="322.6" cy="255.2" r="3.45" fill="#c0143c" stroke="#0d0d0d" stroke-width="1.05"/>
<circle cx="319" cy="265.8" r="3.45" fill="#c0143c" stroke="#0d0d0d" stroke-width="1.05"/>
<circle cx="317.7" cy="295.8" r="3.45" fill="#c0143c" stroke="#0d0d0d" stroke-width="1.05"/>
<circle cx="317.7" cy="313.7" r="3.45" fill="#c0143c" stroke="#0d0d0d" stroke-width="1.05"/>
<line x1="317.7" y1="221.6" x2="317.7" y2="254.6" stroke="#000" stroke-width="1.2"/>
<line x1="313.2" y1="221.6" x2="322.2" y2="221.6" stroke="#000" stroke-width="1.2"/>
<line x1="313.2" y1="254.6" x2="322.2" y2="254.6" stroke="#000" stroke-width="1.2"/>
<line x1="308" y1="245.8" x2="327.5" y2="245.8" stroke="#000" stroke-width="1.6"/>
<line x1="418.1" y1="206.3" x2="418.1" y2="337.8" stroke="#000" stroke-width="1.6"/>
<line x1="417.3" y1="337.2" x2="508.1" y2="337.2" stroke="#000" stroke-width="1.6"/>
<line x1="413.1" y1="331.5" x2="418.1" y2="331.5" stroke="#000" stroke-width="1.4"/>
<text x="408.1" y="335.8" font-size="13.5" font-weight="normal" text-anchor="end" fill="#1c1c1c" textLength="7.3" lengthAdjust="spacingAndGlyphs">0</text>
<line x1="413.1" y1="301.07" x2="418.1" y2="301.07" stroke="#000" stroke-width="1.4"/>
<text x="408.1" y="305.38" font-size="13.5" font-weight="normal" text-anchor="end" fill="#1c1c1c" textLength="14.6" lengthAdjust="spacingAndGlyphs">25</text>
<line x1="413.1" y1="270.65" x2="418.1" y2="270.65" stroke="#000" stroke-width="1.4"/>
<text x="408.1" y="274.95" font-size="13.5" font-weight="normal" text-anchor="end" fill="#1c1c1c" textLength="14.6" lengthAdjust="spacingAndGlyphs">50</text>
<line x1="413.1" y1="240.23" x2="418.1" y2="240.23" stroke="#000" stroke-width="1.4"/>
<text x="408.1" y="244.53" font-size="13.5" font-weight="normal" text-anchor="end" fill="#1c1c1c" textLength="14.6" lengthAdjust="spacingAndGlyphs">75</text>
<line x1="413.1" y1="209.8" x2="418.1" y2="209.8" stroke="#000" stroke-width="1.4"/>
<text x="408.1" y="214.1" font-size="13.5" font-weight="normal" text-anchor="end" fill="#1c1c1c" textLength="21.9" lengthAdjust="spacingAndGlyphs">100</text>
<line x1="433" y1="337.2" x2="433" y2="341.2" stroke="#000" stroke-width="1.4"/>
<line x1="462.2" y1="337.2" x2="462.2" y2="341.2" stroke="#000" stroke-width="1.4"/>
<line x1="492.4" y1="337.2" x2="492.4" y2="341.2" stroke="#000" stroke-width="1.4"/>
<text x="433.1" y="358.3" font-size="12.6" font-weight="normal" text-anchor="middle" fill="#1c1c1c">C</text>
<text x="462.3" y="358.3" font-size="12.6" font-weight="normal" text-anchor="middle" fill="#1c1c1c">S</text>
<text x="492.5" y="358.3" font-size="12.6" font-weight="normal" text-anchor="middle" fill="#1c1c1c">H</text>
<text x="376.9" y="301" font-size="16" font-weight="normal" text-anchor="start" fill="#1c1c1c" textLength="44.5" lengthAdjust="spacingAndGlyphs" transform="rotate(-90 376.9 301)">% CD28</text>
<text x="371.8" y="256.3" font-size="10.5" font-weight="normal" text-anchor="start" fill="#1c1c1c" textLength="14.4" lengthAdjust="spacingAndGlyphs" transform="rotate(-90 371.8 256.3)">low</text>
<line x1="431.2" y1="209.2" x2="488.7" y2="209.2" stroke="#000" stroke-width="1.3"/>
<path d="M465.60,200.85L466.25,202.61L468.12,202.68L466.65,203.84L467.16,205.64L465.60,204.60L464.04,205.64L464.55,203.84L463.08,202.68L464.95,202.61ZM471.10,200.85L471.75,202.61L473.62,202.68L472.15,203.84L472.66,205.64L471.10,204.60L469.54,205.64L470.05,203.84L468.58,202.68L470.45,202.61ZM476.60,200.85L477.25,202.61L479.12,202.68L477.65,203.84L478.16,205.64L476.60,204.60L475.04,205.64L475.55,203.84L474.08,202.68L475.95,202.61ZM482.10,200.85L482.75,202.61L484.62,202.68L483.15,203.84L483.66,205.64L482.10,204.60L480.54,205.64L481.05,203.84L479.58,202.68L481.45,202.61Z" fill="#1a1a1a"/>
<line x1="452.5" y1="232.8" x2="486.2" y2="232.8" stroke="#000" stroke-width="1.3"/>
<path d="M472.70,224.45L473.35,226.21L475.22,226.28L473.75,227.44L474.26,229.24L472.70,228.20L471.14,229.24L471.65,227.44L470.18,226.28L472.05,226.21ZM478.05,224.45L478.70,226.21L480.57,226.28L479.10,227.44L479.61,229.24L478.05,228.20L476.49,229.24L477.00,227.44L475.53,226.28L477.40,226.21ZM483.40,224.45L484.05,226.21L485.92,226.28L484.45,227.44L484.96,229.24L483.40,228.20L481.84,229.24L482.35,227.44L480.88,226.28L482.75,226.21Z" fill="#1a1a1a"/>
<circle cx="432.9" cy="272.9" r="3.45" fill="#6ab540" stroke="#0d0d0d" stroke-width="1.05"/>
<circle cx="429.2" cy="290.6" r="3.45" fill="#6ab540" stroke="#0d0d0d" stroke-width="1.05"/>
<circle cx="436.2" cy="292.9" r="3.45" fill="#6ab540" stroke="#0d0d0d" stroke-width="1.05"/>
<circle cx="433.3" cy="295.2" r="3.45" fill="#6ab540" stroke="#0d0d0d" stroke-width="1.05"/>
<circle cx="431" cy="298.1" r="3.45" fill="#6ab540" stroke="#0d0d0d" stroke-width="1.05"/>
<circle cx="435" cy="298.7" r="3.45" fill="#6ab540" stroke="#0d0d0d" stroke-width="1.05"/>
<circle cx="439" cy="303.8" r="3.45" fill="#6ab540" stroke="#0d0d0d" stroke-width="1.05"/>
<circle cx="426.9" cy="306.7" r="3.45" fill="#6ab540" stroke="#0d0d0d" stroke-width="1.05"/>
<circle cx="431" cy="310.8" r="3.45" fill="#6ab540" stroke="#0d0d0d" stroke-width="1.05"/>
<circle cx="433.3" cy="311.9" r="3.45" fill="#6ab540" stroke="#0d0d0d" stroke-width="1.05"/>
<circle cx="435" cy="318.8" r="3.45" fill="#6ab540" stroke="#0d0d0d" stroke-width="1.05"/>
<circle cx="437.3" cy="319.4" r="3.45" fill="#6ab540" stroke="#0d0d0d" stroke-width="1.05"/>
<line x1="433" y1="295" x2="433" y2="310.2" stroke="#000" stroke-width="1.2"/>
<line x1="428.2" y1="295" x2="437.8" y2="295" stroke="#000" stroke-width="1.2"/>
<line x1="428.2" y1="310.2" x2="437.8" y2="310.2" stroke="#000" stroke-width="1.2"/>
<line x1="423.5" y1="302.7" x2="442.5" y2="302.7" stroke="#000" stroke-width="1.6"/>
<circle cx="461" cy="279" r="3.45" fill="#36589a" stroke="#0d0d0d" stroke-width="1.05"/>
<circle cx="464.4" cy="277.9" r="3.45" fill="#36589a" stroke="#0d0d0d" stroke-width="1.05"/>
<circle cx="458.7" cy="299.2" r="3.45" fill="#36589a" stroke="#0d0d0d" stroke-width="1.05"/>
<circle cx="466.7" cy="296.9" r="3.45" fill="#36589a" stroke="#0d0d0d" stroke-width="1.05"/>
<circle cx="462.7" cy="301" r="3.45" fill="#36589a" stroke="#0d0d0d" stroke-width="1.05"/>
<circle cx="461" cy="311.9" r="3.45" fill="#36589a" stroke="#0d0d0d" stroke-width="1.05"/>
<circle cx="456.9" cy="318.8" r="3.45" fill="#36589a" stroke="#0d0d0d" stroke-width="1.05"/>
<circle cx="467.3" cy="318.8" r="3.45" fill="#36589a" stroke="#0d0d0d" stroke-width="1.05"/>
<circle cx="456.9" cy="325.8" r="3.45" fill="#36589a" stroke="#0d0d0d" stroke-width="1.05"/>
<circle cx="459.2" cy="329.2" r="3.45" fill="#36589a" stroke="#0d0d0d" stroke-width="1.05"/>
<circle cx="465" cy="330.4" r="3.45" fill="#36589a" stroke="#0d0d0d" stroke-width="1.05"/>
<circle cx="468.5" cy="330.4" r="3.45" fill="#36589a" stroke="#0d0d0d" stroke-width="1.05"/>
<line x1="462.7" y1="298" x2="462.7" y2="329.2" stroke="#000" stroke-width="1.2"/>
<line x1="458.2" y1="298" x2="467.2" y2="298" stroke="#000" stroke-width="1.2"/>
<line x1="458.2" y1="329.2" x2="467.2" y2="329.2" stroke="#000" stroke-width="1.2"/>
<line x1="452.9" y1="318.3" x2="472.5" y2="318.3" stroke="#000" stroke-width="1.6"/>
<circle cx="491.4" cy="214" r="3.45" fill="#c0143c" stroke="#0d0d0d" stroke-width="1.05"/>
<circle cx="493.7" cy="219.2" r="3.45" fill="#c0143c" stroke="#0d0d0d" stroke-width="1.05"/>
<circle cx="494.7" cy="222.6" r="3.45" fill="#c0143c" stroke="#0d0d0d" stroke-width="1.05"/>
<circle cx="491.8" cy="230.2" r="3.45" fill="#c0143c" stroke="#0d0d0d" stroke-width="1.05"/>
<circle cx="489" cy="230.6" r="3.45" fill="#c0143c" stroke="#0d0d0d" stroke-width="1.05"/>
<circle cx="490.9" cy="237.8" r="3.45" fill="#c0143c" stroke="#0d0d0d" stroke-width="1.05"/>
<circle cx="498.5" cy="237.8" r="3.45" fill="#c0143c" stroke="#0d0d0d" stroke-width="1.05"/>
<circle cx="488" cy="238.2" r="3.45" fill="#c0143c" stroke="#0d0d0d" stroke-width="1.05"/>
<circle cx="486.6" cy="244.4" r="3.45" fill="#c0143c" stroke="#0d0d0d" stroke-width="1.05"/>
<circle cx="493.7" cy="246.3" r="3.45" fill="#c0143c" stroke="#0d0d0d" stroke-width="1.05"/>
<circle cx="495.6" cy="241.6" r="3.45" fill="#c0143c" stroke="#0d0d0d" stroke-width="1.05"/>
<circle cx="490" cy="250.6" r="3.45" fill="#c0143c" stroke="#0d0d0d" stroke-width="1.05"/>
<circle cx="495.6" cy="254.4" r="3.45" fill="#c0143c" stroke="#0d0d0d" stroke-width="1.05"/>
<circle cx="492.3" cy="261.5" r="3.45" fill="#c0143c" stroke="#0d0d0d" stroke-width="1.05"/>
<circle cx="495.2" cy="261.5" r="3.45" fill="#c0143c" stroke="#0d0d0d" stroke-width="1.05"/>
<circle cx="489.5" cy="266.7" r="3.45" fill="#c0143c" stroke="#0d0d0d" stroke-width="1.05"/>
<circle cx="498" cy="271" r="3.45" fill="#c0143c" stroke="#0d0d0d" stroke-width="1.05"/>
<circle cx="489.8" cy="266.5" r="3.45" fill="#c0143c" stroke="#0d0d0d" stroke-width="1.05"/>
<circle cx="486.3" cy="274.1" r="3.45" fill="#c0143c" stroke="#0d0d0d" stroke-width="1.05"/>
<circle cx="489.3" cy="276.2" r="3.45" fill="#c0143c" stroke="#0d0d0d" stroke-width="1.05"/>
<circle cx="495.9" cy="281.3" r="3.45" fill="#c0143c" stroke="#0d0d0d" stroke-width="1.05"/>
<circle cx="494.4" cy="284.3" r="3.45" fill="#c0143c" stroke="#0d0d0d" stroke-width="1.05"/>
<circle cx="489.3" cy="285.8" r="3.45" fill="#c0143c" stroke="#0d0d0d" stroke-width="1.05"/>
<circle cx="491.8" cy="291.9" r="3.45" fill="#c0143c" stroke="#0d0d0d" stroke-width="1.05"/>
<circle cx="489.3" cy="293" r="3.45" fill="#c0143c" stroke="#0d0d0d" stroke-width="1.05"/>
<circle cx="491.8" cy="295.5" r="3.45" fill="#c0143c" stroke="#0d0d0d" stroke-width="1.05"/>
<circle cx="494.9" cy="301.1" r="3.45" fill="#c0143c" stroke="#0d0d0d" stroke-width="1.05"/>
<circle cx="497.9" cy="302.6" r="3.45" fill="#c0143c" stroke="#0d0d0d" stroke-width="1.05"/>
<circle cx="487.8" cy="302.6" r="3.45" fill="#c0143c" stroke="#0d0d0d" stroke-width="1.05"/>
<circle cx="487.8" cy="310.2" r="3.45" fill="#c0143c" stroke="#0d0d0d" stroke-width="1.05"/>
<circle cx="492.4" cy="313.3" r="3.45" fill="#c0143c" stroke="#0d0d0d" stroke-width="1.05"/>
<circle cx="496.4" cy="316.8" r="3.45" fill="#c0143c" stroke="#0d0d0d" stroke-width="1.05"/>
<circle cx="497.9" cy="317.3" r="3.45" fill="#c0143c" stroke="#0d0d0d" stroke-width="1.05"/>
<line x1="492.2" y1="232" x2="492.2" y2="284" stroke="#000" stroke-width="1.2"/>
<line x1="487.7" y1="232" x2="496.7" y2="232" stroke="#000" stroke-width="1.2"/>
<line x1="487.7" y1="284" x2="496.7" y2="284" stroke="#000" stroke-width="1.2"/>
<line x1="482.2" y1="271.3" x2="501" y2="271.3" stroke="#000" stroke-width="1.6"/>
<line x1="72" y1="582" x2="72" y2="702.4" stroke="#000" stroke-width="1.6"/>
<line x1="71.2" y1="701.8" x2="129.7" y2="701.8" stroke="#000" stroke-width="1.6"/>
<line x1="67" y1="696.3" x2="72" y2="696.3" stroke="#000" stroke-width="1.4"/>
<text x="61.1" y="700.6" font-size="13.5" font-weight="normal" text-anchor="end" fill="#1c1c1c" textLength="7.3" lengthAdjust="spacingAndGlyphs">0</text>
<line x1="67" y1="668.92" x2="72" y2="668.92" stroke="#000" stroke-width="1.4"/>
<text x="61.1" y="673.22" font-size="13.5" font-weight="normal" text-anchor="end" fill="#1c1c1c" textLength="14.6" lengthAdjust="spacingAndGlyphs">25</text>
<line x1="67" y1="641.55" x2="72" y2="641.55" stroke="#000" stroke-width="1.4"/>
<text x="61.1" y="645.85" font-size="13.5" font-weight="normal" text-anchor="end" fill="#1c1c1c" textLength="14.6" lengthAdjust="spacingAndGlyphs">50</text>
<line x1="67" y1="614.17" x2="72" y2="614.17" stroke="#000" stroke-width="1.4"/>
<text x="61.1" y="618.47" font-size="13.5" font-weight="normal" text-anchor="end" fill="#1c1c1c" textLength="14.6" lengthAdjust="spacingAndGlyphs">75</text>
<line x1="67" y1="586.8" x2="72" y2="586.8" stroke="#000" stroke-width="1.4"/>
<text x="61.1" y="591.1" font-size="13.5" font-weight="normal" text-anchor="end" fill="#1c1c1c" textLength="21.9" lengthAdjust="spacingAndGlyphs">100</text>
<line x1="85.4" y1="701.8" x2="85.4" y2="705.8" stroke="#000" stroke-width="1.4"/>
<line x1="114.4" y1="701.8" x2="114.4" y2="705.8" stroke="#000" stroke-width="1.4"/>
<text x="85.5" y="723.3" font-size="12.6" font-weight="normal" text-anchor="middle" fill="#1c1c1c">C</text>
<text x="114.5" y="723.3" font-size="12.6" font-weight="normal" text-anchor="middle" fill="#1c1c1c">H</text>
<text x="30.5" y="670.6" font-size="16.3" font-weight="normal" text-anchor="start" fill="#1c1c1c" textLength="48.8" lengthAdjust="spacingAndGlyphs" transform="rotate(-90 30.5 670.6)">% CXCR3</text>
<text x="24.6" y="619.9" font-size="10.5" font-weight="normal" text-anchor="start" fill="#1c1c1c" textLength="5.6" lengthAdjust="spacingAndGlyphs" transform="rotate(-90 24.6 619.9)">+</text>
<line x1="78" y1="589.3" x2="103" y2="589.3" stroke="#000" stroke-width="1.3"/>
<text x="90.9" y="584.4" font-size="11.5" font-weight="normal" text-anchor="start" fill="#1c1c1c" textLength="12.6" lengthAdjust="spacingAndGlyphs">ns</text>
<circle cx="83.4" cy="648.1" r="3.45" fill="#6ab540" stroke="#0d0d0d" stroke-width="1.05"/>
<circle cx="87.1" cy="647.3" r="3.45" fill="#6ab540" stroke="#0d0d0d" stroke-width="1.05"/>
<circle cx="84.2" cy="655.9" r="3.45" fill="#6ab540" stroke="#0d0d0d" stroke-width="1.05"/>
<circle cx="88.3" cy="655.5" r="3.45" fill="#6ab540" stroke="#0d0d0d" stroke-width="1.05"/>
<circle cx="83.4" cy="658.7" r="3.45" fill="#6ab540" stroke="#0d0d0d" stroke-width="1.05"/>
<circle cx="88.3" cy="659.1" r="3.45" fill="#6ab540" stroke="#0d0d0d" stroke-width="1.05"/>
<circle cx="82.2" cy="666" r="3.45" fill="#6ab540" stroke="#0d0d0d" stroke-width="1.05"/>
<circle cx="90.3" cy="666" r="3.45" fill="#6ab540" stroke="#0d0d0d" stroke-width="1.05"/>
<circle cx="80.1" cy="669.7" r="3.45" fill="#6ab540" stroke="#0d0d0d" stroke-width="1.05"/>
<circle cx="85" cy="675" r="3.45" fill="#6ab540" stroke="#0d0d0d" stroke-width="1.05"/>
<circle cx="84.2" cy="677.4" r="3.45" fill="#6ab540" stroke="#0d0d0d" stroke-width="1.05"/>
<circle cx="86.2" cy="682.7" r="3.45" fill="#6ab540" stroke="#0d0d0d" stroke-width="1.05"/>
<circle cx="85" cy="694.5" r="3.45" fill="#6ab540" stroke="#0d0d0d" stroke-width="1.05"/>
<circle cx="86.6" cy="695.3" r="3.45" fill="#6ab540" stroke="#0d0d0d" stroke-width="1.05"/>
<line x1="85.4" y1="655.5" x2="85.4" y2="676.2" stroke="#000" stroke-width="1.2"/>
<line x1="80.8" y1="655.5" x2="90" y2="655.5" stroke="#000" stroke-width="1.2"/>
<line x1="80.8" y1="676.2" x2="90" y2="676.2" stroke="#000" stroke-width="1.2"/>
<line x1="76.1" y1="663.2" x2="95.2" y2="663.2" stroke="#000" stroke-width="1.6"/>
<circle cx="114.5" cy="602.1" r="3.45" fill="#c0143c" stroke="#0d0d0d" stroke-width="1.05"/>
<circle cx="113.5" cy="613.5" r="3.45" fill="#c0143c" stroke="#0d0d0d" stroke-width="1.05"/>
<circle cx="115.6" cy="624.6" r="3.45" fill="#c0143c" stroke="#0d0d0d" stroke-width="1.05"/>
<circle cx="112.1" cy="650.5" r="3.45" fill="#c0143c" stroke="#0d0d0d" stroke-width="1.05"/>
<circle cx="114.2" cy="654.7" r="3.45" fill="#c0143c" stroke="#0d0d0d" stroke-width="1.05"/>
<circle cx="110" cy="661.9" r="3.45" fill="#c0143c" stroke="#0d0d0d" stroke-width="1.05"/>
<circle cx="117.8" cy="661.1" r="3.45" fill="#c0143c" stroke="#0d0d0d" stroke-width="1.05"/>
<circle cx="119.9" cy="664" r="3.45" fill="#c0143c" stroke="#0d0d0d" stroke-width="1.05"/>
<circle cx="111.4" cy="667.5" r="3.45" fill="#c0143c" stroke="#0d0d0d" stroke-width="1.05"/>
<circle cx="114.2" cy="672.5" r="3.45" fill="#c0143c" stroke="#0d0d0d" stroke-width="1.05"/>
<circle cx="116.4" cy="676.1" r="3.45" fill="#c0143c" stroke="#0d0d0d" stroke-width="1.05"/>
<circle cx="113.5" cy="685.3" r="3.45" fill="#c0143c" stroke="#0d0d0d" stroke-width="1.05"/>
<circle cx="115.6" cy="692.4" r="3.45" fill="#c0143c" stroke="#0d0d0d" stroke-width="1.05"/>
<line x1="114.6" y1="624.6" x2="114.6" y2="676.4" stroke="#000" stroke-width="1.2"/>
<line x1="109.8" y1="624.6" x2="119.4" y2="624.6" stroke="#000" stroke-width="1.2"/>
<line x1="109.8" y1="676.4" x2="119.4" y2="676.4" stroke="#000" stroke-width="1.2"/>
<line x1="105" y1="662.6" x2="123.5" y2="662.6" stroke="#000" stroke-width="1.6"/>
<line x1="255" y1="582" x2="255" y2="701.9" stroke="#000" stroke-width="1.6"/>
<line x1="254.2" y1="701.3" x2="312.5" y2="701.3" stroke="#000" stroke-width="1.6"/>
<line x1="250" y1="693" x2="255" y2="693" stroke="#000" stroke-width="1.4"/>
<text x="245.1" y="697.3" font-size="13.5" font-weight="normal" text-anchor="end" fill="#1c1c1c" textLength="7.3" lengthAdjust="spacingAndGlyphs">0</text>
<line x1="250" y1="675.3" x2="255" y2="675.3" stroke="#000" stroke-width="1.4"/>
<text x="245.1" y="679.6" font-size="13.5" font-weight="normal" text-anchor="end" fill="#1c1c1c" textLength="14.6" lengthAdjust="spacingAndGlyphs">10</text>
<line x1="250" y1="657.6" x2="255" y2="657.6" stroke="#000" stroke-width="1.4"/>
<text x="245.1" y="661.9" font-size="13.5" font-weight="normal" text-anchor="end" fill="#1c1c1c" textLength="14.6" lengthAdjust="spacingAndGlyphs">20</text>
<line x1="250" y1="639.9" x2="255" y2="639.9" stroke="#000" stroke-width="1.4"/>
<text x="245.1" y="644.2" font-size="13.5" font-weight="normal" text-anchor="end" fill="#1c1c1c" textLength="14.6" lengthAdjust="spacingAndGlyphs">30</text>
<line x1="250" y1="622.2" x2="255" y2="622.2" stroke="#000" stroke-width="1.4"/>
<text x="245.1" y="626.5" font-size="13.5" font-weight="normal" text-anchor="end" fill="#1c1c1c" textLength="14.6" lengthAdjust="spacingAndGlyphs">40</text>
<line x1="250" y1="604.5" x2="255" y2="604.5" stroke="#000" stroke-width="1.4"/>
<text x="245.1" y="608.8" font-size="13.5" font-weight="normal" text-anchor="end" fill="#1c1c1c" textLength="14.6" lengthAdjust="spacingAndGlyphs">50</text>
<line x1="250" y1="586.8" x2="255" y2="586.8" stroke="#000" stroke-width="1.4"/>
<text x="245.1" y="591.1" font-size="13.5" font-weight="normal" text-anchor="end" fill="#1c1c1c" textLength="14.6" lengthAdjust="spacingAndGlyphs">60</text>
<line x1="269.3" y1="701.3" x2="269.3" y2="705.3" stroke="#000" stroke-width="1.4"/>
<line x1="298" y1="701.3" x2="298" y2="705.3" stroke="#000" stroke-width="1.4"/>
<text x="269.4" y="723.3" font-size="12.6" font-weight="normal" text-anchor="middle" fill="#1c1c1c">C</text>
<text x="298.1" y="723.3" font-size="12.6" font-weight="normal" text-anchor="middle" fill="#1c1c1c">H</text>
<text x="203.2" y="662.6" font-size="16" font-weight="normal" text-anchor="start" fill="#1c1c1c" textLength="35.5" lengthAdjust="spacingAndGlyphs" transform="rotate(-90 203.2 662.6)">% IFN&#947;</text>
<text x="195.6" y="627.2" font-size="10.5" font-weight="normal" text-anchor="start" fill="#1c1c1c" textLength="5.6" lengthAdjust="spacingAndGlyphs" transform="rotate(-90 195.6 627.2)">+</text>
<text x="220.8" y="695.7" font-size="16" font-weight="normal" text-anchor="start" fill="#1c1c1c" textLength="78.8" lengthAdjust="spacingAndGlyphs" transform="rotate(-90 220.8 695.7)">(gated on CD38</text>
<text x="215.2" y="616.9" font-size="11" font-weight="normal" text-anchor="start" fill="#1c1c1c" textLength="22.8" lengthAdjust="spacingAndGlyphs" transform="rotate(-90 215.2 616.9)">high</text>
<text x="220.8" y="593.9" font-size="16" font-weight="normal" text-anchor="start" fill="#1c1c1c" textLength="5" lengthAdjust="spacingAndGlyphs" transform="rotate(-90 220.8 593.9)">)</text>
<line x1="267" y1="588.3" x2="294.5" y2="588.3" stroke="#000" stroke-width="1.3"/>
<path d="M292.00,579.35L292.65,581.11L294.52,581.18L293.05,582.34L293.56,584.14L292.00,583.10L290.44,584.14L290.95,582.34L289.48,581.18L291.35,581.11Z" fill="#1a1a1a"/>
<circle cx="269.1" cy="642.8" r="3.45" fill="#6ab540" stroke="#0d0d0d" stroke-width="1.05"/>
<circle cx="269.1" cy="664.2" r="3.45" fill="#6ab540" stroke="#0d0d0d" stroke-width="1.05"/>
<circle cx="270.2" cy="665.3" r="3.45" fill="#6ab540" stroke="#0d0d0d" stroke-width="1.05"/>
<circle cx="269.2" cy="680.3" r="3.45" fill="#6ab540" stroke="#0d0d0d" stroke-width="1.05"/>
<circle cx="265.9" cy="683.7" r="3.45" fill="#6ab540" stroke="#0d0d0d" stroke-width="1.05"/>
<circle cx="272.6" cy="683.7" r="3.45" fill="#6ab540" stroke="#0d0d0d" stroke-width="1.05"/>
<circle cx="269.2" cy="685.1" r="3.45" fill="#6ab540" stroke="#0d0d0d" stroke-width="1.05"/>
<circle cx="264.5" cy="690.8" r="3.45" fill="#6ab540" stroke="#0d0d0d" stroke-width="1.05"/>
<circle cx="267.8" cy="691.7" r="3.45" fill="#6ab540" stroke="#0d0d0d" stroke-width="1.05"/>
<circle cx="271.6" cy="692.2" r="3.45" fill="#6ab540" stroke="#0d0d0d" stroke-width="1.05"/>
<circle cx="275" cy="691.7" r="3.45" fill="#6ab540" stroke="#0d0d0d" stroke-width="1.05"/>
<circle cx="269.2" cy="693.6" r="3.45" fill="#6ab540" stroke="#0d0d0d" stroke-width="1.05"/>
<line x1="259.3" y1="688.4" x2="278.7" y2="688.4" stroke="#000" stroke-width="1.6"/>
<line x1="269.2" y1="682" x2="269.2" y2="693" stroke="#000" stroke-width="1.2"/>
<line x1="265.7" y1="682" x2="272.7" y2="682" stroke="#000" stroke-width="1.2"/>
<line x1="265.7" y1="693" x2="272.7" y2="693" stroke="#000" stroke-width="1.2"/>
<circle cx="297.6" cy="596.7" r="3.45" fill="#c0143c" stroke="#0d0d0d" stroke-width="1.05"/>
<circle cx="293.1" cy="637.8" r="3.45" fill="#c0143c" stroke="#0d0d0d" stroke-width="1.05"/>
<circle cx="297.6" cy="637.8" r="3.45" fill="#c0143c" stroke="#0d0d0d" stroke-width="1.05"/>
<circle cx="294.9" cy="644.5" r="3.45" fill="#c0143c" stroke="#0d0d0d" stroke-width="1.05"/>
<circle cx="302.4" cy="643.7" r="3.45" fill="#c0143c" stroke="#0d0d0d" stroke-width="1.05"/>
<circle cx="300.9" cy="646.4" r="3.45" fill="#c0143c" stroke="#0d0d0d" stroke-width="1.05"/>
<circle cx="295.4" cy="657.2" r="3.45" fill="#c0143c" stroke="#0d0d0d" stroke-width="1.05"/>
<circle cx="299.4" cy="660.9" r="3.45" fill="#c0143c" stroke="#0d0d0d" stroke-width="1.05"/>
<circle cx="300.1" cy="666.1" r="3.45" fill="#c0143c" stroke="#0d0d0d" stroke-width="1.05"/>
<circle cx="299.4" cy="676.6" r="3.45" fill="#c0143c" stroke="#0d0d0d" stroke-width="1.05"/>
<circle cx="293.4" cy="680.3" r="3.45" fill="#c0143c" stroke="#0d0d0d" stroke-width="1.05"/>
<circle cx="296.4" cy="679.6" r="3.45" fill="#c0143c" stroke="#0d0d0d" stroke-width="1.05"/>
<circle cx="295.7" cy="687" r="3.45" fill="#c0143c" stroke="#0d0d0d" stroke-width="1.05"/>
<circle cx="298.7" cy="688.5" r="3.45" fill="#c0143c" stroke="#0d0d0d" stroke-width="1.05"/>
<circle cx="302.4" cy="690.7" r="3.45" fill="#c0143c" stroke="#0d0d0d" stroke-width="1.05"/>
<circle cx="299.4" cy="692.2" r="3.45" fill="#c0143c" stroke="#0d0d0d" stroke-width="1.05"/>
<line x1="298" y1="643" x2="298" y2="684.8" stroke="#000" stroke-width="1.2"/>
<line x1="293.5" y1="643" x2="302.5" y2="643" stroke="#000" stroke-width="1.2"/>
<line x1="293.5" y1="684.8" x2="302.5" y2="684.8" stroke="#000" stroke-width="1.2"/>
<line x1="288.2" y1="663.4" x2="307.6" y2="663.4" stroke="#000" stroke-width="1.6"/>
<line x1="429.3" y1="582.5" x2="429.3" y2="702.4" stroke="#000" stroke-width="1.6"/>
<line x1="428.5" y1="701.8" x2="487.6" y2="701.8" stroke="#000" stroke-width="1.6"/>
<line x1="424.3" y1="694.3" x2="429.3" y2="694.3" stroke="#000" stroke-width="1.4"/>
<text x="420.1" y="698.6" font-size="13.5" font-weight="normal" text-anchor="end" fill="#1c1c1c" textLength="7.3" lengthAdjust="spacingAndGlyphs">0</text>
<line x1="424.3" y1="658.7" x2="429.3" y2="658.7" stroke="#000" stroke-width="1.4"/>
<text x="420.1" y="663" font-size="13.5" font-weight="normal" text-anchor="end" fill="#1c1c1c" textLength="14.6" lengthAdjust="spacingAndGlyphs">25</text>
<line x1="424.3" y1="623.1" x2="429.3" y2="623.1" stroke="#000" stroke-width="1.4"/>
<text x="420.1" y="627.4" font-size="13.5" font-weight="normal" text-anchor="end" fill="#1c1c1c" textLength="14.6" lengthAdjust="spacingAndGlyphs">50</text>
<line x1="424.3" y1="587.5" x2="429.3" y2="587.5" stroke="#000" stroke-width="1.4"/>
<text x="420.1" y="591.8" font-size="13.5" font-weight="normal" text-anchor="end" fill="#1c1c1c" textLength="14.6" lengthAdjust="spacingAndGlyphs">75</text>
<line x1="444.4" y1="701.8" x2="444.4" y2="705.8" stroke="#000" stroke-width="1.4"/>
<line x1="473.1" y1="701.8" x2="473.1" y2="705.8" stroke="#000" stroke-width="1.4"/>
<text x="444.6" y="723.3" font-size="12.6" font-weight="normal" text-anchor="middle" fill="#1c1c1c">C</text>
<text x="473.2" y="723.3" font-size="12.6" font-weight="normal" text-anchor="middle" fill="#1c1c1c">H</text>
<text x="377.4" y="666" font-size="16" font-weight="normal" text-anchor="start" fill="#1c1c1c" textLength="39.8" lengthAdjust="spacingAndGlyphs" transform="rotate(-90 377.4 666)">% TNF&#945;</text>
<text x="370.6" y="625.4" font-size="10.5" font-weight="normal" text-anchor="start" fill="#1c1c1c" textLength="5.6" lengthAdjust="spacingAndGlyphs" transform="rotate(-90 370.6 625.4)">+</text>
<text x="395.4" y="695.7" font-size="16" font-weight="normal" text-anchor="start" fill="#1c1c1c" textLength="79.5" lengthAdjust="spacingAndGlyphs" transform="rotate(-90 395.4 695.7)">(gated on CD38</text>
<text x="389.4" y="616.1" font-size="11" font-weight="normal" text-anchor="start" fill="#1c1c1c" textLength="22" lengthAdjust="spacingAndGlyphs" transform="rotate(-90 389.4 616.1)">high</text>
<text x="395.4" y="593.9" font-size="16" font-weight="normal" text-anchor="start" fill="#1c1c1c" textLength="5" lengthAdjust="spacingAndGlyphs" transform="rotate(-90 395.4 593.9)">)</text>
<line x1="444.5" y1="610.6" x2="473.2" y2="610.6" stroke="#000" stroke-width="1.3"/>
<path d="M453.30,602.55L453.95,604.31L455.82,604.38L454.35,605.54L454.86,607.34L453.30,606.30L451.74,607.34L452.25,605.54L450.78,604.38L452.65,604.31ZM458.75,602.55L459.40,604.31L461.27,604.38L459.80,605.54L460.31,607.34L458.75,606.30L457.19,607.34L457.70,605.54L456.23,604.38L458.10,604.31ZM464.20,602.55L464.85,604.31L466.72,604.38L465.25,605.54L465.76,607.34L464.20,606.30L462.64,607.34L463.15,605.54L461.68,604.38L463.55,604.31Z" fill="#1a1a1a"/>
<circle cx="444.4" cy="679.8" r="3.45" fill="#6ab540" stroke="#0d0d0d" stroke-width="1.05"/>
<circle cx="448.5" cy="686.7" r="3.45" fill="#6ab540" stroke="#0d0d0d" stroke-width="1.05"/>
<circle cx="441.5" cy="688.5" r="3.45" fill="#6ab540" stroke="#0d0d0d" stroke-width="1.05"/>
<circle cx="438.1" cy="690.5" r="3.45" fill="#6ab540" stroke="#0d0d0d" stroke-width="1.05"/>
<circle cx="446.2" cy="689" r="3.45" fill="#6ab540" stroke="#0d0d0d" stroke-width="1.05"/>
<circle cx="441.5" cy="692.2" r="3.45" fill="#6ab540" stroke="#0d0d0d" stroke-width="1.05"/>
<circle cx="449" cy="694.2" r="3.45" fill="#6ab540" stroke="#0d0d0d" stroke-width="1.05"/>
<circle cx="445.6" cy="696.5" r="3.45" fill="#6ab540" stroke="#0d0d0d" stroke-width="1.05"/>
<line x1="434.9" y1="690.5" x2="453.7" y2="690.5" stroke="#000" stroke-width="1.6"/>
<line x1="444.7" y1="686" x2="444.7" y2="694.5" stroke="#000" stroke-width="1.2"/>
<line x1="441.2" y1="686" x2="448.2" y2="686" stroke="#000" stroke-width="1.2"/>
<line x1="441.2" y1="694.5" x2="448.2" y2="694.5" stroke="#000" stroke-width="1.2"/>
<circle cx="472.8" cy="622.7" r="3.45" fill="#c0143c" stroke="#0d0d0d" stroke-width="1.05"/>
<circle cx="472.8" cy="645.5" r="3.45" fill="#c0143c" stroke="#0d0d0d" stroke-width="1.05"/>
<circle cx="468.2" cy="654.7" r="3.45" fill="#c0143c" stroke="#0d0d0d" stroke-width="1.05"/>
<circle cx="477.4" cy="661" r="3.45" fill="#c0143c" stroke="#0d0d0d" stroke-width="1.05"/>
<circle cx="473.4" cy="663.4" r="3.45" fill="#c0143c" stroke="#0d0d0d" stroke-width="1.05"/>
<circle cx="475.1" cy="665.7" r="3.45" fill="#c0143c" stroke="#0d0d0d" stroke-width="1.05"/>
<circle cx="471.1" cy="666.8" r="3.45" fill="#c0143c" stroke="#0d0d0d" stroke-width="1.05"/>
<circle cx="476.9" cy="668" r="3.45" fill="#c0143c" stroke="#0d0d0d" stroke-width="1.05"/>
<circle cx="468.2" cy="676.6" r="3.45" fill="#c0143c" stroke="#0d0d0d" stroke-width="1.05"/>
<circle cx="468.2" cy="685.2" r="3.45" fill="#c0143c" stroke="#0d0d0d" stroke-width="1.05"/>
<circle cx="472.3" cy="688.7" r="3.45" fill="#c0143c" stroke="#0d0d0d" stroke-width="1.05"/>
<circle cx="477.4" cy="691" r="3.45" fill="#c0143c" stroke="#0d0d0d" stroke-width="1.05"/>
<line x1="473.2" y1="655.1" x2="473.2" y2="689" stroke="#000" stroke-width="1.2"/>
<line x1="468.6" y1="655.1" x2="477.8" y2="655.1" stroke="#000" stroke-width="1.2"/>
<line x1="468.6" y1="689" x2="477.8" y2="689" stroke="#000" stroke-width="1.2"/>
<line x1="463.6" y1="667" x2="482.6" y2="667" stroke="#000" stroke-width="1.6"/>
<rect x="1" y="1" width="518" height="736" fill="none" stroke="#000" stroke-width="2"/>
</svg></body></html>
